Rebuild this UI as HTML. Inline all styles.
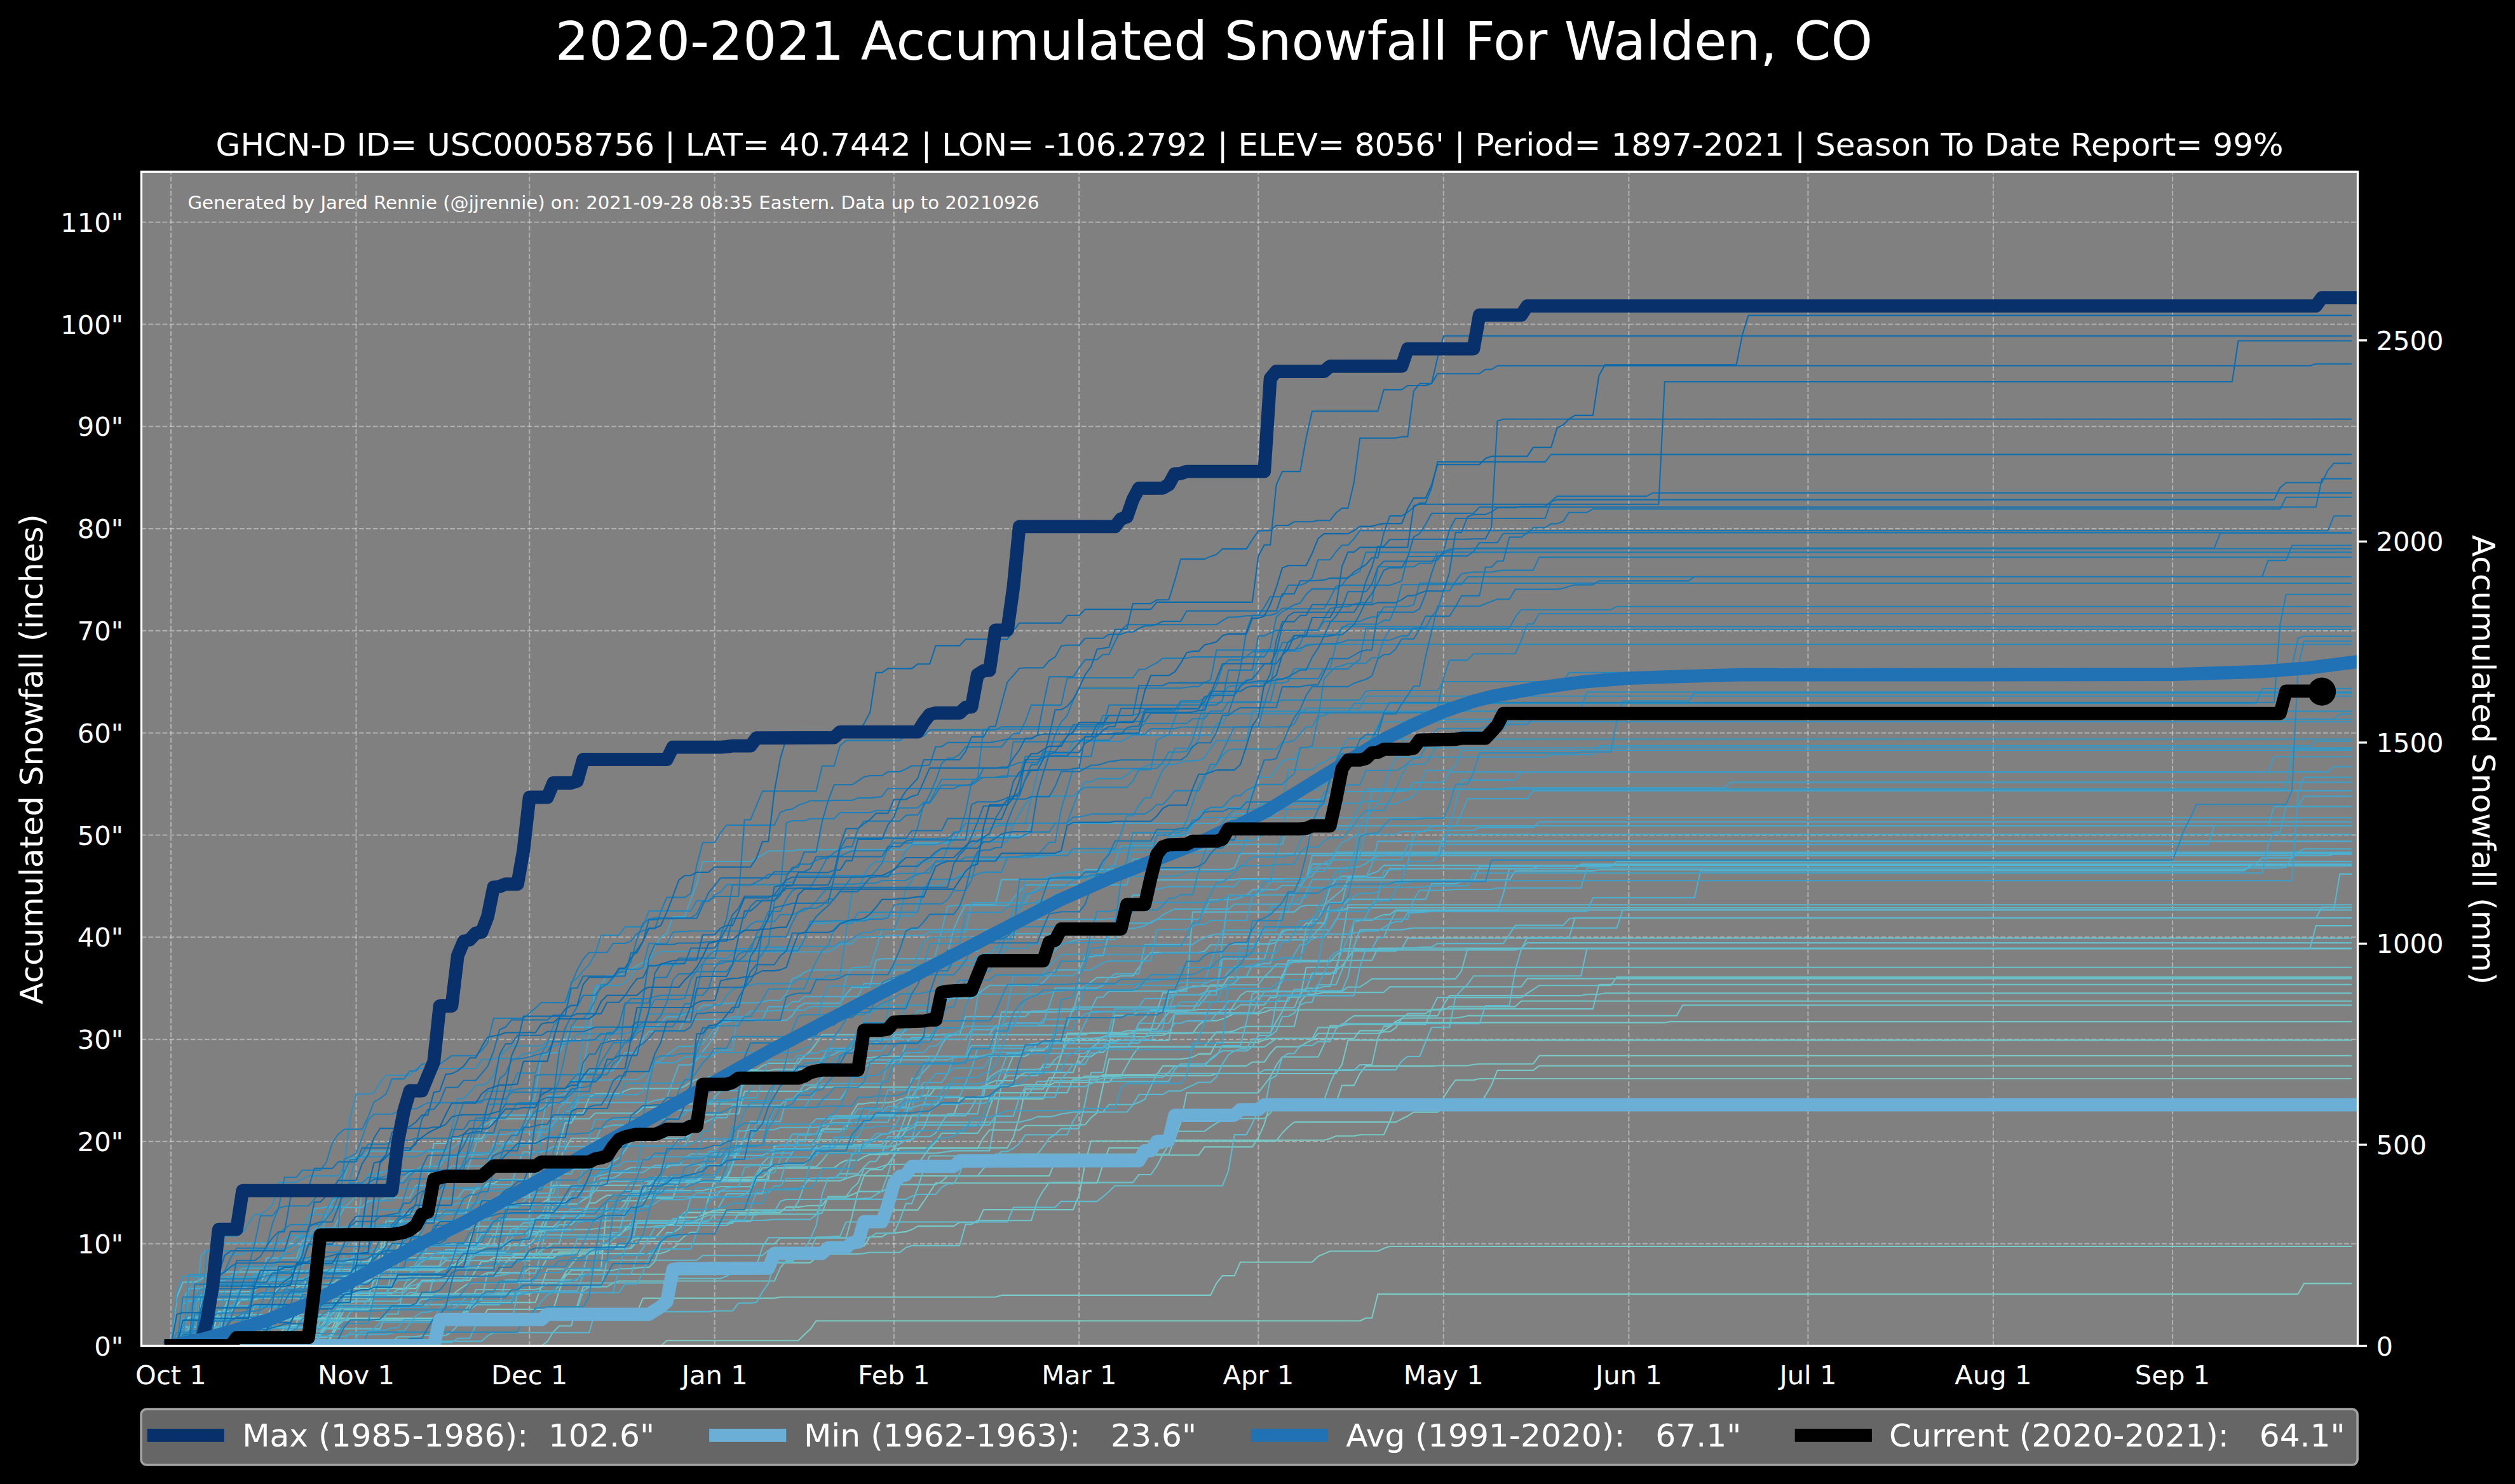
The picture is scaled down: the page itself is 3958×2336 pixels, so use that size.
<!DOCTYPE html><html><head><meta charset="utf-8"><title>2020-2021 Accumulated Snowfall For Walden, CO</title>
<style>html,body{margin:0;padding:0;background:#000;}svg{display:block}text{font-family:"DejaVu Sans","Liberation Sans",sans-serif;fill:#fff}</style></head><body>
<svg width="3958" height="2336" viewBox="0 0 3958 2336">
<rect width="3958" height="2336" fill="#000"/>
<rect x="222.5" y="270.3" width="3488.0" height="1848.2" fill="#808080"/>
<clipPath id="c"><rect x="222.5" y="270.3" width="3488.0" height="1848.2"/></clipPath>
<path d="M269.0 2118.5V270.3M560.5 2118.5V270.3M833.2 2118.5V270.3M1124.7 2118.5V270.3M1406.8 2118.5V270.3M1698.3 2118.5V270.3M1980.3 2118.5V270.3M2271.8 2118.5V270.3M2563.3 2118.5V270.3M2845.4 2118.5V270.3M3136.9 2118.5V270.3M3419.0 2118.5V270.3" stroke="#fff" stroke-opacity="0.37" stroke-width="2.08" stroke-dasharray="7.71 3.33" fill="none"/>
<path d="M222.5 2118.5H3710.5M222.5 1957.7H3710.5M222.5 1796.9H3710.5M222.5 1636.1H3710.5M222.5 1475.3H3710.5M222.5 1314.5H3710.5M222.5 1153.7H3710.5M222.5 992.9H3710.5M222.5 832.1H3710.5M222.5 671.3H3710.5M222.5 510.5H3710.5M222.5 349.7H3710.5" stroke="#fff" stroke-opacity="0.37" stroke-width="2.08" stroke-dasharray="7.71 3.33" fill="none"/>
<g clip-path="url(#c)" fill="none" stroke-linejoin="round">
<g stroke-width="2.08" stroke-linecap="butt">
<path d="M269.0 2118.5L1040.0 2118.5L1049.4 2110.3L1256.3 2110.3L1265.7 2101.0L1275.1 2092.3L1284.5 2079.2L2140.2 2079.2L2149.6 2074.8L2159.0 2074.8L2168.4 2037.1L3616.5 2037.1L3625.9 2020.4L3701.1 2020.4" stroke="#7bccc4"/>
<path d="M269.0 2118.5L306.6 2118.5L316.0 2096.8L325.4 2075.1L870.8 2075.1L880.2 2066.2L1002.4 2066.2L1011.8 2043.6L1218.7 2043.6L1228.1 2041.8L1566.6 2041.8L1576.0 2038.9L1905.1 2038.9L1914.5 2019.8L1923.9 2008.1L1942.7 2008.1L1952.1 1986.7L2065.0 1986.7L2074.4 1977.8L2083.8 1973.6L2093.2 1969.5L2168.4 1969.5L2177.8 1965.1L2187.2 1962.0L3701.1 1962.0" stroke="#79cbc5"/>
<path d="M269.0 2118.5L278.4 2118.5L287.8 2108.1L297.2 2097.4L334.8 2097.4L344.2 2064.4L363.0 2064.4L372.4 2055.1L381.8 2042.6L532.3 2042.6L541.7 2015.0L551.1 1999.3L692.1 1999.3L701.5 1996.5L710.9 1996.5L720.3 1985.5L729.7 1973.6L936.6 1973.6L946.0 1966.0L955.4 1958.0L964.8 1950.3L974.2 1945.4L983.6 1935.1L993.0 1925.8L1058.9 1925.8L1068.3 1916.2L1096.5 1916.2L1105.9 1912.6L1115.3 1909.0L1124.7 1904.6L1444.4 1904.6L1453.8 1891.2L1463.2 1877.0L1472.6 1862.2L1726.5 1862.2L1735.9 1832.8L1745.3 1807.0L1829.9 1807.0L1839.3 1794.7L2083.8 1794.7L2093.2 1792.3L2102.6 1788.2L2130.8 1788.2L2140.2 1786.2L2177.8 1786.2L2187.2 1765.2L2196.6 1740.8L2262.4 1740.8L2271.8 1727.7L2281.2 1712.9L2290.6 1700.2L2318.9 1700.2L2328.3 1698.0L3701.1 1698.0" stroke="#78cac5"/>
<path d="M269.0 2118.5L513.5 2118.5L522.9 2097.9L532.3 2078.0L758.0 2078.0L767.4 2061.0L870.8 2061.0L880.2 2031.5L889.6 2005.7L1096.5 2005.7L1105.9 2003.7L1115.3 1987.6L1275.1 1987.6L1284.5 1979.6L1293.9 1961.4L1359.7 1961.4L1369.2 1946.9L1388.0 1946.9L1397.4 1941.2L1406.8 1941.2L1416.2 1939.9L1425.6 1938.9L1435.0 1935.6L1444.4 1930.1L1500.8 1930.1L1510.2 1924.2L1538.4 1924.2L1547.8 1904.1L1688.9 1904.1L1698.3 1881.0L1707.7 1831.0L1717.1 1796.2L2008.6 1796.2L2018.0 1783.5L2027.4 1774.0L2036.8 1766.4L2196.6 1766.4L2206.0 1761.3L2215.4 1756.7L2224.8 1750.6L2262.4 1750.6L2271.8 1743.8L2281.2 1739.8L2328.3 1739.8L2337.7 1724.5L2347.1 1708.4L2356.5 1684.9L2412.9 1684.9L2422.3 1677.7L3701.1 1677.7" stroke="#76c9c6"/>
<path d="M269.0 2118.5L428.9 2118.5L438.3 2101.7L447.7 2090.7L466.5 2090.7L475.9 2090.6L485.3 2090.5L522.9 2090.5L532.3 2070.3L541.7 2044.4L551.1 2028.1L654.5 2028.1L663.9 2015.5L739.2 2015.5L748.6 1999.7L758.0 1985.6L767.4 1985.6L776.8 1979.9L870.8 1979.9L880.2 1970.8L946.0 1970.8L955.4 1960.7L983.6 1960.7L993.0 1952.4L1002.4 1949.3L1030.6 1949.3L1040.0 1938.4L1049.4 1927.8L1058.9 1927.8L1068.3 1915.8L1077.7 1908.6L1228.1 1908.6L1237.5 1900.1L1256.3 1900.1L1265.7 1898.8L1275.1 1897.7L1293.9 1897.7L1303.3 1884.5L1331.5 1884.5L1340.9 1880.5L1350.3 1876.8L1359.7 1851.0L1651.2 1851.0L1660.6 1827.7L1679.5 1827.7L1688.9 1825.9L1698.3 1824.1L1707.7 1818.3L1886.3 1818.3L1895.7 1805.4L1970.9 1805.4L1980.3 1790.7L1989.7 1769.4L1999.2 1736.0L2102.6 1736.0L2112.0 1708.6L2130.8 1708.6L2140.2 1689.8L2149.6 1678.1L2253.0 1678.1L2262.4 1677.5L2309.5 1677.5L2318.9 1675.8L2328.3 1674.7L2412.9 1674.7L2422.3 1661.8L3701.1 1661.8" stroke="#75c9c6"/>
<path d="M269.0 2118.5L278.4 2118.5L287.8 2086.6L297.2 2073.5L419.4 2073.5L428.9 2055.4L466.5 2055.4L475.9 2054.0L532.3 2054.0L541.7 2048.6L579.3 2048.6L588.7 2037.2L598.1 2000.7L607.5 1943.3L616.9 1933.9L626.3 1933.9L635.7 1910.2L748.6 1910.2L758.0 1896.7L833.2 1896.7L842.6 1894.5L852.0 1894.5L861.4 1888.8L870.8 1865.8L1021.2 1865.8L1030.6 1853.1L1143.5 1853.1L1152.9 1833.4L1162.3 1804.9L1171.7 1794.2L1416.2 1794.2L1425.6 1779.0L1435.0 1755.5L1500.8 1755.5L1510.2 1729.6L1641.8 1729.6L1651.2 1708.6L1660.6 1703.7L1745.3 1703.7L1754.7 1693.3L1905.1 1693.3L1914.5 1690.0L2102.6 1690.0L2112.0 1675.6L2121.4 1637.4L3701.1 1637.4" stroke="#73c8c7"/>
<path d="M269.0 2118.5L513.5 2118.5L522.9 2102.3L532.3 2085.8L541.7 2077.5L720.3 2077.5L729.7 2066.8L739.2 2061.5L748.6 2054.6L758.0 2050.1L842.6 2050.1L852.0 2024.5L861.4 1997.7L946.0 1997.7L955.4 1890.3L1011.8 1890.3L1021.2 1885.6L1058.9 1885.6L1068.3 1858.4L1087.1 1858.4L1096.5 1856.9L1105.9 1854.0L1162.3 1854.0L1171.7 1853.7L1181.1 1853.0L1199.9 1853.0L1209.3 1845.0L1218.7 1838.6L1312.7 1838.6L1322.1 1831.0L1331.5 1826.5L1350.3 1826.5L1359.7 1821.0L1369.2 1817.3L1397.4 1817.3L1406.8 1807.8L1538.4 1807.8L1547.8 1790.6L1557.2 1778.8L1604.2 1778.8L1613.6 1771.7L1688.9 1771.7L1698.3 1771.2L1707.7 1770.3L1717.1 1759.2L1726.5 1751.8L1735.9 1708.8L1745.3 1667.3L1858.1 1667.3L1867.5 1665.9L1876.9 1664.1L1886.3 1659.1L1905.1 1659.1L1914.5 1640.8L1980.3 1640.8L1989.7 1636.7L1999.2 1634.7L2130.8 1634.7L2140.2 1622.4L2177.8 1622.4L2187.2 1615.9L2196.6 1609.9L2619.8 1609.9L2629.2 1608.1L3701.1 1608.1" stroke="#72c7c7"/>
<path d="M269.0 2118.5L391.2 2118.5L400.6 2113.7L447.7 2113.7L457.1 2086.3L466.5 2086.3L475.9 2031.1L485.3 2004.7L494.7 1986.3L579.3 1986.3L588.7 1973.1L710.9 1973.1L720.3 1970.3L729.7 1968.2L739.2 1965.8L758.0 1965.8L767.4 1960.5L833.2 1960.5L842.6 1947.9L852.0 1931.1L870.8 1931.1L880.2 1922.1L889.6 1914.6L917.8 1914.6L927.2 1893.6L936.6 1893.6L946.0 1887.1L955.4 1881.5L1002.4 1881.5L1011.8 1876.4L1021.2 1870.2L1030.6 1865.3L1058.9 1865.3L1068.3 1858.7L1322.1 1858.7L1331.5 1855.3L1340.9 1852.1L1350.3 1849.7L1359.7 1849.7L1369.2 1841.1L1388.0 1841.1L1397.4 1832.3L1406.8 1819.4L1416.2 1807.0L1585.4 1807.0L1594.8 1790.1L1604.2 1758.1L1613.6 1714.2L1641.8 1714.2L1651.2 1696.5L1726.5 1696.5L1735.9 1692.0L1820.5 1692.0L1829.9 1677.9L1961.5 1677.9L1970.9 1671.8L1989.7 1671.8L1999.2 1658.0L2008.6 1647.7L2046.2 1647.7L2055.6 1641.4L2065.0 1637.3L2074.4 1626.8L2168.4 1626.8L2177.8 1624.3L2187.2 1624.3L2196.6 1617.8L2206.0 1602.7L2215.4 1602.7L2224.8 1602.5L2290.6 1602.5L2300.0 1601.2L2309.5 1598.9L2638.6 1598.9L2648.0 1582.2L3701.1 1582.2" stroke="#70c6c8"/>
<path d="M269.0 2118.5L306.6 2118.5L316.0 2052.2L325.4 2022.9L504.1 2022.9L513.5 2019.9L569.9 2019.9L579.3 2015.6L588.7 2013.1L598.1 2010.3L748.6 2010.3L758.0 2007.7L767.4 2003.4L823.8 2003.4L833.2 1996.5L852.0 1996.5L861.4 1979.9L870.8 1967.5L936.6 1967.5L946.0 1966.3L955.4 1965.3L993.0 1965.3L1002.4 1954.3L1068.3 1954.3L1077.7 1945.5L1087.1 1939.7L1096.5 1939.7L1105.9 1917.1L1115.3 1885.3L1124.7 1856.8L1209.3 1856.8L1218.7 1803.2L1275.1 1803.2L1284.5 1793.6L1293.9 1777.4L1331.5 1777.4L1340.9 1752.3L1350.3 1737.6L1359.7 1737.6L1369.2 1735.8L1397.4 1735.8L1406.8 1734.0L1416.2 1730.6L1425.6 1727.7L1444.4 1727.7L1453.8 1724.3L1463.2 1724.3L1472.6 1711.3L1538.4 1711.3L1547.8 1709.6L1594.8 1709.6L1604.2 1708.7L1613.6 1707.4L1651.2 1707.4L1660.6 1688.8L1670.0 1661.9L1679.5 1626.6L1876.9 1626.6L1886.3 1613.7L1895.7 1606.7L1914.5 1606.7L1923.9 1604.1L1942.7 1595.5L1980.3 1595.5L1989.7 1593.3L1999.2 1589.8L2271.8 1589.8L2281.2 1584.6L2384.7 1584.6L2394.1 1575.8L3701.1 1575.8" stroke="#6fc5c8"/>
<path d="M269.0 2118.5L410.0 2118.5L419.4 2100.8L504.1 2100.8L513.5 2077.1L522.9 2050.2L532.3 2046.7L541.7 2039.6L710.9 2039.6L720.3 2031.3L729.7 2024.8L739.2 2019.2L880.2 2019.2L889.6 2003.3L899.0 1991.1L908.4 1979.6L917.8 1973.1L1040.0 1973.1L1049.4 1970.1L1058.9 1964.4L1068.3 1958.1L1218.7 1958.1L1228.1 1948.6L1331.5 1948.6L1340.9 1914.8L1350.3 1875.6L1388.0 1875.6L1397.4 1870.6L1406.8 1864.6L1472.6 1864.6L1482.0 1859.7L1491.4 1851.2L1538.4 1851.2L1547.8 1839.4L1557.2 1830.9L1566.6 1816.8L1839.3 1816.8L1848.7 1793.4L1858.1 1767.1L1867.5 1720.4L1980.3 1720.4L1989.7 1707.7L1999.2 1695.1L2008.6 1676.9L2018.0 1663.7L2074.4 1663.7L2083.8 1643.9L2093.2 1614.8L2112.0 1614.8L2121.4 1605.3L2130.8 1599.1L2262.4 1599.1L2271.8 1581.9L2281.2 1567.1L2488.1 1567.1L2497.5 1565.2L2516.3 1565.2L2525.7 1563.4L3701.1 1563.4" stroke="#6dc4c9"/>
<path d="M269.0 2118.5L852.0 2118.5L861.4 2111.7L870.8 2096.4L880.2 2087.2L899.0 2087.2L908.4 2055.0L917.8 2025.4L955.4 2025.4L964.8 2019.6L974.2 2016.5L1218.7 2016.5L1228.1 1995.3L1237.5 1984.8L1246.9 1984.8L1256.3 1975.7L1265.7 1973.9L1350.3 1973.9L1359.7 1973.1L1369.2 1971.5L1416.2 1971.5L1425.6 1963.7L1435.0 1960.7L1510.2 1960.7L1519.6 1927.2L1529.0 1927.2L1538.4 1921.2L1623.0 1921.2L1632.4 1890.6L1641.8 1874.3L1651.2 1861.4L1782.9 1861.4L1792.3 1849.0L1811.1 1849.0L1820.5 1835.7L1829.9 1817.5L1839.3 1802.0L1848.7 1780.7L1895.7 1780.7L1905.1 1773.9L1914.5 1767.9L1923.9 1763.3L1933.3 1760.7L1989.7 1760.7L1999.2 1752.1L2008.6 1736.0L2046.2 1736.0L2055.6 1731.9L2083.8 1731.9L2093.2 1705.0L2102.6 1685.0L2130.8 1685.0L2140.2 1676.1L2149.6 1676.0L2159.0 1676.0L2168.4 1633.8L2177.8 1615.4L2187.2 1615.4L2196.6 1607.9L2206.0 1603.3L2215.4 1595.6L2243.6 1595.6L2253.0 1588.7L2262.4 1588.7L2271.8 1588.1L2506.9 1588.1L2516.3 1549.9L3701.1 1549.9" stroke="#6cc3c9"/>
<path d="M269.0 2118.5L297.2 2118.5L306.6 2045.7L400.6 2045.7L410.0 2043.3L579.3 2043.3L588.7 2014.0L598.1 1970.5L607.5 1922.3L710.9 1922.3L720.3 1922.0L729.7 1921.6L739.2 1888.7L748.6 1870.3L758.0 1870.3L767.4 1863.1L776.8 1863.1L786.2 1856.9L833.2 1856.9L842.6 1825.0L880.2 1825.0L889.6 1807.9L899.0 1791.8L1077.7 1791.8L1087.1 1784.7L1096.5 1754.8L1134.1 1754.8L1143.5 1753.9L1152.9 1753.2L1162.3 1753.2L1171.7 1717.9L1265.7 1717.9L1275.1 1711.4L1547.8 1711.4L1557.2 1705.0L1566.6 1701.1L1594.8 1701.1L1604.2 1693.9L1613.6 1688.1L1688.9 1688.1L1698.3 1663.2L1717.1 1663.2L1726.5 1656.6L1735.9 1656.6L1745.3 1647.6L1895.7 1647.6L1905.1 1635.3L1914.5 1624.5L1933.3 1624.5L1942.7 1622.6L1952.1 1618.1L1961.5 1615.7L2036.8 1615.7L2046.2 1577.9L2055.6 1565.4L2065.0 1565.4L2074.4 1563.9L2083.8 1562.1L2177.8 1562.1L2187.2 1553.4L2394.1 1553.4L2403.5 1540.4L3701.1 1540.4" stroke="#6ac3ca"/>
<path d="M269.0 2118.5L494.7 2118.5L504.1 2101.0L513.5 2088.0L522.9 2080.4L532.3 2080.4L541.7 2061.7L579.3 2061.7L588.7 2039.0L645.1 2039.0L654.5 2036.6L833.2 2036.6L842.6 2033.2L870.8 2033.2L880.2 2023.3L889.6 2009.5L899.0 1999.8L964.8 1999.8L974.2 1997.3L983.6 1997.3L993.0 1996.9L1002.4 1995.9L1011.8 1994.9L1021.2 1994.9L1030.6 1985.4L1040.0 1959.1L1049.4 1940.1L1058.9 1940.1L1068.3 1934.6L1077.7 1925.8L1152.9 1925.8L1162.3 1911.2L1284.5 1911.2L1293.9 1909.4L1303.3 1883.6L1331.5 1883.6L1340.9 1870.5L1350.3 1862.2L1359.7 1839.2L1378.6 1839.2L1388.0 1835.9L1397.4 1832.9L1444.4 1832.9L1453.8 1819.6L1463.2 1807.0L1472.6 1797.5L1482.0 1783.9L1538.4 1783.9L1547.8 1771.0L1557.2 1743.5L1566.6 1720.1L1679.5 1720.1L1688.9 1698.6L1698.3 1698.6L1707.7 1694.0L1764.1 1694.0L1773.5 1676.9L1782.9 1660.5L1792.3 1648.0L1989.7 1648.0L1999.2 1641.3L2008.6 1634.9L2065.0 1634.9L2074.4 1617.4L2102.6 1617.4L2112.0 1614.1L2121.4 1612.8L2243.6 1612.8L2253.0 1588.4L2262.4 1570.1L2394.1 1570.1L2403.5 1563.6L2412.9 1557.6L2422.3 1551.2L2535.1 1551.2L2544.5 1538.0L3701.1 1538.0" stroke="#68c2ca"/>
<path d="M269.0 2118.5L278.4 2118.5L287.8 2088.9L504.1 2088.9L513.5 2075.9L522.9 2049.4L532.3 2036.1L616.9 2036.1L626.3 2029.9L635.7 2029.9L645.1 2021.1L654.5 2014.0L663.9 2005.7L682.7 2005.7L692.1 2000.4L701.5 1996.2L710.9 1991.4L720.3 1991.4L729.7 1984.1L739.2 1950.4L748.6 1930.5L852.0 1930.5L861.4 1908.8L870.8 1837.7L880.2 1802.1L889.6 1767.6L899.0 1767.6L908.4 1752.2L917.8 1752.2L927.2 1727.5L936.6 1721.8L974.2 1721.8L983.6 1717.4L993.0 1713.5L1068.3 1713.5L1077.7 1709.9L1087.1 1703.6L1096.5 1698.7L1162.3 1698.7L1171.7 1690.8L1181.1 1685.6L1209.3 1685.6L1218.7 1683.4L1312.7 1683.4L1322.1 1678.2L1350.3 1678.2L1359.7 1665.0L1369.2 1665.0L1378.6 1663.7L1388.0 1662.7L1613.6 1662.7L1623.0 1656.9L1632.4 1642.4L1660.6 1642.4L1670.0 1634.7L1726.5 1634.7L1735.9 1632.0L1801.7 1632.0L1811.1 1629.9L1820.5 1629.7L1829.9 1629.7L1839.3 1625.8L1999.2 1625.8L2008.6 1608.1L2018.0 1592.4L2027.4 1569.7L2046.2 1569.7L2055.6 1522.7L3701.1 1522.7" stroke="#67c1cb"/>
<path d="M269.0 2118.5L278.4 2118.5L287.8 2110.9L297.2 2103.0L344.2 2103.0L353.6 2057.4L363.0 2037.5L428.9 2037.5L438.3 2027.8L466.5 2027.8L475.9 2020.8L522.9 2020.8L532.3 2013.0L541.7 2009.3L551.1 2001.5L569.9 2001.5L579.3 1998.9L588.7 1992.7L616.9 1992.7L626.3 1959.9L663.9 1959.9L673.3 1959.2L767.4 1959.2L776.8 1942.4L823.8 1942.4L833.2 1939.1L852.0 1939.1L861.4 1920.4L870.8 1898.4L880.2 1895.4L908.4 1895.4L917.8 1889.0L927.2 1883.4L936.6 1874.2L1105.9 1874.2L1115.3 1871.8L1124.7 1869.8L1134.1 1868.0L1181.1 1868.0L1190.5 1853.4L1199.9 1838.2L1228.1 1838.2L1237.5 1837.4L1246.9 1836.7L1284.5 1836.7L1293.9 1826.9L1303.3 1815.2L1472.6 1815.2L1482.0 1814.1L1491.4 1812.6L1500.8 1811.4L1557.2 1811.4L1566.6 1757.8L1576.0 1707.6L1585.4 1683.8L1594.8 1661.5L1604.2 1656.7L1613.6 1653.4L1641.8 1653.4L1651.2 1645.0L1660.6 1637.9L1839.3 1637.9L1848.7 1596.5L1858.1 1596.5L1867.5 1595.2L1933.3 1595.2L1942.7 1580.9L1952.1 1567.1L1961.5 1560.5L2112.0 1560.5L2121.4 1553.7L2140.2 1553.7L2149.6 1547.6L2159.0 1540.9L2290.6 1540.9L2300.0 1528.4L2309.5 1493.5L3701.1 1493.5" stroke="#65c0cb"/>
<path d="M269.0 2118.5L287.8 2118.5L297.2 2115.4L391.2 2115.4L400.6 2112.3L410.0 2098.3L419.4 2079.7L438.3 2079.7L447.7 2078.8L457.1 2077.3L513.5 2077.3L522.9 2051.5L541.7 2051.5L551.1 2050.6L560.5 2048.4L569.9 2008.5L579.3 1988.6L588.7 1975.1L598.1 1966.6L607.5 1958.8L654.5 1958.8L663.9 1906.9L673.3 1854.5L682.7 1800.0L701.5 1800.0L710.9 1792.5L758.0 1792.5L767.4 1777.7L776.8 1761.3L927.2 1761.3L936.6 1752.3L1002.4 1752.3L1011.8 1742.9L1068.3 1742.9L1077.7 1737.7L1162.3 1737.7L1171.7 1690.0L1181.1 1684.1L1190.5 1684.1L1199.9 1677.7L1209.3 1673.9L1256.3 1673.9L1265.7 1661.9L1275.1 1654.7L1284.5 1642.5L1293.9 1628.7L1707.7 1628.7L1717.1 1625.2L1764.1 1625.2L1773.5 1622.4L1811.1 1622.4L1820.5 1592.8L1829.9 1563.0L1839.3 1562.2L1848.7 1561.4L1858.1 1558.7L1867.5 1555.7L1876.9 1552.3L1923.9 1552.3L1933.3 1538.1L2018.0 1538.1L2027.4 1511.7L2159.0 1511.7L2168.4 1492.5L3701.1 1492.5" stroke="#64bfcc"/>
<path d="M269.0 2118.5L287.8 2118.5L297.2 2105.1L513.5 2105.1L522.9 2099.1L532.3 2082.6L541.7 2078.1L701.5 2078.1L720.3 2078.1L729.7 2078.1L739.2 2059.4L748.6 2030.0L842.6 2030.0L852.0 2026.7L861.4 2019.5L1058.9 2019.5L1068.3 2012.5L1134.1 2012.5L1143.5 2008.7L1152.9 2003.4L1181.1 2003.4L1190.5 1992.7L1199.9 1962.9L1209.3 1948.2L1369.2 1948.2L1378.6 1941.3L1406.8 1941.3L1416.2 1920.3L1425.6 1894.6L1435.0 1894.6L1444.4 1869.8L1453.8 1840.0L1463.2 1819.5L1576.0 1819.5L1585.4 1818.6L1594.8 1817.6L1604.2 1816.8L1632.4 1816.8L1641.8 1805.2L1651.2 1791.7L1660.6 1785.8L1670.0 1776.6L1698.3 1776.6L1707.7 1735.6L1717.1 1688.1L1735.9 1688.1L1745.3 1644.6L1754.7 1598.3L1782.9 1598.3L1792.3 1591.7L1867.5 1591.7L1876.9 1590.5L1886.3 1589.0L1942.7 1589.0L1952.1 1581.8L1989.7 1581.8L1999.2 1570.1L2008.6 1570.1L2018.0 1533.8L2093.2 1533.8L2102.6 1527.0L2112.0 1520.5L2121.4 1508.2L2130.8 1495.4L2384.7 1495.4L2394.1 1492.6L2403.5 1484.1L3701.1 1484.1" stroke="#62becc"/>
<path d="M269.0 2118.5L475.9 2118.5L485.3 2102.7L494.7 2102.7L504.1 2077.9L720.3 2077.9L729.7 2064.5L739.2 2053.2L748.6 2048.8L758.0 2044.2L767.4 2003.5L786.2 2003.5L795.6 1987.9L805.0 1979.3L814.4 1974.9L842.6 1974.9L852.0 1939.8L861.4 1935.5L927.2 1935.5L936.6 1934.3L946.0 1933.5L955.4 1931.6L1021.2 1931.6L1030.6 1930.4L1040.0 1929.0L1143.5 1929.0L1152.9 1922.8L1181.1 1922.8L1190.5 1905.1L1246.9 1905.1L1256.3 1891.8L1265.7 1865.1L1275.1 1854.6L1312.7 1854.6L1322.1 1847.6L1350.3 1847.6L1359.7 1837.0L1369.2 1828.1L1378.6 1828.1L1388.0 1814.7L1397.4 1793.7L1406.8 1793.7L1416.2 1782.4L1425.6 1755.6L1435.0 1726.0L1444.4 1713.2L1547.8 1713.2L1557.2 1712.7L1566.6 1712.7L1576.0 1703.5L1585.4 1693.2L1632.4 1693.2L1641.8 1675.4L1698.3 1675.4L1707.7 1664.4L1717.1 1650.4L1726.5 1642.6L1735.9 1632.1L1745.3 1628.7L1773.5 1628.7L1782.9 1624.2L1792.3 1619.9L1820.5 1619.9L1829.9 1605.1L1839.3 1594.3L1980.3 1594.3L1989.7 1586.3L2036.8 1586.3L2046.2 1564.6L2055.6 1555.6L2074.4 1555.6L2083.8 1553.0L2093.2 1553.0L2102.6 1522.0L2112.0 1494.1L2121.4 1493.2L2206.0 1493.2L2215.4 1476.7L3701.1 1476.7" stroke="#61bdcd"/>
<path d="M269.0 2118.5L306.6 2118.5L316.0 2037.1L325.4 2033.1L391.2 2033.1L400.6 2031.8L410.0 2020.4L419.4 2000.7L504.1 2000.7L513.5 1999.2L522.9 1998.1L626.3 1998.1L635.7 1997.0L645.1 1994.4L654.5 1993.4L692.1 1993.4L701.5 1984.3L833.2 1984.3L842.6 1975.2L852.0 1967.9L861.4 1963.1L870.8 1957.7L880.2 1957.7L889.6 1921.8L908.4 1921.8L917.8 1921.7L927.2 1921.6L936.6 1921.5L1096.5 1921.5L1105.9 1916.7L1115.3 1912.5L1190.5 1912.5L1199.9 1907.5L1218.7 1907.5L1228.1 1891.1L1237.5 1888.0L1284.5 1888.0L1293.9 1887.8L1303.3 1887.2L1350.3 1887.2L1359.7 1886.2L1369.2 1886.2L1378.6 1880.4L1388.0 1874.5L1397.4 1848.2L1406.8 1815.5L1416.2 1779.9L1425.6 1775.5L1435.0 1772.0L1444.4 1766.9L1453.8 1766.5L1604.2 1766.5L1613.6 1764.1L1623.0 1761.9L1632.4 1757.9L1651.2 1757.9L1660.6 1756.2L1670.0 1753.4L1679.5 1752.2L1688.9 1750.5L1735.9 1750.5L1745.3 1738.7L1782.9 1738.7L1792.3 1735.3L1801.7 1730.5L1811.1 1710.6L1820.5 1689.8L1980.3 1689.8L1989.7 1684.1L2196.6 1684.1L2206.0 1670.2L2215.4 1663.0L2234.2 1663.0L2243.6 1639.9L2253.0 1617.2L2281.2 1617.2L2290.6 1568.6L2300.0 1558.6L2309.5 1549.7L2318.9 1536.3L2488.1 1536.3L2497.5 1493.0L3635.3 1493.0L3644.7 1457.1L3701.1 1457.1" stroke="#5fbdcd"/>
<path d="M269.0 2118.5L381.8 2118.5L391.2 2116.7L400.6 2115.7L457.1 2115.7L466.5 2112.4L616.9 2112.4L626.3 2104.3L654.5 2104.3L663.9 2102.3L701.5 2102.3L710.9 2096.2L720.3 2086.5L814.4 2086.5L823.8 2084.0L842.6 2084.0L852.0 2064.2L870.8 2064.2L880.2 2060.0L908.4 2060.0L917.8 2032.1L927.2 2025.7L946.0 2025.7L955.4 1983.7L1096.5 1983.7L1105.9 1976.3L1199.9 1976.3L1209.3 1968.4L1275.1 1968.4L1284.5 1947.3L1303.3 1947.3L1312.7 1946.3L1322.1 1945.9L1331.5 1923.5L1585.4 1923.5L1594.8 1900.5L1660.6 1900.5L1670.0 1891.1L1726.5 1891.1L1735.9 1883.7L1745.3 1875.6L1754.7 1866.5L1923.9 1866.5L1933.3 1842.8L1942.7 1786.1L1961.5 1786.1L1970.9 1768.7L1980.3 1747.2L1989.7 1747.2L1999.2 1698.2L2008.6 1693.5L2018.0 1664.2L2027.4 1658.3L2036.8 1658.3L2046.2 1645.7L2065.0 1645.7L2074.4 1639.4L2093.2 1639.4L2102.6 1619.8L2112.0 1611.3L2328.3 1611.3L2337.7 1583.1L2375.3 1583.1L2384.7 1527.0L2394.1 1494.3L2403.5 1476.1L2469.3 1476.1L2478.7 1444.9L3701.1 1444.9" stroke="#5ebcce"/>
<path d="M269.0 2118.5L278.4 2041.6L287.8 2018.3L306.6 2018.3L316.0 2014.2L325.4 2007.5L334.8 2002.4L588.7 2002.4L598.1 1996.5L616.9 1996.5L626.3 1979.8L739.2 1979.8L748.6 1962.2L767.4 1962.2L776.8 1958.7L786.2 1918.9L842.6 1918.9L852.0 1912.7L861.4 1912.7L870.8 1907.1L974.2 1907.1L983.6 1894.7L993.0 1876.6L1011.8 1876.6L1021.2 1861.3L1096.5 1861.3L1105.9 1861.0L1115.3 1860.7L1124.7 1860.1L1181.1 1860.1L1190.5 1848.5L1199.9 1831.2L1209.3 1821.5L1275.1 1821.5L1284.5 1818.4L1293.9 1804.4L1406.8 1804.4L1416.2 1800.5L1425.6 1794.7L1435.0 1794.7L1444.4 1784.9L1453.8 1775.1L1463.2 1750.6L1472.6 1740.3L1482.0 1727.7L1613.6 1727.7L1623.0 1716.4L1632.4 1702.3L1641.8 1702.3L1651.2 1701.3L1688.9 1701.3L1698.3 1700.7L1707.7 1700.7L1717.1 1699.9L1726.5 1699.9L1735.9 1696.9L1764.1 1696.9L1773.5 1695.8L1829.9 1695.8L1839.3 1687.9L1848.7 1678.7L1886.3 1678.7L1895.7 1678.3L1905.1 1666.5L1914.5 1659.4L1923.9 1654.3L1961.5 1654.3L1970.9 1647.9L1980.3 1630.0L1999.2 1630.0L2008.6 1622.9L2018.0 1600.0L2027.4 1600.0L2036.8 1594.8L2046.2 1581.9L2055.6 1577.7L2065.0 1577.7L2074.4 1550.2L2102.6 1550.2L2112.0 1526.9L2121.4 1505.2L2130.8 1449.7L2140.2 1448.5L2159.0 1448.5L2168.4 1443.4L2177.8 1439.9L2187.2 1439.9L2196.6 1432.5L3701.1 1432.5" stroke="#5cbbce"/>
<path d="M269.0 2118.5L287.8 2118.5L297.2 2091.2L306.6 2073.6L513.5 2073.6L522.9 2067.8L532.3 2058.7L541.7 2054.5L654.5 2054.5L663.9 2044.9L673.3 2044.9L682.7 2009.6L692.1 1990.6L701.5 1967.1L710.9 1967.1L720.3 1967.0L729.7 1967.0L739.2 1967.0L748.6 1957.4L758.0 1942.0L842.6 1942.0L852.0 1936.1L870.8 1936.1L880.2 1928.0L899.0 1928.0L908.4 1917.7L917.8 1907.6L927.2 1892.9L936.6 1864.0L946.0 1854.6L964.8 1854.6L974.2 1849.4L983.6 1842.0L993.0 1837.7L1049.4 1837.7L1058.9 1833.5L1265.7 1833.5L1275.1 1821.3L1284.5 1805.3L1293.9 1780.7L1303.3 1773.0L1312.7 1756.4L1519.6 1756.4L1529.0 1743.5L1538.4 1725.7L1547.8 1725.7L1557.2 1679.3L1566.6 1638.4L1576.0 1593.1L1651.2 1593.1L1660.6 1592.8L1670.0 1592.4L1679.5 1592.2L1688.9 1592.2L1698.3 1556.8L1707.7 1552.7L1717.1 1545.5L1726.5 1538.7L1754.7 1538.7L1764.1 1536.3L1782.9 1536.3L1792.3 1522.8L1801.7 1509.6L1811.1 1499.5L1886.3 1499.5L1895.7 1497.4L1905.1 1487.3L1933.3 1487.3L1942.7 1486.0L1952.1 1485.9L1999.2 1485.9L2008.6 1483.8L2018.0 1467.0L2027.4 1463.1L2046.2 1463.1L2055.6 1453.0L2083.8 1453.0L2093.2 1433.4L2112.0 1433.4L2121.4 1429.0L3701.1 1429.0" stroke="#5abacf"/>
<path d="M269.0 2118.5L278.4 2118.5L287.8 2076.5L363.0 2076.5L372.4 2074.0L381.8 2070.4L391.2 2069.9L400.6 2069.3L522.9 2069.3L532.3 2059.5L616.9 2059.5L626.3 2053.6L786.2 2053.6L795.6 2014.8L908.4 2014.8L917.8 2000.6L927.2 1966.3L983.6 1966.3L993.0 1963.7L1002.4 1924.0L1105.9 1924.0L1115.3 1921.7L1124.7 1911.2L1134.1 1895.0L1143.5 1879.1L1199.9 1879.1L1209.3 1845.8L1218.7 1805.6L1228.1 1801.7L1388.0 1801.7L1397.4 1789.3L1463.2 1789.3L1472.6 1783.5L1482.0 1767.9L1491.4 1753.4L1538.4 1753.4L1547.8 1714.2L1557.2 1695.7L1566.6 1689.1L1576.0 1683.6L1632.4 1683.6L1641.8 1680.2L1651.2 1679.7L1660.6 1667.5L1670.0 1660.6L1679.5 1640.5L1688.9 1634.7L1717.1 1634.7L1726.5 1633.7L1735.9 1632.4L1745.3 1631.2L1782.9 1631.2L1792.3 1610.2L1801.7 1601.5L1811.1 1590.1L1876.9 1590.1L1886.3 1576.4L1895.7 1563.7L1905.1 1550.2L1980.3 1550.2L1989.7 1537.7L1999.2 1528.4L2008.6 1517.5L2027.4 1517.5L2036.8 1514.0L2093.2 1514.0L2102.6 1503.7L2112.0 1497.0L2196.6 1497.0L2206.0 1492.4L2224.8 1492.4L2234.2 1491.4L2243.6 1490.8L2253.0 1490.8L2262.4 1485.1L2365.9 1485.1L2375.3 1471.0L2384.7 1456.6L2459.9 1456.6L2469.3 1446.5L2478.7 1444.9L3644.7 1444.9L3654.1 1428.2L3701.1 1428.2" stroke="#59b9cf"/>
<path d="M269.0 2118.5L494.7 2118.5L504.1 2101.5L513.5 2091.6L598.1 2091.6L607.5 2068.5L626.3 2068.5L635.7 2024.3L645.1 2008.4L654.5 1994.0L663.9 1986.0L673.3 1980.8L682.7 1974.4L692.1 1971.3L795.6 1971.3L805.0 1959.6L814.4 1959.6L823.8 1953.8L833.2 1943.8L974.2 1943.8L983.6 1937.3L993.0 1933.0L1002.4 1925.7L1143.5 1925.7L1152.9 1921.0L1199.9 1921.0L1209.3 1920.4L1218.7 1919.5L1275.1 1919.5L1284.5 1912.3L1293.9 1887.9L1425.6 1887.9L1435.0 1882.9L1444.4 1880.0L1472.6 1880.0L1482.0 1868.8L1491.4 1863.5L1500.8 1863.5L1510.2 1847.1L1519.6 1820.9L1566.6 1820.9L1576.0 1812.6L1585.4 1812.6L1594.8 1807.5L1604.2 1800.1L1613.6 1786.3L1679.5 1786.3L1688.9 1764.7L1698.3 1750.5L1773.5 1750.5L1782.9 1739.1L1792.3 1722.9L1829.9 1722.9L1839.3 1717.4L1858.1 1717.4L1867.5 1712.5L1876.9 1708.2L1886.3 1703.8L1905.1 1703.8L1914.5 1695.1L1923.9 1674.9L1933.3 1660.1L1942.7 1654.4L1952.1 1650.9L1961.5 1650.9L1970.9 1635.3L1989.7 1635.3L1999.2 1629.9L2008.6 1575.9L2027.4 1575.9L2036.8 1557.5L2055.6 1557.5L2065.0 1531.9L2102.6 1531.9L2112.0 1481.0L2121.4 1424.2L3701.1 1424.2" stroke="#57b8d0"/>
<path d="M269.0 2118.5L400.6 2118.5L410.0 2117.1L504.1 2117.1L513.5 2114.4L560.5 2114.4L569.9 2112.7L579.3 2111.2L758.0 2111.2L767.4 2102.7L776.8 2097.8L927.2 2097.8L936.6 2064.7L1115.3 2064.7L1124.7 2063.5L1152.9 2063.5L1162.3 2051.2L1181.1 2051.2L1190.5 2049.9L1199.9 2033.5L1209.3 2020.2L1218.7 1986.7L1246.9 1986.7L1256.3 1974.0L1265.7 1966.1L1275.1 1951.0L1284.5 1929.2L1293.9 1879.1L1303.3 1853.9L1331.5 1853.9L1340.9 1815.3L1350.3 1815.3L1359.7 1798.6L1369.2 1798.6L1378.6 1791.2L1388.0 1785.3L1397.4 1785.3L1406.8 1780.1L1425.6 1780.1L1435.0 1775.9L1444.4 1770.9L1557.2 1770.9L1566.6 1756.9L1594.8 1756.9L1604.2 1728.1L1613.6 1710.4L1707.7 1710.4L1717.1 1705.8L1726.5 1702.3L1839.3 1702.3L1848.7 1683.6L1858.1 1674.8L1895.7 1674.8L1905.1 1668.3L1914.5 1661.3L1923.9 1646.0L1952.1 1646.0L1961.5 1609.0L1970.9 1564.5L1980.3 1561.1L2036.8 1561.1L2046.2 1560.5L2055.6 1559.7L2112.0 1559.7L2121.4 1537.7L2130.8 1490.1L2140.2 1463.6L2206.0 1463.6L2215.4 1462.1L2224.8 1460.7L2544.5 1460.7L2553.9 1432.2L3672.9 1432.2L3682.3 1375.9L3701.1 1375.9" stroke="#56b7d0"/>
<path d="M269.0 2118.5L316.0 2118.5L325.4 2101.3L485.3 2101.3L494.7 2092.6L504.1 2079.3L532.3 2079.3L541.7 2041.7L607.5 2041.7L616.9 1997.1L701.5 1997.1L710.9 1995.7L776.8 1995.7L786.2 1984.9L795.6 1953.4L805.0 1934.2L814.4 1933.4L823.8 1924.9L833.2 1924.9L842.6 1921.5L852.0 1913.9L861.4 1891.9L889.6 1891.9L899.0 1875.2L936.6 1875.2L946.0 1861.7L955.4 1861.7L964.8 1859.6L1143.5 1859.6L1152.9 1833.1L1162.3 1780.3L1171.7 1780.3L1181.1 1778.3L1218.7 1778.3L1228.1 1774.7L1284.5 1774.7L1293.9 1772.4L1303.3 1769.8L1312.7 1767.3L1340.9 1767.3L1350.3 1766.9L1359.7 1766.7L1369.2 1766.5L1397.4 1766.5L1406.8 1742.5L1425.6 1742.5L1435.0 1697.7L1444.4 1697.7L1453.8 1686.9L1463.2 1676.9L1472.6 1664.1L1482.0 1644.2L1491.4 1631.5L1500.8 1629.1L1510.2 1629.1L1519.6 1600.1L1613.6 1600.1L1623.0 1591.5L1641.8 1591.5L1651.2 1588.6L1717.1 1588.6L1726.5 1569.8L1735.9 1569.8L1745.3 1560.2L1867.5 1560.2L1876.9 1435.6L2036.8 1435.6L2046.2 1427.2L2055.6 1425.0L2083.8 1425.0L2093.2 1416.6L2102.6 1408.7L2112.0 1401.5L2121.4 1385.3L2375.3 1385.3L2384.7 1371.0L2506.9 1371.0L2516.3 1369.2L3531.8 1369.2L3541.2 1362.7L3701.1 1362.7" stroke="#54b6d1"/>
<path d="M269.0 2118.5L466.5 2118.5L475.9 2095.5L504.1 2095.5L513.5 2080.3L522.9 2080.3L532.3 2062.6L541.7 2048.2L626.3 2048.2L635.7 2039.9L645.1 2034.5L654.5 2034.5L663.9 2016.8L729.7 2016.8L739.2 2009.1L776.8 2009.1L786.2 2007.7L795.6 2005.9L805.0 2004.2L842.6 2004.2L852.0 1971.6L861.4 1915.3L870.8 1840.1L955.4 1840.1L964.8 1828.4L974.2 1822.9L983.6 1811.0L993.0 1798.4L1002.4 1789.6L1049.4 1789.6L1058.9 1767.9L1105.9 1767.9L1115.3 1763.8L1124.7 1759.4L1143.5 1759.4L1152.9 1739.7L1228.1 1739.7L1237.5 1730.6L1246.9 1730.6L1256.3 1720.6L1265.7 1707.8L1284.5 1707.8L1293.9 1696.8L1303.3 1689.0L1312.7 1680.4L1359.7 1680.4L1369.2 1674.0L1416.2 1674.0L1425.6 1641.9L1435.0 1633.1L1453.8 1633.1L1463.2 1631.0L1472.6 1629.7L1482.0 1628.4L1557.2 1628.4L1566.6 1614.4L1679.5 1614.4L1688.9 1585.4L1839.3 1585.4L1848.7 1583.5L1886.3 1583.5L1895.7 1572.3L1905.1 1560.1L1914.5 1560.1L1923.9 1509.5L1989.7 1509.5L1999.2 1479.8L2018.0 1479.8L2027.4 1479.6L2036.8 1479.4L2055.6 1479.4L2065.0 1474.2L2074.4 1463.4L2083.8 1454.4L2093.2 1420.8L2112.0 1420.8L2121.4 1381.4L2177.8 1381.4L2187.2 1367.4L2412.9 1367.4L2422.3 1362.3L3701.1 1362.3" stroke="#53b6d1"/>
<path d="M269.0 2118.5L287.8 2118.5L297.2 2113.9L325.4 2113.9L334.8 2110.6L344.2 2107.8L353.6 2104.1L372.4 2104.1L381.8 2094.9L391.2 2082.3L400.6 2055.0L494.7 2055.0L504.1 2042.5L513.5 2034.2L532.3 2034.2L541.7 2022.7L569.9 2022.7L579.3 2017.0L588.7 2017.0L598.1 2007.3L607.5 1998.5L673.3 1998.5L682.7 1997.4L692.1 1996.2L729.7 1996.2L739.2 1981.9L748.6 1975.8L899.0 1975.8L908.4 1950.4L955.4 1950.4L964.8 1940.0L974.2 1940.0L983.6 1905.5L993.0 1883.1L1021.2 1883.1L1030.6 1880.2L1040.0 1873.8L1068.3 1873.8L1077.7 1868.6L1087.1 1859.9L1096.5 1840.2L1105.9 1834.7L1134.1 1834.7L1143.5 1818.9L1199.9 1818.9L1209.3 1814.4L1218.7 1808.0L1256.3 1808.0L1265.7 1807.7L1275.1 1807.5L1284.5 1807.4L1397.4 1807.4L1406.8 1795.0L1425.6 1795.0L1435.0 1793.6L1444.4 1758.6L1453.8 1739.8L1463.2 1711.1L1566.6 1711.1L1576.0 1684.7L1585.4 1658.3L1698.3 1658.3L1707.7 1657.7L1717.1 1649.2L1726.5 1648.8L1773.5 1648.8L1782.9 1637.1L1792.3 1610.8L1839.3 1610.8L1848.7 1596.0L1961.5 1596.0L1970.9 1595.6L1980.3 1575.8L1989.7 1561.4L1999.2 1560.0L2008.6 1558.0L2018.0 1544.0L2027.4 1514.6L2046.2 1514.6L2055.6 1460.8L2065.0 1447.5L2074.4 1447.5L2083.8 1426.7L2093.2 1397.8L2102.6 1384.2L2112.0 1379.4L2149.6 1379.4L2159.0 1375.1L2168.4 1371.7L2177.8 1362.1L3701.1 1362.1" stroke="#51b5d2"/>
<path d="M269.0 2118.5L381.8 2118.5L391.2 2112.8L400.6 2101.9L447.7 2101.9L457.1 2073.0L466.5 2054.2L475.9 2052.5L485.3 2047.4L494.7 2042.0L504.1 2039.9L513.5 2038.3L541.7 2038.3L551.1 2035.0L635.7 2035.0L645.1 2024.6L654.5 2022.3L663.9 2017.5L682.7 2017.5L692.1 2014.5L729.7 2014.5L739.2 1984.6L748.6 1959.6L758.0 1899.8L805.0 1899.8L814.4 1884.6L927.2 1884.6L936.6 1852.6L946.0 1850.1L955.4 1848.1L964.8 1845.8L1011.8 1845.8L1021.2 1839.5L1030.6 1834.4L1068.3 1834.4L1077.7 1822.8L1087.1 1816.5L1162.3 1816.5L1171.7 1789.2L1181.1 1765.2L1228.1 1765.2L1237.5 1730.7L1322.1 1730.7L1331.5 1717.3L1340.9 1697.8L1350.3 1689.9L1359.7 1671.9L1369.2 1668.4L1491.4 1668.4L1500.8 1664.9L1510.2 1663.3L1519.6 1663.3L1529.0 1645.9L1613.6 1645.9L1623.0 1642.8L1773.5 1642.8L1782.9 1641.9L1792.3 1641.9L1801.7 1632.5L1811.1 1623.3L1839.3 1623.3L1848.7 1610.8L1858.1 1610.8L1867.5 1607.1L1905.1 1607.1L1914.5 1595.6L1923.9 1589.0L1933.3 1575.8L1970.9 1575.8L1980.3 1567.4L2130.8 1567.4L2140.2 1522.1L2149.6 1493.9L2159.0 1493.9L2168.4 1476.5L2177.8 1475.8L2187.2 1452.9L2196.6 1434.0L2356.5 1434.0L2365.9 1406.7L2375.3 1367.2L2478.7 1367.2L2488.1 1360.2L3701.1 1360.2" stroke="#50b4d2"/>
<path d="M269.0 2118.5L428.9 2118.5L438.3 2116.0L494.7 2116.0L504.1 2115.2L663.9 2115.2L673.3 2113.3L710.9 2113.3L720.3 2106.8L739.2 2106.8L748.6 2086.6L805.0 2086.6L814.4 2033.9L842.6 2033.9L852.0 2032.3L908.4 2032.3L917.8 2006.2L993.0 2006.2L1002.4 1977.5L1011.8 1964.9L1021.2 1948.4L1030.6 1931.9L1040.0 1931.9L1049.4 1928.8L1058.9 1918.4L1077.7 1918.4L1087.1 1885.1L1124.7 1885.1L1134.1 1874.8L1181.1 1874.8L1190.5 1859.5L1228.1 1859.5L1237.5 1827.3L1246.9 1814.8L1256.3 1797.0L1265.7 1797.0L1275.1 1770.8L1284.5 1761.1L1312.7 1761.1L1322.1 1760.1L1340.9 1760.1L1350.3 1759.0L1359.7 1758.4L1369.2 1758.4L1378.6 1754.3L1406.8 1754.3L1416.2 1744.1L1435.0 1744.1L1444.4 1740.8L1453.8 1738.1L1500.8 1738.1L1510.2 1737.7L1519.6 1736.8L1547.8 1736.8L1557.2 1733.8L1566.6 1727.2L1660.6 1727.2L1670.0 1698.5L1679.5 1688.2L1688.9 1675.4L1707.7 1675.4L1717.1 1657.6L1726.5 1657.6L1735.9 1650.2L1745.3 1641.4L1754.7 1640.1L1764.1 1637.4L1811.1 1637.4L1820.5 1623.9L1829.9 1619.6L1839.3 1565.9L1886.3 1565.9L1895.7 1561.9L1905.1 1559.0L1914.5 1559.0L1923.9 1554.7L1933.3 1551.1L1942.7 1547.5L1952.1 1537.3L1961.5 1537.3L1970.9 1518.8L1980.3 1518.8L1989.7 1516.6L1999.2 1516.6L2008.6 1483.2L2018.0 1463.7L2093.2 1463.7L2102.6 1448.4L2112.0 1429.2L2121.4 1415.6L2243.6 1415.6L2253.0 1391.1L2290.6 1391.1L2300.0 1387.9L2318.9 1387.9L2328.3 1363.8L2535.1 1363.8L2544.5 1356.3L3701.1 1356.3" stroke="#4eb3d3"/>
<path d="M269.0 2118.5L334.8 2118.5L344.2 2114.8L438.3 2114.8L447.7 2101.3L457.1 2094.3L466.5 2088.5L475.9 2078.6L541.7 2078.6L551.1 2065.8L560.5 2060.9L569.9 2058.8L579.3 2043.6L588.7 2039.0L607.5 2039.0L616.9 2019.4L626.3 1994.8L635.7 1950.4L645.1 1925.4L654.5 1908.1L663.9 1898.5L673.3 1892.3L682.7 1886.3L720.3 1886.3L729.7 1872.8L748.6 1872.8L758.0 1869.0L767.4 1866.8L776.8 1864.9L805.0 1864.9L814.4 1832.2L823.8 1813.3L852.0 1813.3L861.4 1810.2L870.8 1804.8L927.2 1804.8L936.6 1796.2L946.0 1775.2L955.4 1773.5L964.8 1771.1L1021.2 1771.1L1030.6 1747.6L1105.9 1747.6L1115.3 1694.8L1171.7 1694.8L1181.1 1689.3L1218.7 1689.3L1228.1 1687.3L1246.9 1687.3L1256.3 1666.0L1293.9 1666.0L1303.3 1662.8L1312.7 1659.6L1322.1 1654.4L1340.9 1654.4L1350.3 1648.6L1359.7 1648.6L1369.2 1644.0L1378.6 1641.6L1388.0 1636.5L1397.4 1636.5L1406.8 1633.4L1416.2 1633.4L1425.6 1618.1L1435.0 1615.2L1472.6 1615.2L1482.0 1591.3L1491.4 1571.5L1529.0 1571.5L1538.4 1565.5L1547.8 1557.8L1557.2 1551.2L1632.4 1551.2L1641.8 1546.4L1651.2 1536.4L1660.6 1526.6L1698.3 1526.6L1707.7 1506.3L1717.1 1506.3L1726.5 1504.3L1735.9 1504.3L1745.3 1469.3L1754.7 1469.3L1764.1 1432.6L1773.5 1432.6L1782.9 1409.0L1801.7 1409.0L1811.1 1400.4L1820.5 1385.1L1942.7 1385.1L1952.1 1383.0L2055.6 1383.0L2065.0 1346.7L3663.5 1346.7L3672.9 1344.7L3701.1 1344.7" stroke="#4db2d2"/>
<path d="M269.0 2118.5L316.0 2118.5L325.4 2099.7L334.8 2099.7L344.2 2086.0L353.6 2064.9L363.0 2039.5L372.4 2032.3L381.8 2027.6L391.2 2024.4L410.0 2024.4L419.4 1980.4L466.5 1980.4L475.9 1952.5L513.5 1952.5L522.9 1937.7L532.3 1918.9L541.7 1900.9L569.9 1900.9L579.3 1890.5L598.1 1890.5L607.5 1885.5L645.1 1885.5L654.5 1865.9L682.7 1865.9L692.1 1859.9L729.7 1859.9L739.2 1830.9L748.6 1803.0L758.0 1773.3L767.4 1768.1L776.8 1762.9L786.2 1755.4L842.6 1755.4L852.0 1744.5L861.4 1740.8L870.8 1738.1L880.2 1735.5L1021.2 1735.5L1030.6 1732.0L1040.0 1730.9L1049.4 1728.3L1058.9 1701.2L1068.3 1676.4L1087.1 1676.4L1096.5 1668.2L1105.9 1655.0L1115.3 1644.0L1124.7 1629.7L1134.1 1608.6L1143.5 1608.6L1152.9 1607.3L1162.3 1606.3L1237.5 1606.3L1246.9 1598.6L1256.3 1585.1L1265.7 1579.3L1322.1 1579.3L1331.5 1565.1L1340.9 1554.1L1369.2 1554.1L1378.6 1511.6L1388.0 1509.2L1482.0 1509.2L1491.4 1499.9L1500.8 1462.7L1510.2 1441.4L1519.6 1424.2L1566.6 1424.2L1576.0 1384.6L1698.3 1384.6L1707.7 1368.8L1933.3 1368.8L1942.7 1366.3L1952.1 1343.6L3701.1 1343.6" stroke="#4cb0d2"/>
<path d="M269.0 2118.5L278.4 2118.5L287.8 2045.7L297.2 2028.1L316.0 2028.1L325.4 2021.3L391.2 2021.3L400.6 2020.2L410.0 2018.9L419.4 2015.4L438.3 2015.4L447.7 2014.5L457.1 2013.6L475.9 2013.6L485.3 2008.4L494.7 2000.7L532.3 2000.7L541.7 1981.0L551.1 1981.0L560.5 1976.5L569.9 1973.0L588.7 1973.0L598.1 1947.9L701.5 1947.9L710.9 1944.7L720.3 1939.2L729.7 1935.0L739.2 1935.0L748.6 1924.0L758.0 1920.3L767.4 1920.3L776.8 1910.6L786.2 1900.7L795.6 1900.4L805.0 1900.2L814.4 1900.2L823.8 1891.6L833.2 1878.6L870.8 1878.6L880.2 1848.0L899.0 1848.0L908.4 1830.2L927.2 1830.2L936.6 1821.2L946.0 1807.7L955.4 1803.7L1077.7 1803.7L1087.1 1785.8L1096.5 1762.2L1105.9 1738.1L1115.3 1738.1L1124.7 1727.2L1134.1 1717.0L1162.3 1717.0L1171.7 1707.4L1181.1 1698.7L1190.5 1698.7L1199.9 1690.9L1256.3 1690.9L1265.7 1685.2L1275.1 1682.2L1284.5 1682.2L1293.9 1666.1L1303.3 1650.2L1340.9 1650.2L1350.3 1635.6L1519.6 1635.6L1529.0 1620.9L1557.2 1620.9L1566.6 1617.5L1576.0 1614.0L1585.4 1610.4L1641.8 1610.4L1651.2 1583.4L1660.6 1555.4L1726.5 1555.4L1735.9 1551.2L1745.3 1539.6L1754.7 1533.0L1792.3 1533.0L1801.7 1486.9L1876.9 1486.9L1886.3 1480.2L1895.7 1476.3L1905.1 1472.2L1914.5 1470.5L2121.4 1470.5L2130.8 1468.7L2140.2 1467.2L2149.6 1465.4L2168.4 1465.4L2177.8 1459.9L2187.2 1454.1L2196.6 1450.7L2206.0 1450.7L2215.4 1436.9L2224.8 1436.9L2234.2 1436.2L2243.6 1435.8L2253.0 1434.8L2497.5 1434.8L2506.9 1413.1L2666.8 1413.1L2676.2 1370.8L3531.8 1370.8L3541.2 1364.3L3550.6 1359.5L3560.1 1350.4L3607.1 1350.4L3616.5 1342.6L3701.1 1342.6" stroke="#4aafd1"/>
<path d="M269.0 2118.5L278.4 2118.5L287.8 2099.8L297.2 2088.5L513.5 2088.5L522.9 2067.2L532.3 2020.1L541.7 2005.4L645.1 2005.4L654.5 1988.5L663.9 1979.6L673.3 1961.8L739.2 1961.8L748.6 1961.6L786.2 1961.6L795.6 1956.0L805.0 1949.8L814.4 1934.6L833.2 1934.6L842.6 1918.6L852.0 1918.6L861.4 1914.5L983.6 1914.5L993.0 1902.7L1002.4 1895.0L1011.8 1883.8L1162.3 1883.8L1171.7 1880.6L1181.1 1872.2L1190.5 1846.2L1218.7 1846.2L1228.1 1824.6L1237.5 1801.1L1246.9 1785.4L1284.5 1785.4L1293.9 1769.5L1303.3 1757.6L1378.6 1757.6L1388.0 1750.7L1397.4 1741.8L1406.8 1741.8L1416.2 1735.4L1425.6 1725.9L1510.2 1725.9L1519.6 1704.7L1529.0 1683.1L1538.4 1650.2L1547.8 1650.2L1557.2 1650.1L1566.6 1650.1L1576.0 1650.1L1613.6 1650.1L1623.0 1646.3L1632.4 1641.5L1688.9 1641.5L1698.3 1629.3L1707.7 1610.1L1717.1 1592.0L1782.9 1592.0L1792.3 1584.9L1801.7 1571.9L1839.3 1571.9L1848.7 1566.3L1914.5 1566.3L1923.9 1481.3L1933.3 1409.5L1961.5 1409.5L1970.9 1400.4L2008.6 1400.4L2018.0 1393.7L2046.2 1393.7L2055.6 1383.2L2065.0 1360.1L2093.2 1360.1L2102.6 1341.5L3701.1 1341.5" stroke="#49aed0"/>
<path d="M269.0 2118.5L306.6 2118.5L316.0 2066.1L353.6 2066.1L363.0 2055.4L438.3 2055.4L447.7 2050.1L457.1 2037.3L494.7 2037.3L504.1 2033.9L579.3 2033.9L588.7 2024.3L616.9 2024.3L626.3 2015.0L645.1 2015.0L654.5 2003.7L663.9 1982.4L701.5 1982.4L710.9 1978.2L720.3 1973.6L748.6 1973.6L758.0 1935.2L870.8 1935.2L880.2 1921.3L889.6 1910.7L899.0 1903.1L908.4 1902.2L993.0 1902.2L1002.4 1898.6L1021.2 1898.6L1030.6 1894.1L1040.0 1888.1L1077.7 1888.1L1087.1 1885.0L1096.5 1877.7L1124.7 1877.7L1134.1 1874.0L1143.5 1870.2L1152.9 1868.6L1162.3 1868.6L1171.7 1837.9L1181.1 1834.9L1209.3 1834.9L1218.7 1815.0L1246.9 1815.0L1256.3 1786.8L1275.1 1786.8L1284.5 1784.7L1293.9 1781.8L1322.1 1781.8L1331.5 1769.8L1340.9 1758.1L1350.3 1745.3L1388.0 1745.3L1397.4 1715.8L1444.4 1715.8L1453.8 1704.0L1482.0 1704.0L1491.4 1690.7L1500.8 1664.0L1538.4 1664.0L1547.8 1661.3L1557.2 1659.4L1566.6 1656.5L1604.2 1656.5L1613.6 1654.1L1623.0 1650.4L1735.9 1650.4L1745.3 1622.0L1754.7 1588.2L1839.3 1588.2L1848.7 1566.1L1858.1 1553.8L1876.9 1553.8L1886.3 1553.1L1895.7 1548.6L1905.1 1543.9L1914.5 1541.6L1923.9 1541.6L1933.3 1529.4L1942.7 1521.6L2027.4 1521.6L2036.8 1502.1L2046.2 1486.7L2055.6 1486.7L2065.0 1478.0L2074.4 1475.6L2083.8 1475.6L2093.2 1462.8L2102.6 1446.8L2215.4 1446.8L2224.8 1415.8L2234.2 1401.5L2271.8 1401.5L2281.2 1400.8L2290.6 1400.0L2347.1 1400.0L2356.5 1397.8L2488.1 1397.8L2497.5 1366.4L3588.3 1366.4L3597.7 1365.2L3607.1 1348.3L3616.5 1341.2L3625.9 1336.2L3701.1 1336.2" stroke="#48accf"/>
<path d="M269.0 2118.5L278.4 2118.5L287.8 2117.7L297.2 2117.0L306.6 2115.7L334.8 2115.7L344.2 2090.1L419.4 2090.1L428.9 2087.5L438.3 2065.4L466.5 2065.4L475.9 2025.4L541.7 2025.4L551.1 2018.2L560.5 1937.8L569.9 1874.8L616.9 1874.8L626.3 1866.2L635.7 1854.7L645.1 1844.7L673.3 1844.7L682.7 1843.5L701.5 1843.5L710.9 1835.5L767.4 1835.5L776.8 1800.5L842.6 1800.5L852.0 1775.0L861.4 1725.3L880.2 1725.3L889.6 1721.4L899.0 1700.7L917.8 1700.7L927.2 1685.5L964.8 1685.5L974.2 1670.8L983.6 1657.0L1002.4 1657.0L1011.8 1635.5L1021.2 1623.6L1030.6 1623.6L1040.0 1622.6L1068.3 1622.6L1077.7 1604.7L1199.9 1604.7L1209.3 1584.7L1237.5 1584.7L1246.9 1577.0L1256.3 1577.0L1265.7 1568.7L1350.3 1568.7L1359.7 1548.1L1388.0 1548.1L1397.4 1544.6L1406.8 1544.1L1435.0 1544.1L1444.4 1534.8L1453.8 1534.7L1463.2 1520.4L1472.6 1507.4L1510.2 1507.4L1519.6 1497.2L1538.4 1497.2L1547.8 1470.0L1688.9 1470.0L1698.3 1455.5L1707.7 1453.8L1717.1 1453.1L1811.1 1453.1L1820.5 1447.8L1829.9 1440.4L1839.3 1435.3L1848.7 1430.9L1933.3 1430.9L1942.7 1423.3L2046.2 1423.3L2055.6 1404.5L2065.0 1384.4L2121.4 1384.4L2130.8 1381.3L2149.6 1381.3L2159.0 1360.9L2168.4 1324.1L3701.1 1324.1" stroke="#47abcf"/>
<path d="M269.0 2118.5L353.6 2118.5L363.0 2109.8L372.4 2103.5L541.7 2103.5L551.1 2100.6L607.5 2100.6L616.9 2098.4L626.3 2095.5L635.7 2095.5L645.1 2083.0L654.5 2071.4L663.9 2065.6L673.3 2065.6L682.7 2062.5L692.1 2062.5L701.5 2061.6L710.9 2061.6L720.3 2055.7L729.7 2045.4L739.2 2038.3L758.0 2038.3L767.4 2036.8L776.8 2035.7L786.2 2034.8L974.2 2034.8L983.6 2020.9L1002.4 2020.9L1011.8 2002.4L1021.2 1979.0L1030.6 1966.7L1040.0 1966.7L1049.4 1966.1L1087.1 1966.1L1096.5 1939.9L1105.9 1921.4L1115.3 1920.3L1171.7 1920.3L1181.1 1901.4L1190.5 1877.2L1209.3 1877.2L1218.7 1866.9L1228.1 1866.9L1237.5 1855.0L1312.7 1855.0L1322.1 1845.5L1331.5 1831.7L1340.9 1819.5L1350.3 1805.7L1359.7 1805.7L1369.2 1794.5L1378.6 1784.5L1397.4 1784.5L1406.8 1774.3L1416.2 1758.5L1425.6 1746.8L1435.0 1746.8L1444.4 1707.3L1453.8 1677.3L1463.2 1663.5L1519.6 1663.5L1529.0 1628.9L1538.4 1570.6L1547.8 1519.9L1613.6 1519.9L1623.0 1505.3L1651.2 1505.3L1660.6 1495.6L1670.0 1486.3L1679.5 1484.1L1688.9 1480.9L1698.3 1479.0L1754.7 1479.0L1764.1 1462.3L1773.5 1461.9L1782.9 1461.4L1792.3 1459.7L1801.7 1457.2L1811.1 1451.4L1820.5 1447.0L1886.3 1447.0L1895.7 1434.2L1905.1 1416.1L1942.7 1416.1L1952.1 1412.7L1961.5 1408.8L2036.8 1408.8L2046.2 1396.4L2055.6 1382.0L2065.0 1379.4L2074.4 1366.9L2083.8 1366.6L2121.4 1366.6L2130.8 1365.7L2140.2 1364.2L2149.6 1359.3L2159.0 1352.3L2168.4 1347.4L2177.8 1347.1L2187.2 1346.4L2262.4 1346.4L2271.8 1314.5L2281.2 1313.5L3701.1 1313.5" stroke="#46aace"/>
<path d="M269.0 2118.5L278.4 2118.5L287.8 2052.7L297.2 2048.3L306.6 2048.3L316.0 2041.6L325.4 2027.1L334.8 2016.0L353.6 2016.0L363.0 2008.5L372.4 2004.3L381.8 1996.5L466.5 1996.5L475.9 1963.7L485.3 1933.5L494.7 1902.7L504.1 1901.5L513.5 1900.1L541.7 1900.1L551.1 1892.8L560.5 1882.0L569.9 1869.0L579.3 1869.0L588.7 1854.2L598.1 1845.4L607.5 1843.4L616.9 1841.2L645.1 1841.2L654.5 1841.1L663.9 1836.1L673.3 1836.0L692.1 1836.0L701.5 1820.4L729.7 1820.4L739.2 1817.9L758.0 1817.9L767.4 1816.0L776.8 1816.0L786.2 1809.0L795.6 1798.0L805.0 1798.0L814.4 1780.3L823.8 1773.6L833.2 1763.3L842.6 1721.5L852.0 1660.6L861.4 1659.0L870.8 1657.2L880.2 1657.2L889.6 1637.1L899.0 1616.9L1030.6 1616.9L1040.0 1610.0L1049.4 1600.6L1068.3 1600.6L1077.7 1596.3L1087.1 1591.0L1096.5 1591.0L1105.9 1582.3L1124.7 1582.3L1134.1 1579.6L1143.5 1579.6L1152.9 1579.0L1162.3 1578.5L1190.5 1578.5L1199.9 1577.2L1209.3 1574.9L1228.1 1574.9L1237.5 1564.5L1246.9 1540.5L1256.3 1537.4L1265.7 1530.7L1275.1 1526.7L1463.2 1526.7L1472.6 1501.7L1482.0 1464.2L1491.4 1426.8L1500.8 1425.3L1585.4 1425.3L1594.8 1413.8L1604.2 1403.1L1613.6 1393.1L1773.5 1393.1L1782.9 1352.4L1811.1 1352.4L1820.5 1340.1L1848.7 1340.1L1858.1 1337.8L1886.3 1337.8L1895.7 1337.2L1905.1 1336.6L1914.5 1329.1L2018.0 1329.1L2027.4 1300.0L3701.1 1300.0" stroke="#44a8cd"/>
<path d="M269.0 2118.5L532.3 2118.5L541.7 2114.1L551.1 2114.1L560.5 2105.6L569.9 2096.1L579.3 2096.1L588.7 2091.0L598.1 2081.4L776.8 2081.4L786.2 2080.1L833.2 2080.1L842.6 2061.8L852.0 2048.8L861.4 2038.5L870.8 2034.7L964.8 2034.7L974.2 1997.3L983.6 1963.6L993.0 1936.7L1002.4 1897.7L1011.8 1856.6L1096.5 1856.6L1105.9 1835.1L1115.3 1812.3L1124.7 1812.3L1134.1 1799.5L1143.5 1792.5L1181.1 1792.5L1190.5 1768.4L1199.9 1768.4L1209.3 1766.5L1218.7 1744.3L1265.7 1744.3L1275.1 1729.4L1284.5 1715.8L1293.9 1705.7L1388.0 1705.7L1397.4 1671.3L1406.8 1671.3L1416.2 1665.1L1425.6 1657.4L1435.0 1657.2L1444.4 1656.9L1453.8 1656.9L1463.2 1646.7L1472.6 1646.7L1482.0 1638.5L1491.4 1627.2L1500.8 1627.2L1510.2 1622.5L1519.6 1615.4L1566.6 1615.4L1576.0 1614.4L1632.4 1614.4L1641.8 1604.6L1688.9 1604.6L1698.3 1603.3L1707.7 1596.1L1717.1 1593.6L1726.5 1593.6L1735.9 1592.6L1820.5 1592.6L1829.9 1586.4L1848.7 1586.4L1858.1 1577.3L1914.5 1577.3L1923.9 1576.8L2008.6 1576.8L2018.0 1566.3L2055.6 1566.3L2065.0 1558.4L2074.4 1549.5L2083.8 1532.4L2093.2 1507.2L2102.6 1498.2L2112.0 1498.2L2121.4 1475.9L2130.8 1450.5L2140.2 1450.5L2149.6 1443.1L2159.0 1424.5L2168.4 1411.8L2177.8 1370.7L2187.2 1369.7L2196.6 1369.0L2206.0 1369.0L2215.4 1358.9L2224.8 1314.4L2234.2 1309.5L2243.6 1307.0L2318.9 1307.0L2328.3 1302.6L2412.9 1302.6L2422.3 1293.8L3701.1 1293.8" stroke="#43a7cd"/>
<path d="M269.0 2118.5L306.6 2118.5L316.0 2112.2L325.4 2112.2L334.8 2104.3L344.2 2104.3L353.6 2084.0L363.0 2064.3L372.4 2041.3L381.8 2020.0L410.0 2020.0L419.4 2013.1L457.1 2013.1L466.5 2004.6L475.9 1992.3L485.3 1980.4L494.7 1980.4L504.1 1958.2L513.5 1907.3L522.9 1891.9L532.3 1880.6L541.7 1853.4L551.1 1823.8L560.5 1822.2L569.9 1822.2L579.3 1812.3L701.5 1812.3L710.9 1808.1L720.3 1801.0L729.7 1795.9L758.0 1795.9L767.4 1785.9L795.6 1785.9L805.0 1783.7L814.4 1782.2L861.4 1782.2L870.8 1769.5L880.2 1759.3L889.6 1749.3L899.0 1749.0L908.4 1738.5L917.8 1679.1L927.2 1630.3L936.6 1557.4L946.0 1549.8L955.4 1535.8L974.2 1535.8L983.6 1530.2L993.0 1525.4L1002.4 1520.1L1011.8 1515.4L1021.2 1510.4L1030.6 1489.6L1040.0 1475.1L1049.4 1469.3L1058.9 1443.0L1077.7 1443.0L1087.1 1415.8L1096.5 1391.7L1105.9 1356.5L1115.3 1356.0L1181.1 1356.0L1190.5 1350.8L1199.9 1345.9L1209.3 1339.5L1246.9 1339.5L1256.3 1337.5L1425.6 1337.5L1435.0 1327.0L1491.4 1327.0L1500.8 1318.0L1510.2 1317.8L1519.6 1317.5L1566.6 1317.5L1576.0 1316.7L1585.4 1316.1L1613.6 1316.1L1623.0 1296.0L1914.5 1296.0L1923.9 1287.3L3701.1 1287.3" stroke="#42a6cc"/>
<path d="M269.0 2118.5L278.4 2118.5L287.8 2109.6L541.7 2109.6L551.1 2096.5L579.3 2096.5L588.7 2094.7L598.1 2093.8L607.5 2093.8L616.9 2090.3L626.3 2090.3L635.7 2077.1L654.5 2077.1L663.9 2077.0L682.7 2077.0L692.1 2059.1L701.5 2053.0L710.9 2048.5L739.2 2048.5L748.6 2046.7L805.0 2046.7L814.4 2028.8L823.8 2011.0L833.2 1921.4L842.6 1862.2L852.0 1774.5L861.4 1773.7L870.8 1769.3L880.2 1743.6L889.6 1735.9L899.0 1721.1L908.4 1709.4L917.8 1700.3L955.4 1700.3L964.8 1699.2L1002.4 1699.2L1011.8 1693.9L1021.2 1685.9L1030.6 1673.9L1040.0 1668.8L1049.4 1660.4L1058.9 1653.8L1068.3 1647.1L1087.1 1647.1L1096.5 1645.5L1105.9 1643.1L1115.3 1631.7L1124.7 1617.8L1134.1 1611.3L1143.5 1604.4L1152.9 1600.6L1171.7 1600.6L1181.1 1591.5L1209.3 1591.5L1218.7 1590.9L1228.1 1590.0L1265.7 1590.0L1275.1 1584.3L1322.1 1584.3L1331.5 1539.5L1340.9 1523.1L1350.3 1522.8L1359.7 1522.2L1369.2 1521.8L1378.6 1494.5L1388.0 1463.2L1585.4 1463.2L1594.8 1456.6L1604.2 1447.2L1735.9 1447.2L1745.3 1446.1L1764.1 1446.1L1773.5 1430.5L1792.3 1430.5L1801.7 1414.6L1811.1 1400.1L1820.5 1400.1L1829.9 1397.8L1839.3 1395.6L1942.7 1395.6L1952.1 1384.4L1999.2 1384.4L2008.6 1384.2L2018.0 1383.8L2027.4 1383.3L2055.6 1383.3L2065.0 1368.2L2074.4 1363.8L2083.8 1358.3L2093.2 1353.7L2102.6 1353.4L2206.0 1353.4L2215.4 1329.1L3475.4 1329.1L3484.8 1300.0L3569.5 1300.0L3578.9 1269.6L3701.1 1269.6" stroke="#41a4cb"/>
<path d="M269.0 2118.5L353.6 2118.5L363.0 2102.3L372.4 2094.1L381.8 2092.6L391.2 2091.1L504.1 2091.1L513.5 2083.4L522.9 2054.8L532.3 2028.1L541.7 1974.0L551.1 1972.4L560.5 1972.4L569.9 1972.0L579.3 1969.5L588.7 1966.3L616.9 1966.3L626.3 1946.7L645.1 1946.7L654.5 1912.5L663.9 1887.1L729.7 1887.1L739.2 1881.1L748.6 1869.2L833.2 1869.2L842.6 1868.7L908.4 1868.7L917.8 1838.2L927.2 1790.2L936.6 1762.2L1058.9 1762.2L1068.3 1758.8L1077.7 1753.2L1087.1 1745.3L1096.5 1739.2L1105.9 1739.2L1115.3 1734.3L1143.5 1734.3L1152.9 1730.5L1162.3 1728.1L1190.5 1728.1L1199.9 1697.8L1209.3 1668.5L1246.9 1668.5L1256.3 1661.2L1265.7 1661.2L1275.1 1657.9L1284.5 1657.9L1293.9 1654.1L1388.0 1654.1L1397.4 1642.0L1406.8 1627.5L1416.2 1624.4L1425.6 1622.6L1435.0 1603.0L1444.4 1590.9L1472.6 1590.9L1482.0 1577.4L1491.4 1577.4L1500.8 1564.7L1641.8 1564.7L1651.2 1562.8L1660.6 1559.9L1670.0 1559.9L1679.5 1558.3L1782.9 1558.3L1792.3 1551.3L1848.7 1551.3L1858.1 1546.5L1895.7 1546.5L1905.1 1516.7L1914.5 1489.9L1923.9 1464.1L2008.6 1464.1L2018.0 1434.0L2027.4 1434.0L2036.8 1408.4L2046.2 1396.8L2234.2 1396.8L2243.6 1395.5L2253.0 1394.6L2309.5 1394.6L2318.9 1374.2L3560.1 1374.2L3569.5 1329.8L3578.9 1309.7L3588.3 1309.7L3597.7 1269.6L3616.5 1269.6L3625.9 1253.4L3701.1 1253.4" stroke="#40a3ca"/>
<path d="M269.0 2118.5L287.8 2118.5L297.2 2097.0L306.6 2083.3L316.0 1977.0L325.4 1967.7L334.8 1967.7L344.2 1960.8L353.6 1956.6L447.7 1956.6L457.1 1956.2L466.5 1947.0L475.9 1946.8L569.9 1946.8L579.3 1941.2L588.7 1940.7L598.1 1940.1L607.5 1926.0L616.9 1911.5L654.5 1911.5L663.9 1906.4L682.7 1906.4L692.1 1897.7L710.9 1897.7L720.3 1893.8L748.6 1893.8L758.0 1889.5L776.8 1889.5L786.2 1880.3L795.6 1880.3L805.0 1876.3L814.4 1869.3L917.8 1869.3L927.2 1852.2L936.6 1852.2L946.0 1846.0L955.4 1842.5L964.8 1835.6L974.2 1835.6L983.6 1828.0L1011.8 1828.0L1021.2 1821.0L1096.5 1821.0L1105.9 1820.4L1115.3 1818.8L1134.1 1818.8L1143.5 1816.8L1152.9 1816.8L1162.3 1809.8L1303.3 1809.8L1312.7 1789.9L1350.3 1789.9L1359.7 1770.3L1369.2 1747.5L1397.4 1747.5L1406.8 1746.5L1416.2 1744.4L1425.6 1734.5L1444.4 1734.5L1453.8 1714.6L1463.2 1700.9L1472.6 1689.9L1491.4 1689.9L1500.8 1681.2L1547.8 1681.2L1557.2 1666.3L1566.6 1653.4L1576.0 1621.1L1585.4 1586.5L1594.8 1535.9L1688.9 1535.9L1698.3 1526.7L1717.1 1526.7L1726.5 1520.9L1735.9 1515.5L1745.3 1512.6L1811.1 1512.6L1820.5 1463.2L1867.5 1463.2L1876.9 1457.5L1886.3 1455.1L1895.7 1455.1L1905.1 1448.9L1961.5 1448.9L1970.9 1412.0L1980.3 1404.0L1989.7 1402.6L1999.2 1387.9L2046.2 1387.9L2055.6 1382.6L2065.0 1372.0L2083.8 1372.0L2093.2 1358.2L2102.6 1338.5L2112.0 1326.1L2121.4 1322.0L2130.8 1316.0L2140.2 1313.5L2196.6 1313.5L2206.0 1308.9L2243.6 1308.9L2253.0 1300.7L2290.6 1300.7L2300.0 1280.7L2309.5 1257.1L2403.5 1257.1L2412.9 1244.6L3701.1 1244.6" stroke="#3ea2ca"/>
<path d="M269.0 2118.5L278.4 2118.5L287.8 2047.1L372.4 2047.1L381.8 2043.2L410.0 2043.2L419.4 2038.5L428.9 2007.2L438.3 1992.1L466.5 1992.1L475.9 1960.2L485.3 1948.1L494.7 1932.8L532.3 1932.8L541.7 1931.0L551.1 1929.6L616.9 1929.6L626.3 1928.6L635.7 1922.4L645.1 1921.1L870.8 1921.1L880.2 1860.4L889.6 1797.6L899.0 1744.1L908.4 1732.2L917.8 1723.1L1002.4 1723.1L1011.8 1718.1L1021.2 1694.3L1030.6 1673.1L1058.9 1673.1L1068.3 1669.5L1077.7 1663.6L1115.3 1663.6L1124.7 1659.9L1134.1 1652.9L1152.9 1652.9L1162.3 1581.9L1171.7 1547.4L1181.1 1498.5L1303.3 1498.5L1312.7 1493.6L1322.1 1485.6L1340.9 1485.6L1350.3 1475.1L1359.7 1475.1L1369.2 1474.0L1388.0 1474.0L1397.4 1472.7L1453.8 1472.7L1463.2 1467.1L1519.6 1467.1L1529.0 1421.1L1613.6 1421.1L1623.0 1405.2L1632.4 1398.6L1641.8 1392.2L1651.2 1386.8L1660.6 1385.0L1679.5 1385.0L1688.9 1383.7L1698.3 1383.7L1707.7 1380.1L1717.1 1372.2L1745.3 1372.2L1754.7 1359.1L1764.1 1331.2L1829.9 1331.2L1839.3 1329.0L1886.3 1329.0L1895.7 1321.7L1905.1 1319.5L1914.5 1319.5L1923.9 1315.4L1933.3 1294.0L1942.7 1281.1L2008.6 1281.1L2018.0 1269.0L2027.4 1259.5L2036.8 1259.5L2046.2 1258.9L2074.4 1258.9L2083.8 1255.5L2093.2 1250.9L2102.6 1246.0L2206.0 1246.0L2215.4 1242.8L2356.5 1242.8L2365.9 1241.4L2375.3 1240.3L2713.8 1240.3L2723.2 1231.2L3701.1 1231.2" stroke="#3da0c9"/>
<path d="M269.0 2118.5L325.4 2118.5L334.8 2080.9L344.2 2057.9L673.3 2057.9L682.7 2039.2L814.4 2039.2L823.8 2036.5L833.2 2034.3L870.8 2034.3L880.2 2017.7L889.6 2017.7L899.0 2016.3L908.4 2012.2L917.8 2008.2L927.2 2005.8L936.6 1988.4L946.0 1956.6L955.4 1956.6L964.8 1949.7L974.2 1938.1L983.6 1928.7L993.0 1928.7L1002.4 1900.1L1021.2 1900.1L1030.6 1876.6L1087.1 1876.6L1096.5 1869.8L1124.7 1869.8L1134.1 1858.5L1143.5 1845.1L1152.9 1824.1L1181.1 1824.1L1190.5 1822.1L1199.9 1820.7L1237.5 1820.7L1246.9 1820.7L1275.1 1820.7L1284.5 1813.9L1293.9 1806.8L1312.7 1806.8L1322.1 1791.3L1331.5 1775.4L1369.2 1775.4L1378.6 1772.8L1435.0 1772.8L1444.4 1760.9L1453.8 1740.6L1463.2 1740.6L1472.6 1732.9L1482.0 1717.1L1491.4 1706.3L1538.4 1706.3L1547.8 1704.0L1557.2 1701.6L1566.6 1693.6L1576.0 1688.1L1594.8 1688.1L1604.2 1687.6L1613.6 1687.1L1651.2 1687.1L1660.6 1686.0L1670.0 1685.4L1679.5 1661.9L1688.9 1657.6L1698.3 1652.3L1876.9 1652.3L1886.3 1633.2L1895.7 1609.1L1905.1 1577.7L1914.5 1577.7L1923.9 1556.4L1933.3 1556.4L1942.7 1556.1L1970.9 1556.1L1980.3 1555.8L1999.2 1555.8L2008.6 1549.3L2018.0 1542.2L2065.0 1542.2L2074.4 1518.6L2083.8 1463.6L2093.2 1432.3L2102.6 1432.3L2112.0 1427.9L2121.4 1420.2L2130.8 1410.3L2140.2 1406.3L2159.0 1406.3L2168.4 1403.6L2177.8 1393.9L2187.2 1389.8L2215.4 1389.8L2224.8 1386.2L3607.1 1386.2L3616.5 1249.2L3625.9 1223.6L3701.1 1223.6" stroke="#3c9fc8"/>
<path d="M269.0 2118.5L287.8 2118.5L297.2 2035.9L306.6 2009.7L466.5 2009.7L475.9 2003.9L485.3 1997.1L494.7 1988.0L598.1 1988.0L607.5 1985.5L616.9 1985.5L626.3 1985.0L635.7 1984.4L663.9 1984.4L673.3 1979.9L682.7 1974.2L805.0 1974.2L814.4 1963.6L823.8 1948.6L899.0 1948.6L908.4 1947.1L1068.3 1947.1L1077.7 1922.5L1087.1 1922.5L1096.5 1918.9L1105.9 1906.9L1115.3 1892.4L1124.7 1884.6L1181.1 1884.6L1190.5 1872.8L1256.3 1872.8L1265.7 1864.5L1275.1 1831.8L1284.5 1815.7L1331.5 1815.7L1340.9 1814.5L1378.6 1814.5L1388.0 1813.0L1416.2 1813.0L1425.6 1812.7L1453.8 1812.7L1463.2 1803.3L1472.6 1794.0L1482.0 1791.2L1491.4 1791.2L1500.8 1787.7L1510.2 1782.0L1519.6 1772.7L1538.4 1772.7L1547.8 1758.6L1557.2 1758.6L1566.6 1755.5L1576.0 1751.7L1585.4 1748.3L1698.3 1748.3L1707.7 1744.9L1754.7 1744.9L1764.1 1711.9L1773.5 1705.4L1858.1 1705.4L1867.5 1693.7L1876.9 1642.2L1923.9 1642.2L1933.3 1544.0L1942.7 1544.0L1952.1 1492.4L1970.9 1492.4L1980.3 1477.2L1989.7 1463.6L1999.2 1427.9L2027.4 1427.9L2036.8 1420.7L2046.2 1412.9L2055.6 1412.9L2065.0 1397.9L2074.4 1397.9L2083.8 1397.4L2093.2 1397.4L2102.6 1397.0L2112.0 1365.3L2130.8 1365.3L2140.2 1346.5L2149.6 1304.2L2159.0 1244.8L2215.4 1244.8L2224.8 1231.6L2253.0 1231.6L2262.4 1231.5L2271.8 1230.9L2281.2 1215.1L3663.5 1215.1L3672.9 1206.9L3701.1 1206.9" stroke="#3b9ec7"/>
<path d="M269.0 2118.5L344.2 2118.5L353.6 2081.7L363.0 2059.9L372.4 2047.5L391.2 2047.5L400.6 2004.9L457.1 2004.9L466.5 1988.7L494.7 1988.7L504.1 1981.7L551.1 1981.7L560.5 1979.8L569.9 1978.2L588.7 1978.2L598.1 1972.9L645.1 1972.9L654.5 1972.4L663.9 1972.4L673.3 1969.6L701.5 1969.6L710.9 1969.6L814.4 1969.6L823.8 1965.0L833.2 1960.3L842.6 1952.9L852.0 1952.9L861.4 1939.0L870.8 1938.2L899.0 1938.2L908.4 1925.2L917.8 1923.0L936.6 1923.0L946.0 1921.3L955.4 1918.5L964.8 1909.2L1002.4 1909.2L1011.8 1885.7L1021.2 1867.5L1030.6 1859.5L1040.0 1858.8L1077.7 1858.8L1087.1 1836.7L1096.5 1814.3L1105.9 1792.6L1181.1 1792.6L1190.5 1780.9L1199.9 1769.6L1340.9 1769.6L1350.3 1760.0L1406.8 1760.0L1416.2 1741.1L1425.6 1732.2L1482.0 1732.2L1491.4 1715.9L1500.8 1697.0L1510.2 1697.0L1519.6 1696.6L1529.0 1696.1L1538.4 1695.6L1547.8 1689.0L1557.2 1686.8L1566.6 1675.5L1576.0 1652.3L1585.4 1624.3L1594.8 1614.7L1604.2 1595.3L1613.6 1573.9L1623.0 1549.1L1632.4 1545.3L1641.8 1532.8L1651.2 1519.7L1660.6 1511.6L1670.0 1502.5L1811.1 1502.5L1820.5 1501.4L1829.9 1500.4L2008.6 1500.4L2018.0 1482.6L2027.4 1482.6L2036.8 1468.5L2046.2 1449.1L2055.6 1449.1L2065.0 1446.5L2074.4 1434.6L2149.6 1434.6L2159.0 1425.9L2168.4 1418.0L2187.2 1418.0L2196.6 1399.9L2206.0 1386.6L2215.4 1356.3L2243.6 1356.3L2253.0 1355.9L2262.4 1349.8L2271.8 1335.1L2281.2 1298.3L2290.6 1266.7L2300.0 1227.9L2384.7 1227.9L2394.1 1215.1L3569.5 1215.1L3578.9 1191.2L3701.1 1191.2" stroke="#3a9cc7"/>
<path d="M269.0 2118.5L579.3 2118.5L588.7 2115.6L616.9 2115.6L626.3 2109.9L692.1 2109.9L701.5 2083.0L710.9 2051.8L805.0 2051.8L814.4 2027.6L823.8 2024.8L833.2 2022.7L842.6 2012.2L852.0 2003.0L880.2 2003.0L889.6 1998.3L899.0 1996.6L946.0 1996.6L955.4 1985.6L964.8 1978.9L974.2 1975.6L1011.8 1975.6L1021.2 1970.9L1030.6 1966.1L1040.0 1953.1L1049.4 1942.9L1058.9 1942.9L1068.3 1913.7L1077.7 1910.7L1087.1 1903.7L1105.9 1903.7L1115.3 1903.5L1124.7 1903.5L1134.1 1900.9L1143.5 1898.1L1152.9 1894.1L1199.9 1894.1L1209.3 1871.9L1228.1 1871.9L1237.5 1871.2L1246.9 1870.6L1275.1 1870.6L1284.5 1859.3L1293.9 1839.4L1340.9 1839.4L1350.3 1821.1L1359.7 1797.7L1369.2 1797.7L1378.6 1793.9L1416.2 1793.9L1425.6 1785.0L1435.0 1779.7L1519.6 1779.7L1529.0 1760.0L1538.4 1760.0L1547.8 1753.9L1557.2 1727.3L1566.6 1718.6L1576.0 1706.6L1604.2 1706.6L1613.6 1698.9L1623.0 1690.1L1641.8 1690.1L1651.2 1645.6L1660.6 1621.7L1688.9 1621.7L1698.3 1579.4L1707.7 1552.5L1717.1 1549.7L1782.9 1549.7L1792.3 1548.6L1801.7 1546.3L1811.1 1544.0L1820.5 1544.0L1829.9 1541.9L1839.3 1538.9L1848.7 1537.8L1858.1 1523.1L1952.1 1523.1L1961.5 1519.7L1970.9 1519.7L1980.3 1515.6L1989.7 1511.0L2008.6 1511.0L2018.0 1507.9L2046.2 1507.9L2055.6 1488.5L2065.0 1458.3L2074.4 1429.1L2083.8 1413.4L2093.2 1389.7L2102.6 1371.8L2121.4 1371.8L2130.8 1345.4L2140.2 1297.2L2149.6 1288.0L2159.0 1275.4L2168.4 1265.4L2196.6 1265.4L2206.0 1260.6L2215.4 1258.1L2224.8 1253.1L2234.2 1237.8L2243.6 1212.7L2281.2 1212.7L2290.6 1205.0L2300.0 1181.0L3701.1 1181.0" stroke="#389bc6"/>
<path d="M269.0 2118.5L325.4 2118.5L334.8 2113.9L344.2 2109.2L353.6 2027.5L363.0 2014.1L381.8 2014.1L391.2 2011.3L400.6 2007.9L410.0 2005.0L419.4 2005.0L428.9 1987.5L438.3 1982.1L447.7 1970.4L457.1 1960.1L466.5 1960.1L475.9 1935.2L485.3 1912.7L494.7 1911.8L513.5 1911.8L522.9 1907.3L532.3 1900.8L541.7 1892.7L551.1 1883.4L560.5 1876.1L569.9 1867.1L579.3 1847.8L598.1 1847.8L607.5 1842.4L673.3 1842.4L682.7 1833.7L692.1 1826.8L701.5 1826.8L710.9 1820.8L720.3 1814.6L767.4 1814.6L776.8 1806.8L805.0 1806.8L814.4 1804.1L823.8 1804.1L833.2 1792.1L842.6 1778.7L870.8 1778.7L880.2 1766.5L889.6 1764.1L899.0 1764.1L908.4 1697.3L917.8 1629.6L927.2 1590.4L936.6 1551.1L974.2 1551.1L983.6 1546.8L993.0 1536.4L1002.4 1524.1L1011.8 1524.1L1021.2 1511.8L1030.6 1502.9L1040.0 1497.8L1209.3 1497.8L1218.7 1493.5L1256.3 1493.5L1265.7 1479.4L1275.1 1453.4L1303.3 1453.4L1312.7 1450.9L1350.3 1450.9L1359.7 1447.6L1369.2 1444.8L1378.6 1441.8L1435.0 1441.8L1444.4 1423.4L1453.8 1395.1L1463.2 1394.3L1472.6 1393.8L1482.0 1393.8L1491.4 1385.1L1500.8 1385.1L1510.2 1377.4L1519.6 1371.3L1529.0 1362.2L1538.4 1354.6L1547.8 1353.4L1576.0 1353.4L1585.4 1348.9L1641.8 1348.9L1651.2 1345.5L1660.6 1343.8L1670.0 1341.5L1801.7 1341.5L1811.1 1340.7L1820.5 1339.2L1876.9 1339.2L1886.3 1333.2L1905.1 1333.2L1914.5 1328.0L1923.9 1323.1L1970.9 1323.1L1980.3 1317.9L1989.7 1312.7L2055.6 1312.7L2065.0 1305.6L2121.4 1305.6L2130.8 1285.3L2140.2 1268.9L2149.6 1242.1L3597.7 1242.1L3607.1 1178.6L3701.1 1178.6" stroke="#379ac5"/>
<path d="M269.0 2118.5L278.4 2031.3L287.8 2009.0L334.8 2009.0L344.2 1988.6L353.6 1974.6L381.8 1974.6L391.2 1968.1L400.6 1965.7L428.9 1965.7L438.3 1956.0L447.7 1950.2L457.1 1944.7L522.9 1944.7L532.3 1934.5L560.5 1934.5L569.9 1921.1L579.3 1895.9L588.7 1889.8L616.9 1889.8L626.3 1870.9L654.5 1870.9L663.9 1869.9L748.6 1869.9L758.0 1856.8L767.4 1828.0L776.8 1824.4L786.2 1818.4L833.2 1818.4L842.6 1813.3L852.0 1811.5L946.0 1811.5L955.4 1805.7L964.8 1805.7L974.2 1805.1L983.6 1805.1L993.0 1803.9L1077.7 1803.9L1087.1 1800.1L1096.5 1797.2L1105.9 1780.8L1115.3 1780.8L1124.7 1758.6L1134.1 1732.2L1246.9 1732.2L1256.3 1722.9L1265.7 1717.9L1284.5 1717.9L1293.9 1684.7L1303.3 1652.5L1312.7 1633.2L1350.3 1633.2L1359.7 1608.0L1369.2 1593.8L1378.6 1589.9L1388.0 1582.4L1472.6 1582.4L1482.0 1542.2L1491.4 1519.6L1500.8 1512.1L1529.0 1512.1L1538.4 1505.8L1547.8 1501.5L1557.2 1501.5L1566.6 1490.4L1585.4 1490.4L1594.8 1465.6L1604.2 1440.6L1613.6 1383.8L1641.8 1383.8L1651.2 1379.1L1660.6 1375.5L1670.0 1375.5L1679.5 1372.8L1707.7 1372.8L1717.1 1372.0L1726.5 1371.5L1773.5 1371.5L1782.9 1327.2L1820.5 1327.2L1829.9 1326.6L1839.3 1325.9L1848.7 1314.1L1867.5 1314.1L1876.9 1300.2L1886.3 1278.7L1895.7 1275.7L1905.1 1271.3L1952.1 1271.3L1961.5 1261.2L1970.9 1244.3L1980.3 1223.7L1999.2 1223.7L2008.6 1211.1L2018.0 1198.3L2027.4 1195.0L2036.8 1195.0L2046.2 1177.2L3701.1 1177.2" stroke="#3698c5"/>
<path d="M269.0 2118.5L391.2 2118.5L400.6 2083.6L410.0 2053.7L532.3 2053.7L541.7 2039.1L551.1 2024.1L560.5 2010.4L569.9 1978.5L579.3 1938.0L588.7 1908.1L598.1 1904.4L682.7 1904.4L692.1 1903.9L842.6 1903.9L852.0 1903.7L861.4 1903.5L870.8 1903.5L880.2 1900.6L908.4 1900.6L917.8 1870.7L927.2 1850.8L936.6 1850.8L946.0 1843.4L993.0 1843.4L1002.4 1840.3L1011.8 1782.9L1021.2 1779.1L1087.1 1779.1L1096.5 1761.8L1105.9 1731.3L1162.3 1731.3L1171.7 1725.8L1181.1 1715.2L1190.5 1697.2L1199.9 1690.5L1209.3 1690.5L1218.7 1689.3L1228.1 1686.9L1256.3 1686.9L1265.7 1686.8L1293.9 1686.8L1303.3 1679.7L1312.7 1667.7L1322.1 1661.4L1331.5 1654.9L1340.9 1643.1L1350.3 1620.7L1359.7 1616.4L1369.2 1612.5L1416.2 1612.5L1425.6 1580.4L1435.0 1540.1L1444.4 1501.7L1453.8 1482.5L1463.2 1475.5L1557.2 1475.5L1566.6 1470.4L1594.8 1470.4L1604.2 1457.4L1613.6 1440.3L1623.0 1440.3L1632.4 1417.5L1641.8 1417.5L1651.2 1416.2L1660.6 1407.8L1707.7 1407.8L1717.1 1405.2L1726.5 1390.8L1735.9 1371.8L1745.3 1363.3L1829.9 1363.3L1839.3 1342.7L1952.1 1342.7L1961.5 1320.0L1970.9 1285.7L1980.3 1266.1L2102.6 1266.1L2112.0 1265.1L2121.4 1264.5L2140.2 1264.5L2149.6 1261.1L2168.4 1261.1L2177.8 1239.0L2187.2 1212.1L2196.6 1191.7L2431.7 1191.7L2441.1 1188.0L2506.9 1188.0L2516.3 1174.1L3635.3 1174.1L3644.7 1166.6L3701.1 1166.6" stroke="#3597c4"/>
<path d="M269.0 2118.5L287.8 2118.5L297.2 2101.5L306.6 2101.5L316.0 2099.2L325.4 2097.4L353.6 2097.4L363.0 2094.9L372.4 2092.7L381.8 2092.7L391.2 2084.3L400.6 2080.8L410.0 2057.4L419.4 2057.4L428.9 2056.4L438.3 2043.0L447.7 2032.8L457.1 2018.3L466.5 2018.3L475.9 2018.2L485.3 2005.0L494.7 1972.0L504.1 1964.6L513.5 1955.2L522.9 1950.2L532.3 1950.2L541.7 1948.9L551.1 1948.9L560.5 1945.4L569.9 1942.6L579.3 1930.7L626.3 1930.7L635.7 1925.2L663.9 1925.2L673.3 1916.1L682.7 1911.9L710.9 1911.9L720.3 1907.7L729.7 1907.7L739.2 1902.3L748.6 1895.1L758.0 1892.6L767.4 1874.8L833.2 1874.8L842.6 1847.9L852.0 1788.9L880.2 1788.9L889.6 1747.2L899.0 1737.8L908.4 1727.6L974.2 1727.6L983.6 1705.2L1068.3 1705.2L1077.7 1703.6L1087.1 1684.9L1096.5 1663.2L1105.9 1656.8L1246.9 1656.8L1256.3 1654.2L1265.7 1649.7L1275.1 1647.2L1284.5 1616.4L1293.9 1573.8L1303.3 1552.2L1397.4 1552.2L1406.8 1544.6L1416.2 1536.3L1444.4 1536.3L1453.8 1526.8L1463.2 1520.2L1529.0 1520.2L1538.4 1509.1L1566.6 1509.1L1576.0 1501.5L1585.4 1492.8L1613.6 1492.8L1623.0 1485.7L1670.0 1485.7L1679.5 1484.2L1698.3 1484.2L1707.7 1483.8L1735.9 1483.8L1745.3 1469.6L1754.7 1447.3L1773.5 1447.3L1782.9 1433.9L1792.3 1429.5L1801.7 1420.6L1895.7 1420.6L1905.1 1419.8L1914.5 1419.8L1923.9 1415.3L1933.3 1410.2L1970.9 1410.2L1980.3 1402.9L1989.7 1387.5L1999.2 1387.5L2008.6 1343.7L2018.0 1305.9L2027.4 1261.4L2036.8 1261.4L2046.2 1243.2L2074.4 1243.2L2083.8 1234.2L2093.2 1225.3L2102.6 1219.5L2112.0 1212.9L2121.4 1205.7L2130.8 1204.7L2140.2 1203.1L2149.6 1195.5L2159.0 1179.6L2168.4 1166.9L2177.8 1166.9L2187.2 1163.5L3701.1 1163.5" stroke="#3496c3"/>
<path d="M269.0 2118.5L297.2 2118.5L306.6 2048.5L316.0 2036.5L457.1 2036.5L466.5 2034.1L475.9 2030.9L485.3 2027.3L494.7 2002.3L513.5 2002.3L522.9 1995.2L729.7 1995.2L739.2 1993.5L748.6 1992.0L758.0 1992.0L767.4 1989.6L805.0 1989.6L814.4 1986.2L823.8 1982.2L870.8 1982.2L880.2 1978.1L889.6 1975.9L899.0 1975.9L908.4 1974.3L917.8 1957.6L927.2 1934.8L936.6 1917.4L946.0 1910.0L955.4 1906.1L1011.8 1906.1L1021.2 1902.2L1030.6 1885.7L1040.0 1870.7L1049.4 1857.7L1058.9 1853.4L1124.7 1853.4L1134.1 1838.8L1143.5 1822.9L1152.9 1810.5L1162.3 1806.4L1171.7 1802.5L1275.1 1802.5L1284.5 1792.6L1293.9 1768.7L1303.3 1756.8L1312.7 1751.9L1322.1 1741.7L1331.5 1719.6L1340.9 1695.9L1359.7 1695.9L1369.2 1693.0L1378.6 1693.0L1388.0 1687.7L1397.4 1679.7L1406.8 1665.4L1416.2 1665.4L1425.6 1651.6L1444.4 1651.6L1453.8 1632.8L1463.2 1632.8L1472.6 1618.1L1510.2 1618.1L1519.6 1583.4L1529.0 1564.0L1538.4 1542.1L1547.8 1523.0L1557.2 1517.5L1566.6 1500.5L1576.0 1475.7L1585.4 1455.0L1594.8 1432.3L1604.2 1432.3L1613.6 1406.6L1623.0 1406.6L1632.4 1402.2L1641.8 1399.3L1651.2 1397.6L1670.0 1397.6L1679.5 1393.3L1688.9 1385.5L1698.3 1382.2L1707.7 1382.2L1717.1 1379.5L1839.3 1379.5L1848.7 1378.8L1858.1 1377.6L1867.5 1372.3L1933.3 1372.3L1942.7 1369.3L1952.1 1364.7L1961.5 1355.9L1970.9 1349.4L2018.0 1349.4L2027.4 1346.2L2036.8 1346.2L2046.2 1324.3L2055.6 1308.0L2065.0 1304.3L2074.4 1300.4L2083.8 1298.1L2093.2 1262.6L2102.6 1234.6L2112.0 1176.8L2121.4 1162.5L2159.0 1162.5L2168.4 1141.5L2177.8 1136.2L3701.1 1136.2" stroke="#3294c2"/>
<path d="M269.0 2118.5L287.8 2118.5L297.2 2006.4L344.2 2006.4L353.6 2000.7L363.0 1993.4L428.9 1993.4L438.3 1985.6L447.7 1973.2L457.1 1973.2L466.5 1967.0L475.9 1960.5L541.7 1960.5L551.1 1955.3L560.5 1944.9L569.9 1944.9L579.3 1943.6L588.7 1933.7L598.1 1928.1L607.5 1926.9L645.1 1926.9L654.5 1919.7L692.1 1919.7L701.5 1911.3L776.8 1911.3L786.2 1898.0L889.6 1898.0L899.0 1888.5L908.4 1871.6L917.8 1865.3L927.2 1861.6L936.6 1861.6L946.0 1856.8L955.4 1856.5L964.8 1856.3L1030.6 1856.3L1040.0 1855.8L1049.4 1854.2L1058.9 1849.3L1124.7 1849.3L1134.1 1832.6L1143.5 1806.4L1152.9 1773.8L1162.3 1773.8L1171.7 1749.1L1181.1 1735.6L1209.3 1735.6L1218.7 1708.7L1228.1 1698.6L1246.9 1698.6L1256.3 1681.6L1265.7 1673.6L1275.1 1673.6L1284.5 1672.1L1293.9 1672.1L1303.3 1663.8L1312.7 1651.7L1331.5 1651.7L1340.9 1638.9L1388.0 1638.9L1397.4 1591.5L1406.8 1518.8L1453.8 1518.8L1463.2 1485.2L1510.2 1485.2L1519.6 1436.1L1576.0 1436.1L1585.4 1427.2L1594.8 1427.2L1604.2 1426.1L1613.6 1423.7L1623.0 1421.3L1670.0 1421.3L1679.5 1415.5L1688.9 1403.1L1698.3 1398.2L1707.7 1387.7L1717.1 1384.3L1726.5 1372.3L1735.9 1362.3L1745.3 1338.1L1754.7 1338.1L1764.1 1336.3L1773.5 1334.5L1829.9 1334.5L1839.3 1316.2L1858.1 1316.2L1867.5 1309.2L1876.9 1296.4L1886.3 1287.0L1989.7 1287.0L1999.2 1285.7L2008.6 1269.2L2018.0 1269.2L2027.4 1211.5L2065.0 1211.5L2074.4 1203.1L2083.8 1200.0L2093.2 1193.5L2102.6 1190.5L2121.4 1190.5L2130.8 1183.3L2140.2 1175.6L2206.0 1175.6L2215.4 1132.3L3701.1 1132.3" stroke="#3193c2"/>
<path d="M269.0 2118.5L447.7 2118.5L457.1 2112.0L466.5 2103.3L475.9 2099.3L532.3 2099.3L541.7 2083.2L579.3 2083.2L588.7 2038.9L598.1 2008.0L607.5 1993.9L616.9 1977.7L626.3 1977.7L635.7 1972.8L645.1 1964.9L654.5 1960.4L748.6 1960.4L758.0 1947.1L786.2 1947.1L795.6 1944.7L805.0 1944.7L814.4 1943.8L823.8 1943.8L833.2 1933.5L889.6 1933.5L899.0 1923.0L908.4 1914.5L917.8 1906.3L955.4 1906.3L964.8 1898.6L974.2 1883.1L983.6 1873.7L993.0 1860.2L1011.8 1860.2L1021.2 1853.6L1040.0 1853.6L1049.4 1831.0L1068.3 1831.0L1077.7 1823.4L1105.9 1823.4L1115.3 1818.5L1124.7 1813.9L1134.1 1813.5L1218.7 1813.5L1228.1 1810.7L1275.1 1810.7L1284.5 1801.6L1340.9 1801.6L1350.3 1766.5L1359.7 1743.9L1378.6 1743.9L1388.0 1702.6L1397.4 1702.6L1406.8 1674.9L1510.2 1674.9L1519.6 1669.3L1529.0 1669.3L1538.4 1666.5L1547.8 1664.1L1557.2 1661.5L1585.4 1661.5L1594.8 1660.6L1604.2 1660.6L1613.6 1657.4L1651.2 1657.4L1660.6 1631.0L1670.0 1573.4L1679.5 1571.5L1688.9 1569.6L1698.3 1536.6L1707.7 1518.9L1717.1 1492.5L1726.5 1492.5L1735.9 1490.4L1745.3 1489.2L1858.1 1489.2L1867.5 1473.5L1876.9 1452.7L1886.3 1452.7L1895.7 1425.3L1905.1 1407.0L1914.5 1390.1L1923.9 1387.9L1933.3 1382.3L1942.7 1374.3L1952.1 1362.7L1999.2 1362.7L2008.6 1360.8L2018.0 1360.6L2036.8 1360.6L2046.2 1341.2L2055.6 1333.5L2074.4 1333.5L2083.8 1323.5L2093.2 1318.4L2112.0 1318.4L2121.4 1309.5L2130.8 1298.8L2140.2 1285.3L2149.6 1275.9L2177.8 1275.9L2187.2 1259.1L2196.6 1242.0L2206.0 1220.3L2215.4 1203.3L2224.8 1203.3L2234.2 1202.7L2243.6 1202.3L2253.0 1187.7L2262.4 1170.8L2271.8 1170.8L2281.2 1164.4L2290.6 1153.7L2300.0 1151.4L2356.5 1151.4L2365.9 1148.0L2375.3 1132.3L3672.9 1132.3L3682.3 1124.0L3701.1 1124.0" stroke="#3092c1"/>
<path d="M269.0 2118.5L278.4 2118.5L287.8 2115.1L297.2 2107.5L306.6 2107.5L316.0 2082.1L325.4 1969.0L400.6 1969.0L410.0 1965.7L447.7 1965.7L457.1 1963.2L466.5 1955.4L475.9 1946.9L485.3 1946.0L494.7 1946.0L504.1 1924.9L513.5 1905.9L522.9 1886.3L532.3 1886.3L541.7 1885.0L551.1 1856.1L560.5 1820.7L654.5 1820.7L663.9 1817.0L673.3 1810.0L701.5 1810.0L710.9 1777.8L720.3 1729.1L729.7 1729.1L739.2 1719.9L748.6 1708.3L758.0 1708.3L767.4 1704.8L776.8 1692.8L786.2 1666.1L814.4 1666.1L823.8 1658.5L833.2 1658.5L842.6 1655.5L852.0 1650.7L861.4 1647.8L870.8 1647.8L880.2 1643.8L889.6 1643.8L899.0 1637.5L908.4 1627.7L917.8 1627.4L983.6 1627.4L993.0 1623.9L1002.4 1623.9L1011.8 1614.3L1021.2 1596.2L1068.3 1596.2L1077.7 1594.8L1087.1 1592.8L1096.5 1590.7L1105.9 1590.7L1115.3 1586.5L1124.7 1581.9L1134.1 1581.9L1143.5 1566.8L1152.9 1557.9L1162.3 1554.3L1171.7 1551.1L1181.1 1551.1L1190.5 1548.4L1246.9 1548.4L1256.3 1541.1L1293.9 1541.1L1303.3 1535.8L1322.1 1535.8L1331.5 1467.7L1340.9 1402.8L1350.3 1402.8L1359.7 1377.3L1369.2 1362.3L1378.6 1356.3L1416.2 1356.3L1425.6 1338.4L1435.0 1329.6L1472.6 1329.6L1482.0 1327.1L1491.4 1323.6L1500.8 1323.6L1510.2 1308.5L1519.6 1308.0L1529.0 1307.8L1538.4 1307.4L1547.8 1307.4L1557.2 1303.7L1566.6 1301.1L1576.0 1298.6L1594.8 1298.6L1604.2 1280.6L1613.6 1265.6L1623.0 1253.9L1632.4 1253.2L1688.9 1253.2L1698.3 1245.0L1707.7 1230.8L1717.1 1230.8L1726.5 1225.6L1764.1 1225.6L1773.5 1219.7L1782.9 1211.5L1792.3 1211.4L1801.7 1206.6L1811.1 1203.3L1848.7 1203.3L1858.1 1200.1L1867.5 1197.6L1876.9 1197.6L1886.3 1197.1L1895.7 1192.6L1905.1 1178.0L1914.5 1165.9L1961.5 1165.9L1970.9 1119.6L3701.1 1119.6" stroke="#2f90c0"/>
<path d="M269.0 2118.5L278.4 2118.5L287.8 2088.5L297.2 2065.1L306.6 2044.4L316.0 2029.6L325.4 2029.6L334.8 1991.4L344.2 1973.4L353.6 1945.8L372.4 1945.8L381.8 1940.3L391.2 1925.9L400.6 1911.6L410.0 1911.6L419.4 1905.5L428.9 1896.7L438.3 1861.0L466.5 1861.0L475.9 1855.4L485.3 1850.9L532.3 1850.9L541.7 1836.9L551.1 1759.2L560.5 1722.2L579.3 1722.2L588.7 1720.0L598.1 1704.1L607.5 1692.7L626.3 1692.7L635.7 1692.6L645.1 1692.6L654.5 1682.0L739.2 1682.0L748.6 1681.8L758.0 1667.8L767.4 1667.6L776.8 1667.6L786.2 1662.3L795.6 1653.5L805.0 1646.5L852.0 1646.5L861.4 1639.3L908.4 1639.3L917.8 1636.9L955.4 1636.9L964.8 1624.6L974.2 1621.6L983.6 1615.8L1002.4 1615.8L1011.8 1565.1L1021.2 1519.5L1030.6 1519.5L1040.0 1518.7L1068.3 1518.7L1077.7 1514.4L1087.1 1508.6L1143.5 1508.6L1152.9 1501.5L1162.3 1493.0L1190.5 1493.0L1199.9 1490.9L1228.1 1490.9L1237.5 1489.7L1312.7 1489.7L1322.1 1483.3L1331.5 1483.3L1340.9 1477.0L1350.3 1471.7L1359.7 1467.9L1369.2 1467.9L1378.6 1463.3L1406.8 1463.3L1416.2 1440.7L1425.6 1397.8L1435.0 1386.8L1444.4 1356.8L1453.8 1356.5L1463.2 1356.2L1472.6 1343.8L1482.0 1336.8L1519.6 1336.8L1529.0 1330.4L1538.4 1325.1L1585.4 1325.1L1594.8 1296.1L1613.6 1296.1L1623.0 1256.4L1632.4 1218.7L1641.8 1185.9L1679.5 1185.9L1688.9 1167.2L1764.1 1167.2L1773.5 1162.3L1782.9 1157.4L1905.1 1157.4L1914.5 1138.7L1923.9 1138.7L1933.3 1123.5L2046.2 1123.5L2055.6 1114.7L2140.2 1114.7L2149.6 1095.8L3701.1 1095.8" stroke="#2e8fc0"/>
<path d="M269.0 2118.5L297.2 2118.5L306.6 2078.2L410.0 2078.2L419.4 2076.8L428.9 2075.5L438.3 2055.3L663.9 2055.3L673.3 2046.1L692.1 2046.1L701.5 2043.0L720.3 2043.0L729.7 2032.5L739.2 2018.7L814.4 2018.7L823.8 1993.8L889.6 1993.8L899.0 1980.1L917.8 1980.1L927.2 1971.1L936.6 1966.4L964.8 1966.4L974.2 1957.3L1002.4 1957.3L1011.8 1944.1L1021.2 1908.2L1030.6 1874.1L1040.0 1854.0L1077.7 1854.0L1087.1 1853.0L1096.5 1853.0L1105.9 1849.3L1115.3 1821.4L1134.1 1821.4L1143.5 1809.8L1152.9 1803.0L1199.9 1803.0L1209.3 1775.7L1218.7 1762.1L1228.1 1742.7L1284.5 1742.7L1293.9 1742.0L1303.3 1741.2L1340.9 1741.2L1350.3 1727.4L1369.2 1727.4L1378.6 1725.3L1406.8 1725.3L1416.2 1723.6L1425.6 1719.9L1435.0 1704.4L1444.4 1687.5L1453.8 1673.3L1519.6 1673.3L1529.0 1650.6L1557.2 1650.6L1566.6 1622.8L1585.4 1622.8L1594.8 1594.5L1604.2 1581.4L1613.6 1573.6L1623.0 1569.6L1632.4 1566.2L1641.8 1558.6L1782.9 1558.6L1792.3 1554.8L1801.7 1543.3L1811.1 1534.4L1876.9 1534.4L1886.3 1530.1L1895.7 1524.6L1905.1 1523.7L1914.5 1513.8L1923.9 1506.0L1961.5 1506.0L1970.9 1498.1L1980.3 1478.9L1989.7 1459.1L2065.0 1459.1L2074.4 1448.4L2083.8 1433.9L2093.2 1422.0L2112.0 1422.0L2121.4 1411.7L2130.8 1370.6L2140.2 1317.1L2149.6 1313.3L2159.0 1311.7L2168.4 1310.8L2177.8 1299.5L2187.2 1289.9L2224.8 1289.9L2234.2 1288.9L2243.6 1287.9L2271.8 1287.9L2281.2 1266.5L2290.6 1234.5L2309.5 1234.5L2318.9 1216.5L2328.3 1185.4L2478.7 1185.4L2488.1 1183.7L2535.1 1183.7L2544.5 1135.6L2553.9 1103.4L2657.4 1103.4L2666.8 1091.0L3701.1 1091.0" stroke="#2c8dbf"/>
<path d="M269.0 2118.5L428.9 2118.5L438.3 2108.8L447.7 2096.0L457.1 2096.0L466.5 2091.8L475.9 2075.4L485.3 2073.1L504.1 2073.1L513.5 2063.8L598.1 2063.8L607.5 2061.6L739.2 2061.6L748.6 2051.7L758.0 2038.0L767.4 2033.2L776.8 2033.2L786.2 2016.9L833.2 2016.9L842.6 2011.2L852.0 1993.8L870.8 1993.8L880.2 1984.2L955.4 1984.2L964.8 1909.8L974.2 1882.1L1011.8 1882.1L1021.2 1875.9L1030.6 1875.9L1040.0 1864.0L1068.3 1864.0L1077.7 1837.6L1087.1 1833.7L1096.5 1832.1L1105.9 1828.1L1124.7 1828.1L1134.1 1808.0L1143.5 1807.4L1152.9 1806.5L1162.3 1804.9L1190.5 1804.9L1199.9 1801.4L1209.3 1762.2L1218.7 1743.1L1284.5 1743.1L1293.9 1731.2L1303.3 1723.4L1312.7 1711.7L1350.3 1711.7L1359.7 1703.3L1369.2 1672.2L1378.6 1665.7L1388.0 1661.4L1397.4 1661.3L1406.8 1647.7L1416.2 1640.5L1463.2 1640.5L1472.6 1623.2L1482.0 1599.1L1491.4 1585.5L1500.8 1585.5L1510.2 1560.1L1519.6 1542.8L1557.2 1542.8L1566.6 1534.6L1641.8 1534.6L1651.2 1530.8L1660.6 1530.8L1670.0 1513.0L1707.7 1513.0L1717.1 1467.3L1726.5 1434.9L1745.3 1434.9L1754.7 1432.4L1820.5 1432.4L1829.9 1425.8L1839.3 1413.8L1848.7 1413.8L1858.1 1408.4L1876.9 1408.4L1886.3 1371.2L1895.7 1343.0L1905.1 1312.7L1914.5 1312.7L1923.9 1296.2L1933.3 1283.1L1942.7 1273.8L2036.8 1273.8L2046.2 1273.7L2055.6 1273.4L2065.0 1273.2L2074.4 1273.2L2083.8 1246.2L2102.6 1246.2L2112.0 1241.1L2121.4 1235.4L2140.2 1235.4L2149.6 1212.8L2196.6 1212.8L2206.0 1208.7L2215.4 1201.3L2224.8 1193.4L2234.2 1193.4L2243.6 1176.2L2253.0 1157.7L2262.4 1146.7L2328.3 1146.7L2337.7 1144.1L2347.1 1140.2L2403.5 1140.2L2412.9 1130.7L2478.7 1130.7L2488.1 1114.8L2497.5 1089.4L3701.1 1089.4" stroke="#2b8cbe"/>
<path d="M269.0 2118.5L569.9 2118.5L579.3 2096.9L814.4 2096.9L823.8 2075.4L833.2 2075.4L842.6 2058.9L852.0 2058.9L861.4 2057.1L917.8 2057.1L927.2 2041.2L936.6 1975.9L946.0 1918.6L955.4 1890.5L974.2 1890.5L983.6 1886.0L993.0 1878.7L1002.4 1878.6L1040.0 1878.6L1049.4 1868.8L1077.7 1868.8L1087.1 1866.0L1096.5 1861.7L1105.9 1858.6L1134.1 1858.6L1143.5 1834.1L1152.9 1784.5L1162.3 1774.0L1171.7 1768.0L1190.5 1768.0L1199.9 1744.5L1209.3 1719.4L1218.7 1705.4L1228.1 1705.4L1237.5 1667.9L1246.9 1621.1L1256.3 1599.7L1265.7 1597.2L1359.7 1597.2L1369.2 1590.0L1378.6 1584.8L1388.0 1579.5L1397.4 1575.7L1406.8 1571.5L1416.2 1564.4L1444.4 1564.4L1453.8 1562.7L1463.2 1560.8L1472.6 1558.9L1482.0 1558.9L1491.4 1556.6L1500.8 1552.4L1510.2 1542.7L1538.4 1542.7L1547.8 1529.3L1557.2 1529.3L1566.6 1511.3L1576.0 1493.8L1585.4 1461.1L1594.8 1458.8L1754.7 1458.8L1764.1 1384.7L1773.5 1353.8L1782.9 1310.9L1858.1 1310.9L1867.5 1291.4L1876.9 1264.8L1886.3 1236.3L1895.7 1219.8L1905.1 1213.3L1914.5 1203.7L1923.9 1188.9L1933.3 1180.7L1942.7 1179.2L2008.6 1179.2L2018.0 1168.2L2027.4 1168.2L2036.8 1165.6L2046.2 1154.7L2055.6 1144.3L2065.0 1144.3L2074.4 1127.1L2083.8 1126.5L2093.2 1121.6L2112.0 1121.6L2121.4 1121.4L2130.8 1107.1L3550.6 1107.1L3560.1 1083.9L3701.1 1083.9" stroke="#2a8bbd"/>
<path d="M269.0 2118.5L287.8 2118.5L297.2 2115.1L306.6 2113.2L316.0 2109.6L344.2 2109.6L353.6 2108.5L372.4 2108.5L381.8 2102.6L391.2 2087.5L400.6 2087.5L410.0 2056.1L419.4 2030.6L428.9 2016.7L457.1 2016.7L466.5 2016.3L475.9 2015.5L494.7 2015.5L504.1 2005.5L513.5 2005.5L522.9 2004.4L532.3 2003.7L551.1 2003.7L560.5 1993.9L579.3 1993.9L588.7 1983.8L598.1 1970.0L616.9 1970.0L626.3 1969.0L635.7 1953.9L645.1 1948.6L654.5 1948.6L663.9 1939.5L673.3 1916.6L682.7 1916.6L692.1 1914.4L701.5 1905.9L729.7 1905.9L739.2 1905.9L748.6 1891.9L758.0 1869.5L767.4 1857.9L814.4 1857.9L823.8 1857.8L833.2 1857.6L908.4 1857.6L917.8 1849.1L927.2 1840.8L955.4 1840.8L964.8 1834.5L974.2 1828.3L983.6 1798.7L993.0 1788.5L1002.4 1774.5L1011.8 1759.6L1021.2 1706.6L1030.6 1665.6L1040.0 1662.1L1058.9 1662.1L1068.3 1658.6L1096.5 1658.6L1105.9 1632.8L1115.3 1614.7L1162.3 1614.7L1171.7 1600.1L1181.1 1600.1L1190.5 1587.3L1199.9 1574.0L1209.3 1556.9L1218.7 1556.9L1228.1 1556.5L1265.7 1556.5L1275.1 1534.3L1284.5 1513.2L1293.9 1496.3L1303.3 1488.9L1312.7 1461.3L1322.1 1453.5L1340.9 1453.5L1350.3 1435.9L1444.4 1435.9L1453.8 1399.6L1463.2 1384.2L1500.8 1384.2L1510.2 1380.2L1529.0 1380.2L1538.4 1375.8L1547.8 1372.9L1576.0 1372.9L1585.4 1349.7L1613.6 1349.7L1623.0 1348.6L1632.4 1346.8L1679.5 1346.8L1688.9 1335.7L1754.7 1335.7L1764.1 1311.5L1773.5 1284.2L1782.9 1284.2L1792.3 1267.5L1801.7 1255.7L1811.1 1255.7L1820.5 1232.5L1829.9 1211.7L1839.3 1202.4L1848.7 1177.8L1876.9 1177.8L1886.3 1163.5L1895.7 1122.4L1905.1 1092.3L1942.7 1092.3L1952.1 1078.6L1961.5 1069.6L1970.9 1069.6L1980.3 1035.3L1989.7 1024.9L1999.2 1024.9L2008.6 1024.9L2046.2 1024.9L2055.6 1014.3L3701.1 1014.3" stroke="#298abd"/>
<path d="M269.0 2118.5L306.6 2118.5L316.0 2041.6L325.4 2040.4L419.4 2040.4L428.9 2038.3L438.3 2034.9L475.9 2034.9L485.3 2013.7L494.7 1998.5L504.1 1991.2L588.7 1991.2L598.1 1989.3L616.9 1989.3L626.3 1983.1L654.5 1983.1L663.9 1970.8L673.3 1960.8L692.1 1960.8L701.5 1957.1L710.9 1956.5L720.3 1956.0L758.0 1956.0L767.4 1935.3L776.8 1922.1L786.2 1922.1L795.6 1910.3L936.6 1910.3L946.0 1898.6L955.4 1890.2L964.8 1881.3L974.2 1881.3L983.6 1876.0L993.0 1876.0L1002.4 1853.7L1011.8 1825.3L1021.2 1825.3L1030.6 1815.4L1049.4 1815.4L1058.9 1804.2L1068.3 1793.6L1077.7 1793.6L1087.1 1759.7L1096.5 1751.8L1134.1 1751.8L1143.5 1747.4L1152.9 1742.3L1237.5 1742.3L1246.9 1737.8L1256.3 1723.9L1275.1 1723.9L1284.5 1715.5L1293.9 1715.5L1303.3 1702.7L1312.7 1692.8L1322.1 1662.6L1331.5 1657.2L1340.9 1651.4L1350.3 1629.3L1359.7 1610.1L1397.4 1610.1L1406.8 1607.0L1557.2 1607.0L1566.6 1593.6L1576.0 1570.5L1585.4 1549.6L1679.5 1549.6L1688.9 1548.8L1698.3 1548.4L1754.7 1548.4L1764.1 1541.5L1848.7 1541.5L1858.1 1541.1L1867.5 1540.1L1923.9 1540.1L1933.3 1535.1L1942.7 1525.0L1952.1 1518.3L1961.5 1503.0L1970.9 1449.1L2018.0 1449.1L2027.4 1405.9L2074.4 1405.9L2083.8 1399.2L2093.2 1395.7L2102.6 1391.5L2187.2 1391.5L2196.6 1387.7L2337.7 1387.7L2347.1 1353.9L3419.0 1353.9L3428.4 1330.6L3437.8 1304.9L3447.2 1287.2L3456.6 1266.3L3597.7 1266.3L3607.1 1243.7L3616.5 1052.4L3625.9 1009.3L3701.1 1009.3" stroke="#2888bc"/>
<path d="M269.0 2118.5L278.4 2097.4L316.0 2097.4L325.4 2089.0L334.8 2079.9L353.6 2079.9L363.0 2078.7L372.4 2073.4L381.8 2067.5L391.2 2067.5L400.6 2012.8L410.0 2010.9L419.4 2008.3L428.9 2008.3L438.3 2001.5L447.7 2001.5L457.1 2000.7L466.5 1991.3L475.9 1980.3L485.3 1980.3L494.7 1974.4L504.1 1971.4L532.3 1971.4L541.7 1962.3L579.3 1962.3L588.7 1950.7L616.9 1950.7L626.3 1922.7L635.7 1884.5L645.1 1855.6L701.5 1855.6L710.9 1850.6L720.3 1850.6L729.7 1827.1L739.2 1812.1L748.6 1779.7L758.0 1770.1L767.4 1739.1L776.8 1737.9L795.6 1737.9L805.0 1709.3L814.4 1689.3L842.6 1689.3L852.0 1659.4L861.4 1642.1L870.8 1614.8L880.2 1603.7L889.6 1597.5L899.0 1546.0L908.4 1539.7L917.8 1528.1L927.2 1518.3L936.6 1502.0L946.0 1472.3L974.2 1472.3L983.6 1458.9L1011.8 1458.9L1021.2 1434.0L1087.1 1434.0L1096.5 1417.9L1115.3 1417.9L1124.7 1408.5L1134.1 1404.1L1143.5 1392.6L1228.1 1392.6L1237.5 1388.7L1246.9 1388.7L1256.3 1378.1L1397.4 1378.1L1406.8 1376.3L1416.2 1374.8L1453.8 1374.8L1463.2 1366.3L1472.6 1356.4L1482.0 1356.4L1491.4 1335.1L1500.8 1309.5L1510.2 1309.5L1519.6 1296.0L1604.2 1296.0L1613.6 1295.9L1623.0 1295.7L1670.0 1295.7L1679.5 1295.1L1688.9 1269.2L1698.3 1245.0L1707.7 1239.2L1773.5 1239.2L1782.9 1229.2L1792.3 1211.7L1811.1 1211.7L1820.5 1165.1L1829.9 1160.4L1839.3 1156.4L1848.7 1131.9L1858.1 1105.9L2008.6 1105.9L2018.0 1102.0L2140.2 1102.0L2149.6 1087.7L2159.0 1087.0L2262.4 1087.0L2271.8 1073.0L2459.9 1073.0L2469.3 1058.8L3597.7 1058.8L3607.1 1049.2L3616.5 1004.6L3625.9 1001.6L3701.1 1001.6" stroke="#2687bc"/>
<path d="M269.0 2118.5L297.2 2118.5L306.6 2118.1L419.4 2118.1L428.9 2079.6L438.3 2061.6L447.7 2029.3L494.7 2029.3L504.1 2017.8L513.5 2006.4L560.5 2006.4L569.9 2004.8L701.5 2004.8L710.9 1986.8L720.3 1957.4L729.7 1957.4L739.2 1939.9L767.4 1939.9L776.8 1923.2L786.2 1916.8L795.6 1916.8L805.0 1877.8L814.4 1873.3L852.0 1873.3L861.4 1851.3L870.8 1813.0L880.2 1785.2L899.0 1785.2L917.8 1784.0L927.2 1783.1L936.6 1776.4L946.0 1776.4L955.4 1764.5L964.8 1759.7L974.2 1759.2L983.6 1758.8L1049.4 1758.8L1058.9 1751.2L1068.3 1716.3L1077.7 1699.5L1087.1 1699.5L1096.5 1687.2L1105.9 1672.9L1115.3 1663.8L1124.7 1650.1L1143.5 1650.1L1152.9 1631.9L1312.7 1631.9L1322.1 1619.8L1331.5 1603.9L1340.9 1593.8L1369.2 1593.8L1378.6 1571.6L1388.0 1547.2L1397.4 1542.2L1406.8 1539.1L1416.2 1534.8L1453.8 1534.8L1463.2 1534.4L1500.8 1534.4L1510.2 1524.2L1519.6 1512.3L1529.0 1492.4L1538.4 1486.4L1547.8 1486.4L1557.2 1477.9L1594.8 1477.9L1604.2 1383.9L1651.2 1383.9L1660.6 1381.9L1670.0 1380.4L1707.7 1380.4L1717.1 1377.3L1764.1 1377.3L1773.5 1375.2L1782.9 1370.0L1792.3 1367.7L1801.7 1358.7L1811.1 1346.7L1820.5 1314.6L1839.3 1314.6L1848.7 1307.3L1867.5 1307.3L1876.9 1290.5L1886.3 1290.5L1895.7 1276.0L1905.1 1270.9L1923.9 1270.9L1933.3 1260.2L1942.7 1252.4L1952.1 1252.4L1961.5 1244.0L1970.9 1239.7L1980.3 1234.9L2018.0 1234.9L2027.4 1225.3L2036.8 1218.0L2046.2 1176.8L2055.6 1176.8L2065.0 1174.4L2074.4 1130.6L2083.8 1068.8L2093.2 1058.3L2102.6 1049.8L2112.0 1047.7L2121.4 1044.2L2149.6 1044.2L2159.0 1035.2L2168.4 1035.2L2177.8 1006.5L2187.2 990.8L3701.1 990.8" stroke="#2586bb"/>
<path d="M269.0 2118.5L278.4 2118.5L287.8 2108.0L297.2 2095.1L372.4 2095.1L381.8 2077.0L391.2 2056.7L400.6 2040.3L410.0 2035.1L438.3 2035.1L447.7 2033.9L457.1 2031.3L466.5 2029.2L485.3 2029.2L494.7 2021.5L504.1 2012.5L513.5 2012.4L522.9 2012.2L551.1 2012.2L560.5 1972.9L579.3 1972.9L588.7 1938.2L598.1 1878.4L607.5 1861.9L635.7 1861.9L645.1 1850.4L654.5 1842.3L720.3 1842.3L729.7 1834.4L739.2 1823.7L767.4 1823.7L776.8 1809.1L786.2 1778.6L823.8 1778.6L833.2 1762.3L842.6 1748.6L852.0 1748.6L861.4 1740.3L870.8 1725.6L880.2 1699.9L889.6 1658.6L899.0 1615.4L908.4 1603.7L917.8 1603.7L927.2 1592.4L936.6 1575.2L946.0 1549.7L955.4 1549.7L964.8 1540.1L974.2 1526.9L983.6 1525.9L1002.4 1525.9L1011.8 1523.1L1021.2 1485.1L1049.4 1485.1L1058.9 1467.6L1068.3 1466.4L1077.7 1466.4L1087.1 1465.5L1171.7 1465.5L1181.1 1455.2L1190.5 1450.4L1218.7 1450.4L1228.1 1439.7L1246.9 1439.7L1256.3 1436.2L1265.7 1433.3L1275.1 1428.2L1284.5 1418.9L1293.9 1406.8L1303.3 1397.6L1312.7 1391.9L1340.9 1391.9L1350.3 1391.1L1359.7 1390.2L1378.6 1390.2L1388.0 1386.0L1425.6 1386.0L1435.0 1380.3L1444.4 1376.5L1453.8 1374.2L1463.2 1374.2L1472.6 1355.2L1510.2 1355.2L1519.6 1349.4L1594.8 1349.4L1604.2 1348.1L1613.6 1346.4L1632.4 1346.4L1641.8 1336.1L1651.2 1325.9L1660.6 1325.9L1670.0 1273.5L1679.5 1242.5L1688.9 1209.7L1820.5 1209.7L1829.9 1200.5L1839.3 1183.8L1858.1 1183.8L1867.5 1182.8L1876.9 1164.8L1886.3 1133.9L1895.7 1108.8L1905.1 1100.3L1914.5 1093.2L1923.9 1090.9L1933.3 1080.5L1942.7 1079.7L1952.1 1078.6L1961.5 1075.3L2018.0 1075.3L2027.4 1072.3L2036.8 1052.7L2093.2 1052.7L2102.6 1013.4L2112.0 986.1L3701.1 986.1" stroke="#2485ba"/>
<path d="M269.0 2118.5L306.6 2118.5L316.0 2070.1L334.8 2070.1L344.2 2067.8L353.6 2066.8L372.4 2066.8L381.8 2065.6L391.2 2063.9L400.6 2063.9L410.0 2062.1L419.4 2056.6L428.9 2042.1L438.3 2030.6L447.7 2021.9L457.1 2016.8L466.5 2016.8L475.9 1984.4L485.3 1962.3L494.7 1939.1L504.1 1939.1L513.5 1934.2L532.3 1934.2L541.7 1824.4L551.1 1821.0L560.5 1815.5L569.9 1791.5L579.3 1763.6L588.7 1753.8L616.9 1753.8L626.3 1749.6L635.7 1745.4L654.5 1745.4L663.9 1740.7L673.3 1735.7L758.0 1735.7L767.4 1717.8L795.6 1717.8L805.0 1716.8L814.4 1714.6L823.8 1713.3L889.6 1713.3L899.0 1701.0L908.4 1690.6L936.6 1690.6L946.0 1671.4L955.4 1657.0L964.8 1641.4L983.6 1641.4L993.0 1639.0L1002.4 1626.4L1011.8 1621.4L1021.2 1589.9L1030.6 1573.3L1068.3 1573.3L1077.7 1571.5L1087.1 1541.6L1096.5 1527.9L1105.9 1516.5L1115.3 1504.0L1124.7 1496.6L1256.3 1496.6L1265.7 1478.7L1275.1 1450.2L1284.5 1450.2L1293.9 1450.0L1303.3 1449.7L1312.7 1449.5L1359.7 1449.5L1369.2 1446.9L1388.0 1446.9L1397.4 1444.4L1406.8 1425.6L1416.2 1422.8L1425.6 1422.8L1435.0 1422.7L1482.0 1422.7L1491.4 1416.0L1500.8 1401.7L1519.6 1401.7L1529.0 1385.7L1538.4 1346.9L1547.8 1318.6L1604.2 1318.6L1613.6 1313.7L1623.0 1309.6L1651.2 1309.6L1660.6 1296.0L1679.5 1296.0L1688.9 1286.1L1698.3 1286.1L1707.7 1284.0L1717.1 1281.4L1801.7 1281.4L1811.1 1275.5L1820.5 1266.5L1829.9 1266.5L1839.3 1256.6L1848.7 1244.6L1886.3 1244.6L1895.7 1224.2L1905.1 1203.1L1914.5 1203.1L1923.9 1182.6L1933.3 1163.3L1942.7 1144.5L1999.2 1144.5L2008.6 1144.2L2027.4 1144.2L2036.8 1139.8L2046.2 1122.1L2243.6 1122.1L2253.0 1118.5L2262.4 1114.2L2271.8 1067.2L2281.2 1039.1L2309.5 1039.1L2318.9 1029.2L2384.7 1029.2L2394.1 1007.9L2403.5 982.3L2412.9 982.3L2422.3 966.0L3701.1 966.0" stroke="#2383ba"/>
<path d="M269.0 2118.5L278.4 2118.5L287.8 2116.9L297.2 2115.7L306.6 2068.4L316.0 2068.3L325.4 2046.1L334.8 2013.1L410.0 2013.1L419.4 1988.1L428.9 1977.2L438.3 1941.3L447.7 1934.3L457.1 1927.7L504.1 1927.7L513.5 1918.2L522.9 1906.2L532.3 1883.8L541.7 1870.8L551.1 1862.2L569.9 1862.2L579.3 1853.6L598.1 1853.6L607.5 1851.2L616.9 1849.3L635.7 1849.3L645.1 1843.9L654.5 1841.5L729.7 1841.5L739.2 1797.4L748.6 1759.9L795.6 1759.9L805.0 1749.8L814.4 1736.0L880.2 1736.0L889.6 1730.2L899.0 1721.9L908.4 1712.0L917.8 1712.0L927.2 1709.2L936.6 1698.3L946.0 1692.4L955.4 1677.4L964.8 1668.8L974.2 1654.6L983.6 1641.3L993.0 1632.5L1002.4 1618.2L1011.8 1616.1L1058.9 1616.1L1068.3 1601.6L1077.7 1579.9L1087.1 1579.9L1096.5 1561.9L1105.9 1517.8L1124.7 1517.8L1134.1 1516.7L1143.5 1514.2L1152.9 1512.9L1190.5 1512.9L1199.9 1501.3L1209.3 1486.9L1218.7 1419.0L1228.1 1399.7L1237.5 1295.2L1246.9 1292.0L1265.7 1292.0L1275.1 1288.8L1312.7 1288.8L1322.1 1279.1L1369.2 1279.1L1378.6 1275.9L1406.8 1275.9L1416.2 1271.7L1444.4 1271.7L1453.8 1262.5L1463.2 1262.5L1472.6 1243.9L1482.0 1226.8L1538.4 1226.8L1547.8 1147.7L1764.1 1147.7L1782.9 1147.7L1792.3 1147.7L1801.7 1138.8L1867.5 1138.8L1876.9 1131.2L1895.7 1131.2L1905.1 1119.4L1923.9 1119.4L1933.3 1105.0L1999.2 1105.0L2008.6 1068.1L2074.4 1068.1L2083.8 1053.1L2121.4 1053.1L2130.8 1044.7L2140.2 1038.2L2149.6 989.1L2375.3 989.1L2384.7 971.4L2394.1 959.7L2535.1 959.7L2544.5 954.8L3701.1 954.8" stroke="#2182b9"/>
<path d="M269.0 2118.5L278.4 2118.5L287.8 2041.6L795.6 2041.6L805.0 2030.3L814.4 2030.3L823.8 2023.1L946.0 2023.1L955.4 2006.3L964.8 1989.1L1021.2 1989.1L1030.6 1970.6L1040.0 1954.9L1049.4 1946.7L1058.9 1944.7L1068.3 1943.4L1077.7 1943.4L1087.1 1942.2L1124.7 1942.2L1134.1 1922.5L1143.5 1904.6L1152.9 1904.3L1162.3 1904.1L1171.7 1904.1L1181.1 1877.6L1190.5 1852.6L1199.9 1844.4L1209.3 1839.9L1218.7 1832.8L1228.1 1832.8L1237.5 1830.9L1265.7 1830.9L1275.1 1824.3L1284.5 1811.7L1331.5 1811.7L1340.9 1785.1L1350.3 1776.0L1359.7 1763.9L1369.2 1763.9L1378.6 1751.9L1435.0 1751.9L1444.4 1750.1L1453.8 1749.5L1463.2 1748.7L1472.6 1741.9L1482.0 1736.1L1510.2 1736.1L1519.6 1726.9L1547.8 1726.9L1557.2 1724.8L1566.6 1716.4L1576.0 1710.8L1585.4 1710.8L1594.8 1707.0L1604.2 1671.5L1613.6 1644.8L1632.4 1644.8L1641.8 1638.5L1670.0 1638.5L1679.5 1602.0L1764.1 1602.0L1773.5 1597.5L1820.5 1597.5L1829.9 1593.4L1839.3 1558.3L1848.7 1558.3L1858.1 1536.2L1867.5 1513.2L1886.3 1513.2L1895.7 1503.8L1905.1 1499.4L1914.5 1498.7L1923.9 1498.1L1933.3 1487.1L1942.7 1483.9L1961.5 1483.9L1970.9 1462.4L1980.3 1448.8L1989.7 1445.1L1999.2 1439.4L2008.6 1430.1L2018.0 1420.5L2027.4 1403.8L2036.8 1403.3L2046.2 1382.5L2055.6 1345.8L2065.0 1296.5L2074.4 1273.8L2083.8 1262.8L2093.2 1228.6L2102.6 1196.9L2112.0 1177.6L2121.4 1176.3L2149.6 1176.3L2159.0 1162.7L2168.4 1146.7L2177.8 1121.3L2187.2 1105.8L3578.9 1105.8L3588.3 983.3L3597.7 935.7L3701.1 935.7" stroke="#2081b8"/>
<path d="M269.0 2118.5L410.0 2118.5L419.4 2111.8L428.9 2106.7L447.7 2106.7L457.1 2084.9L466.5 2060.3L475.9 2038.0L551.1 2038.0L560.5 2008.4L579.3 2008.4L588.7 2003.8L598.1 1995.4L635.7 1995.4L645.1 1958.2L673.3 1958.2L682.7 1928.9L701.5 1928.9L710.9 1925.4L720.3 1905.5L729.7 1886.3L739.2 1880.7L748.6 1880.7L758.0 1876.0L767.4 1876.0L776.8 1844.1L786.2 1827.3L795.6 1799.4L805.0 1787.2L814.4 1787.2L823.8 1770.0L833.2 1745.2L842.6 1692.9L852.0 1691.7L955.4 1691.7L964.8 1674.5L974.2 1667.1L983.6 1581.5L993.0 1572.1L1021.2 1572.1L1030.6 1568.9L1040.0 1566.8L1105.9 1566.8L1115.3 1555.9L1124.7 1523.1L1134.1 1512.5L1152.9 1512.5L1162.3 1512.3L1171.7 1504.9L1181.1 1490.3L1190.5 1475.4L1199.9 1474.6L1237.5 1474.6L1246.9 1452.3L1256.3 1435.2L1265.7 1429.8L1284.5 1429.8L1293.9 1425.1L1303.3 1415.1L1312.7 1415.1L1322.1 1402.3L1331.5 1392.5L1340.9 1380.2L1369.2 1380.2L1378.6 1370.8L1388.0 1358.8L1397.4 1335.2L1406.8 1320.2L1472.6 1320.2L1482.0 1319.3L1491.4 1319.3L1500.8 1311.8L1510.2 1309.2L1519.6 1278.5L1529.0 1231.2L1538.4 1224.0L1576.0 1224.0L1585.4 1223.1L1594.8 1167.6L1688.9 1167.6L1698.3 1165.2L1745.3 1165.2L1754.7 1155.7L1801.7 1155.7L1811.1 1147.1L1848.7 1147.1L1858.1 1144.5L1942.7 1144.5L1952.1 1144.3L1980.3 1144.3L1989.7 1107.9L1999.2 1078.0L2008.6 1035.1L2018.0 1011.4L2027.4 1011.4L2036.8 999.7L2074.4 999.7L2083.8 998.7L2102.6 998.7L2112.0 989.2L2121.4 982.5L2168.4 982.5L2177.8 976.4L2187.2 976.4L2196.6 954.8L2215.4 954.8L2224.8 952.1L2234.2 918.0L3701.1 918.0" stroke="#1f80b8"/>
<path d="M269.0 2118.5L334.8 2118.5L344.2 2108.8L353.6 2092.0L363.0 2075.9L372.4 2049.6L381.8 2020.2L391.2 1994.3L400.6 1958.5L410.0 1913.6L428.9 1913.6L438.3 1902.0L447.7 1899.0L457.1 1898.2L485.3 1898.2L494.7 1888.3L504.1 1873.7L522.9 1873.7L532.3 1857.3L541.7 1845.9L551.1 1825.3L560.5 1825.3L569.9 1816.9L579.3 1801.0L607.5 1801.0L616.9 1796.8L626.3 1794.7L645.1 1794.7L654.5 1791.8L710.9 1791.8L720.3 1761.5L729.7 1734.4L748.6 1734.4L758.0 1732.7L767.4 1730.1L795.6 1730.1L805.0 1719.3L870.8 1719.3L880.2 1718.2L927.2 1718.2L936.6 1687.3L946.0 1651.5L955.4 1625.0L964.8 1625.0L974.2 1617.3L1002.4 1617.3L1011.8 1609.2L1030.6 1609.2L1040.0 1599.0L1049.4 1577.6L1058.9 1542.6L1068.3 1532.9L1087.1 1532.9L1096.5 1529.4L1143.5 1529.4L1152.9 1517.8L1162.3 1501.7L1171.7 1497.9L1181.1 1497.9L1190.5 1470.5L1199.9 1456.9L1209.3 1434.8L1228.1 1434.8L1237.5 1415.6L1246.9 1402.2L1256.3 1397.5L1275.1 1397.5L1284.5 1381.7L1293.9 1365.1L1303.3 1347.6L1322.1 1347.6L1331.5 1343.4L1340.9 1339.3L1397.4 1339.3L1406.8 1327.0L1435.0 1327.0L1444.4 1301.9L1453.8 1264.1L1463.2 1264.1L1472.6 1250.2L1482.0 1235.8L1529.0 1235.8L1538.4 1229.4L1547.8 1223.7L1566.6 1223.7L1576.0 1221.6L1604.2 1221.6L1613.6 1190.9L1717.1 1190.9L1726.5 1150.5L1735.9 1126.0L1782.9 1126.0L1792.3 1123.2L1801.7 1119.0L1848.7 1119.0L1858.1 1103.4L1886.3 1103.4L1895.7 1099.1L1905.1 1096.7L1914.5 1078.6L1923.9 1049.0L1933.3 1038.9L1952.1 1038.9L1961.5 1033.7L1970.9 1025.9L1989.7 1025.9L1999.2 1025.5L2008.6 1024.9L2018.0 1024.3L2036.8 1024.3L2046.2 1013.7L2055.6 991.6L2074.4 991.6L2083.8 978.1L2140.2 978.1L2149.6 974.0L2159.0 971.3L2168.4 971.3L2177.8 955.5L2196.6 955.5L2206.0 920.2L2300.0 920.2L2309.5 908.0L3701.1 908.0" stroke="#1e7fb7"/>
<path d="M269.0 2118.5L297.2 2118.5L306.6 2115.2L316.0 2106.4L325.4 2045.7L334.8 2022.3L344.2 2010.3L353.6 2000.7L363.0 1980.4L372.4 1964.7L419.4 1964.7L428.9 1925.5L438.3 1902.4L447.7 1853.2L466.5 1853.2L475.9 1842.0L504.1 1842.0L513.5 1829.7L522.9 1799.1L532.3 1785.5L541.7 1777.6L569.9 1777.6L579.3 1758.4L588.7 1734.4L598.1 1729.2L607.5 1722.2L616.9 1698.4L635.7 1698.4L645.1 1685.8L654.5 1685.8L663.9 1675.0L692.1 1675.0L701.5 1668.7L710.9 1661.7L748.6 1661.7L758.0 1653.7L767.4 1642.3L776.8 1602.9L823.8 1602.9L833.2 1594.7L842.6 1586.9L852.0 1578.1L889.6 1578.1L899.0 1549.1L908.4 1526.8L917.8 1509.7L927.2 1499.3L955.4 1499.3L964.8 1485.0L983.6 1485.0L993.0 1481.3L1002.4 1469.5L1011.8 1465.0L1021.2 1461.9L1030.6 1461.9L1040.0 1434.6L1049.4 1412.6L1077.7 1412.6L1087.1 1406.6L1096.5 1362.1L1105.9 1326.3L1124.7 1326.3L1134.1 1310.3L1143.5 1298.9L1218.7 1298.9L1228.1 1278.7L1237.5 1274.9L1246.9 1273.6L1256.3 1267.6L1265.7 1264.6L1275.1 1260.5L1303.3 1260.5L1312.7 1259.9L1340.9 1259.9L1350.3 1256.1L1369.2 1256.1L1378.6 1255.1L1388.0 1253.9L1397.4 1241.2L1500.8 1241.2L1510.2 1236.7L1519.6 1236.2L1529.0 1234.2L1538.4 1228.5L1547.8 1209.2L1566.6 1209.2L1576.0 1207.2L1585.4 1207.2L1594.8 1204.1L1604.2 1200.1L1632.4 1200.1L1641.8 1194.4L1651.2 1185.4L1660.6 1156.4L1670.0 1136.6L1679.5 1126.2L1688.9 1102.0L1698.3 1083.3L1858.1 1083.3L1867.5 1082.0L1876.9 1080.7L1886.3 1080.7L1895.7 1073.9L1905.1 1070.5L1914.5 1023.3L1970.9 1023.3L1980.3 1023.2L1989.7 1023.0L2036.8 1023.0L2046.2 1020.2L2055.6 1016.8L2065.0 1014.7L2074.4 1014.0L2083.8 1013.6L2093.2 1013.1L2102.6 1013.1L2112.0 1010.8L2121.4 1007.6L2187.2 1007.6L2196.6 1004.1L2206.0 1001.1L2215.4 1001.1L2224.8 988.6L2243.6 988.6L2253.0 970.2L2262.4 960.2L2271.8 929.9L2281.2 929.9L2290.6 915.5L2300.0 903.2L2309.5 901.8L2318.9 900.5L2347.1 900.5L2356.5 898.8L2365.9 897.6L2412.9 897.6L2422.3 877.1L3701.1 877.1" stroke="#1d7db7"/>
<path d="M269.0 2118.5L297.2 2118.5L306.6 2105.6L353.6 2105.6L363.0 2089.7L419.4 2089.7L428.9 2074.4L438.3 2062.6L447.7 2062.6L457.1 2056.8L466.5 2016.1L475.9 2016.1L485.3 2011.3L494.7 2011.3L569.9 2011.3L579.3 2004.0L588.7 1971.2L598.1 1949.8L607.5 1949.8L616.9 1927.4L626.3 1917.8L635.7 1916.7L654.5 1916.7L663.9 1880.9L673.3 1866.5L682.7 1866.5L692.1 1830.0L701.5 1806.5L710.9 1777.8L729.7 1777.8L739.2 1763.8L767.4 1763.8L776.8 1742.2L786.2 1698.1L795.6 1690.1L805.0 1668.8L814.4 1666.6L823.8 1665.7L833.2 1663.8L842.6 1660.7L852.0 1658.7L861.4 1656.8L870.8 1639.7L880.2 1639.7L889.6 1638.8L899.0 1637.7L927.2 1637.7L936.6 1635.7L946.0 1627.4L964.8 1627.4L974.2 1613.1L983.6 1578.7L1021.2 1578.7L1030.6 1538.9L1040.0 1538.9L1049.4 1538.4L1058.9 1519.1L1068.3 1508.2L1124.7 1508.2L1134.1 1472.5L1143.5 1445.5L1152.9 1393.0L1181.1 1393.0L1190.5 1388.4L1199.9 1383.5L1209.3 1376.3L1237.5 1376.3L1246.9 1369.2L1256.3 1360.3L1275.1 1360.3L1284.5 1354.0L1293.9 1351.0L1303.3 1351.0L1312.7 1341.9L1322.1 1337.1L1331.5 1332.9L1340.9 1332.9L1350.3 1305.0L1359.7 1292.6L1416.2 1292.6L1425.6 1283.4L1435.0 1282.7L1444.4 1282.7L1453.8 1268.8L1463.2 1250.5L1472.6 1228.8L1482.0 1201.7L1491.4 1193.5L1500.8 1193.5L1510.2 1187.3L1519.6 1175.7L1576.0 1175.7L1585.4 1164.5L1594.8 1154.6L1604.2 1154.6L1613.6 1135.7L1623.0 1109.9L1670.0 1109.9L1679.5 1067.0L1782.9 1067.0L1792.3 1053.8L1801.7 1053.8L1811.1 1048.2L1820.5 1043.3L1829.9 1036.2L1848.7 1036.2L1858.1 1036.0L1867.5 1036.0L1876.9 1034.1L1989.7 1034.1L1999.2 1018.9L2008.6 971.2L2018.0 962.8L2027.4 958.3L2074.4 958.3L2083.8 958.2L2093.2 941.9L2102.6 922.7L2112.0 921.0L2121.4 908.1L2130.8 904.3L2140.2 899.1L2149.6 869.4L3701.1 869.4" stroke="#1b7cb6"/>
<path d="M269.0 2118.5L475.9 2118.5L485.3 2115.0L494.7 2112.2L504.1 2110.4L522.9 2110.4L532.3 2108.2L541.7 2089.1L551.1 2077.8L579.3 2077.8L588.7 2077.4L598.1 2076.5L607.5 2066.7L616.9 2055.6L645.1 2055.6L654.5 2051.9L663.9 2034.3L682.7 2034.3L692.1 2030.7L701.5 2019.3L710.9 2003.2L720.3 1999.3L776.8 1999.3L786.2 1954.7L795.6 1904.2L833.2 1904.2L842.6 1882.0L852.0 1850.6L861.4 1806.4L870.8 1728.1L880.2 1654.2L889.6 1617.7L899.0 1600.4L908.4 1584.4L917.8 1566.9L936.6 1566.9L946.0 1555.0L955.4 1549.1L964.8 1537.8L974.2 1530.2L983.6 1530.2L993.0 1513.9L1002.4 1477.7L1011.8 1453.5L1021.2 1446.8L1030.6 1445.1L1087.1 1445.1L1096.5 1438.7L1105.9 1418.8L1115.3 1418.8L1124.7 1411.0L1162.3 1411.0L1171.7 1290.4L1181.1 1290.4L1199.9 1245.4L1284.5 1245.4L1293.9 1205.6L1312.7 1205.6L1322.1 1173.8L1331.5 1165.6L1416.2 1165.6L1425.6 1158.5L1453.8 1158.5L1463.2 1148.9L1566.6 1148.9L1576.0 1144.1L1735.9 1144.1L1745.3 1109.7L1914.5 1109.7L1923.9 1102.6L1933.3 1054.9L1970.9 1054.9L1980.3 1001.0L1989.7 1001.0L1999.2 996.3L2008.6 992.0L2074.4 992.0L2083.8 973.1L2093.2 958.1L2102.6 956.1L2112.0 955.2L2121.4 955.2L2130.8 951.1L2140.2 948.7L2159.0 948.7L2168.4 892.3L2224.8 892.3L2234.2 886.7L2253.0 886.7L2262.4 869.3L2271.8 869.3L2281.2 863.8L3701.1 863.8" stroke="#1a7bb5"/>
<path d="M269.0 2118.5L626.3 2118.5L635.7 2112.2L645.1 2106.8L663.9 2106.8L673.3 2090.0L682.7 2074.6L692.1 2069.4L701.5 2057.8L710.9 2016.8L720.3 1984.9L729.7 1972.8L748.6 1972.8L758.0 1968.6L767.4 1965.9L786.2 1965.9L795.6 1959.2L805.0 1952.4L814.4 1952.4L823.8 1950.7L833.2 1950.7L842.6 1920.4L936.6 1920.4L946.0 1914.3L955.4 1913.3L983.6 1913.3L993.0 1900.6L1002.4 1900.6L1011.8 1897.7L1021.2 1880.8L1030.6 1859.5L1040.0 1847.3L1049.4 1808.4L1105.9 1808.4L1115.3 1805.6L1124.7 1803.0L1134.1 1803.0L1143.5 1797.3L1152.9 1794.9L1162.3 1720.8L1171.7 1664.3L1181.1 1641.6L1246.9 1641.6L1256.3 1629.0L1284.5 1629.0L1293.9 1613.8L1312.7 1613.8L1322.1 1601.4L1340.9 1601.4L1350.3 1593.8L1359.7 1587.7L1425.6 1587.7L1435.0 1563.9L1444.4 1549.7L1453.8 1528.3L1491.4 1528.3L1500.8 1510.3L1510.2 1494.5L1519.6 1491.6L1538.4 1491.6L1547.8 1488.6L1557.2 1481.3L1566.6 1478.6L1576.0 1478.3L1585.4 1474.3L1594.8 1463.3L1604.2 1457.9L1613.6 1449.0L1623.0 1440.5L1632.4 1440.5L1641.8 1408.7L1651.2 1382.2L1698.3 1382.2L1707.7 1372.6L1726.5 1372.6L1735.9 1354.9L1745.3 1345.6L1754.7 1323.8L1811.1 1323.8L1820.5 1305.7L1848.7 1305.7L1858.1 1303.8L1867.5 1303.8L1876.9 1295.3L1886.3 1289.0L1895.7 1278.4L1905.1 1277.3L1923.9 1277.3L1933.3 1273.0L1952.1 1273.0L1961.5 1262.4L1999.2 1262.4L2008.6 1261.4L2083.8 1261.4L2093.2 1223.5L2102.6 1199.3L2112.0 1186.7L2130.8 1186.7L2140.2 1164.1L2149.6 1156.4L2168.4 1156.4L2177.8 1123.6L2196.6 1123.6L2206.0 1107.9L2215.4 1094.5L2224.8 1080.3L2234.2 1080.3L2243.6 1033.1L2253.0 994.3L2262.4 954.2L2328.3 954.2L2337.7 950.4L2347.1 946.8L2356.5 943.2L2375.3 943.2L2384.7 927.6L2450.5 927.6L2459.9 926.0L2469.3 923.0L2478.7 920.6L2506.9 920.6L2516.3 914.4L2657.4 914.4L2666.8 907.7L3560.1 907.7L3569.5 882.1L3597.7 882.1L3607.1 858.5L3701.1 858.5" stroke="#197ab5"/>
<path d="M269.0 2118.5L344.2 2118.5L353.6 2092.5L363.0 2079.3L372.4 2073.5L438.3 2073.5L447.7 2049.6L457.1 2032.5L551.1 2032.5L560.5 2021.8L569.9 2010.4L579.3 2009.6L588.7 2009.6L598.1 1991.3L607.5 1971.3L616.9 1957.6L692.1 1957.6L701.5 1951.4L710.9 1937.0L720.3 1928.1L729.7 1928.1L739.2 1919.3L748.6 1915.4L767.4 1915.4L776.8 1912.9L786.2 1910.2L795.6 1910.2L805.0 1909.0L870.8 1909.0L880.2 1898.1L889.6 1880.9L899.0 1866.5L946.0 1866.5L955.4 1863.3L964.8 1823.1L974.2 1792.4L983.6 1792.4L993.0 1756.0L1002.4 1748.9L1011.8 1740.1L1021.2 1740.1L1030.6 1739.1L1040.0 1739.1L1049.4 1727.9L1068.3 1727.9L1077.7 1720.0L1087.1 1710.9L1096.5 1645.2L1105.9 1617.9L1124.7 1617.9L1134.1 1606.4L1181.1 1606.4L1190.5 1605.8L1228.1 1605.8L1237.5 1569.1L1246.9 1565.4L1256.3 1563.5L1275.1 1563.5L1284.5 1542.3L1312.7 1542.3L1322.1 1539.2L1331.5 1534.2L1397.4 1534.2L1406.8 1516.7L1416.2 1494.4L1425.6 1465.7L1435.0 1460.9L1444.4 1460.9L1453.8 1451.0L1463.2 1439.1L1500.8 1439.1L1510.2 1426.3L1519.6 1400.1L1529.0 1361.2L1538.4 1340.5L1547.8 1338.3L1557.2 1338.3L1566.6 1334.2L1576.0 1334.2L1585.4 1293.4L1594.8 1270.6L1604.2 1250.2L1613.6 1226.2L1623.0 1203.6L1632.4 1203.6L1641.8 1183.4L1660.6 1183.4L1670.0 1169.5L1679.5 1159.6L1688.9 1140.9L1735.9 1140.9L1745.3 1139.5L1754.7 1137.5L1764.1 1135.7L1801.7 1135.7L1811.1 1122.7L1933.3 1122.7L1942.7 1094.5L1952.1 1052.3L1961.5 993.3L1970.9 968.5L1999.2 968.5L2008.6 965.7L2018.0 957.5L2027.4 957.5L2036.8 952.1L2046.2 949.2L2055.6 935.5L2065.0 927.1L2102.6 927.1L2112.0 921.2L2187.2 921.2L2196.6 918.1L2206.0 914.4L2215.4 876.0L2262.4 876.0L2271.8 871.5L2281.2 867.0L2290.6 863.8L2309.5 863.8L2318.9 862.7L3484.8 862.7L3494.2 839.0L3701.1 839.0" stroke="#1878b4"/>
<path d="M269.0 2118.5L297.2 2118.5L306.6 2021.5L579.3 2021.5L588.7 2012.7L626.3 2012.7L635.7 2012.2L645.1 2011.5L692.1 2011.5L701.5 2008.7L776.8 2008.7L786.2 1994.7L805.0 1994.7L814.4 1982.7L823.8 1982.7L833.2 1968.6L842.6 1964.5L861.4 1964.5L870.8 1963.8L946.0 1963.8L955.4 1963.0L983.6 1963.0L993.0 1950.6L1002.4 1897.7L1011.8 1866.8L1040.0 1866.8L1049.4 1862.5L1058.9 1854.5L1068.3 1854.5L1077.7 1850.9L1087.1 1849.1L1096.5 1846.5L1105.9 1843.5L1115.3 1835.1L1134.1 1835.1L1143.5 1827.2L1152.9 1825.9L1162.3 1824.7L1171.7 1824.7L1181.1 1780.1L1190.5 1780.1L1199.9 1768.9L1209.3 1741.8L1218.7 1725.4L1228.1 1709.4L1237.5 1701.9L1246.9 1689.4L1256.3 1678.6L1284.5 1678.6L1293.9 1674.3L1322.1 1674.3L1331.5 1657.8L1340.9 1657.8L1350.3 1654.1L1359.7 1649.1L1369.2 1643.1L1406.8 1643.1L1416.2 1642.4L1444.4 1642.4L1453.8 1631.4L1463.2 1563.1L1472.6 1535.7L1482.0 1514.8L1491.4 1495.7L1500.8 1495.7L1510.2 1488.5L1519.6 1484.2L1632.4 1484.2L1641.8 1459.9L1651.2 1438.4L1660.6 1437.0L1670.0 1435.2L1698.3 1435.2L1707.7 1423.5L1717.1 1396.3L1726.5 1376.0L1745.3 1376.0L1754.7 1371.9L1764.1 1370.1L1773.5 1366.0L1876.9 1366.0L1886.3 1363.6L1895.7 1358.2L1905.1 1343.6L1914.5 1334.6L1923.9 1334.6L1933.3 1322.1L1942.7 1322.1L1952.1 1294.6L1961.5 1283.3L1970.9 1251.9L1980.3 1222.6L1989.7 1196.3L1999.2 1196.3L2008.6 1194.2L2018.0 1170.8L2027.4 1148.8L2036.8 1129.7L2046.2 1116.6L2055.6 1094.5L2065.0 1080.9L2121.4 1080.9L2130.8 1075.6L2140.2 1072.2L2149.6 1069.5L2159.0 1064.2L2168.4 1037.2L2177.8 1030.1L2187.2 1030.1L2196.6 1021.4L2206.0 1005.8L2224.8 1005.8L2234.2 990.0L2243.6 969.9L2281.2 969.9L2290.6 955.0L2300.0 937.9L2328.3 937.9L2337.7 892.8L2347.1 892.8L2356.5 883.3L2365.9 883.3L2375.3 845.6L2394.1 845.6L2403.5 838.4L3701.1 838.4" stroke="#1777b4"/>
<path d="M269.0 2118.5L278.4 2118.5L287.8 2100.8L334.8 2100.8L344.2 2100.7L353.6 2100.4L363.0 2100.4L372.4 2099.7L381.8 2098.4L419.4 2098.4L428.9 2051.5L438.3 1993.4L457.1 1993.4L466.5 1992.6L475.9 1988.9L485.3 1985.3L541.7 1985.3L551.1 1982.9L569.9 1982.9L579.3 1980.4L588.7 1974.2L598.1 1974.2L607.5 1961.9L616.9 1933.3L626.3 1921.8L635.7 1915.3L645.1 1912.1L654.5 1893.7L663.9 1838.2L673.3 1818.5L720.3 1818.5L729.7 1803.2L739.2 1783.5L776.8 1783.5L786.2 1752.7L795.6 1737.9L842.6 1737.9L852.0 1731.5L861.4 1727.4L889.6 1727.4L899.0 1714.4L908.4 1713.3L917.8 1672.6L927.2 1659.5L936.6 1659.5L946.0 1642.4L955.4 1640.6L964.8 1638.1L974.2 1637.5L993.0 1637.5L1002.4 1617.4L1011.8 1576.4L1021.2 1508.1L1030.6 1486.7L1058.9 1486.7L1068.3 1484.5L1096.5 1484.5L1105.9 1483.9L1115.3 1482.5L1124.7 1481.7L1143.5 1481.7L1152.9 1446.1L1162.3 1445.5L1171.7 1444.8L1181.1 1426.8L1190.5 1417.9L1218.7 1417.9L1228.1 1409.4L1237.5 1380.5L1246.9 1365.2L1256.3 1365.2L1265.7 1341.2L1284.5 1341.2L1293.9 1293.1L1303.3 1260.4L1312.7 1235.3L1340.9 1235.3L1350.3 1229.4L1359.7 1222.9L1369.2 1221.0L1388.0 1221.0L1397.4 1214.8L1416.2 1214.8L1425.6 1210.6L1435.0 1205.5L1453.8 1205.5L1463.2 1204.0L1472.6 1175.4L1482.0 1175.4L1491.4 1168.9L1557.2 1168.9L1566.6 1167.3L1576.0 1165.4L1585.4 1163.3L1623.0 1163.3L1632.4 1157.4L1641.8 1109.9L1651.2 1065.2L1688.9 1065.2L1698.3 1051.5L1707.7 1038.4L1726.5 1038.4L1735.9 1030.3L1745.3 1030.3L1754.7 1009.9L1764.1 992.4L1773.5 983.2L1914.5 983.2L1923.9 976.8L1933.3 971.5L1942.7 971.5L1952.1 970.7L1961.5 969.2L1980.3 969.2L1989.7 955.7L1999.2 939.3L2018.0 939.3L2027.4 921.2L2046.2 921.2L2055.6 917.6L2065.0 909.6L2074.4 881.3L2093.2 881.3L2102.6 868.5L2112.0 858.2L2121.4 858.2L2130.8 848.1L2140.2 835.3L3663.5 835.3L3672.9 812.3L3701.1 812.3" stroke="#1576b3"/>
<path d="M269.0 2118.5L363.0 2118.5L372.4 2105.9L381.8 2099.7L391.2 2093.2L419.4 2093.2L428.9 2089.8L438.3 2087.8L447.7 2084.3L457.1 2083.8L466.5 2083.6L494.7 2083.6L504.1 2056.7L513.5 2031.2L522.9 2013.9L532.3 1978.7L541.7 1957.8L551.1 1929.9L560.5 1922.9L588.7 1922.9L598.1 1915.0L607.5 1913.1L616.9 1911.2L626.3 1910.0L635.7 1893.7L645.1 1893.7L654.5 1881.9L663.9 1875.4L673.3 1873.8L682.7 1871.6L692.1 1871.6L701.5 1857.9L710.9 1854.8L720.3 1848.3L729.7 1848.3L739.2 1847.9L748.6 1847.1L758.0 1841.4L767.4 1833.7L776.8 1819.1L786.2 1814.9L795.6 1811.4L814.4 1811.4L823.8 1774.4L833.2 1774.4L842.6 1772.2L852.0 1769.8L861.4 1769.8L870.8 1755.0L917.8 1755.0L927.2 1742.4L936.6 1739.5L946.0 1739.5L955.4 1725.6L964.8 1701.4L974.2 1693.5L983.6 1693.5L993.0 1665.1L1002.4 1648.7L1011.8 1642.6L1021.2 1634.2L1030.6 1622.6L1077.7 1622.6L1087.1 1616.3L1096.5 1595.3L1105.9 1595.3L1115.3 1593.9L1152.9 1593.9L1162.3 1570.7L1171.7 1554.8L1181.1 1543.9L1190.5 1527.6L1199.9 1463.0L1209.3 1445.9L1218.7 1428.4L1228.1 1426.4L1237.5 1424.6L1246.9 1421.9L1284.5 1421.9L1293.9 1421.4L1303.3 1421.4L1312.7 1381.3L1322.1 1336.9L1331.5 1319.4L1425.6 1319.4L1435.0 1307.5L1482.0 1307.5L1491.4 1288.5L1566.6 1288.5L1576.0 1272.6L1585.4 1257.8L1613.6 1257.8L1623.0 1254.1L1651.2 1254.1L1660.6 1237.8L1670.0 1214.5L1698.3 1214.5L1707.7 1209.6L1717.1 1204.5L1726.5 1204.5L1735.9 1201.9L1745.3 1198.8L1754.7 1197.9L1764.1 1196.3L1858.1 1196.3L1867.5 1190.2L1876.9 1174.9L1886.3 1169.2L1905.1 1169.2L1914.5 1152.4L1923.9 1126.0L1933.3 1126.0L1942.7 1119.1L1952.1 1114.1L1980.3 1114.1L1989.7 1113.8L2008.6 1113.8L2018.0 1081.1L2046.2 1081.1L2055.6 1079.1L2065.0 1078.4L2074.4 1077.8L2083.8 1059.0L2093.2 1036.7L2121.4 1036.7L2130.8 1031.6L2140.2 1026.0L2149.6 1023.3L2159.0 1023.3L2168.4 963.6L2224.8 963.6L2234.2 958.4L2243.6 935.0L2253.0 902.1L2262.4 875.1L2309.5 875.1L2318.9 868.5L2328.3 854.1L2356.5 854.1L2365.9 839.7L2403.5 839.7L2412.9 830.5L2431.7 830.5L2441.1 824.4L2450.5 824.4L2459.9 820.8L2469.3 806.7L2497.5 806.7L2506.9 801.2L3588.3 801.2L3597.7 782.7L3701.1 782.7" stroke="#1475b2"/>
<path d="M269.0 2118.5L278.4 2118.5L287.8 2116.6L344.2 2116.6L353.6 2076.2L363.0 2033.9L372.4 1984.3L400.6 1984.3L410.0 1977.8L419.4 1961.8L428.9 1948.6L438.3 1939.1L447.7 1939.1L457.1 1885.7L466.5 1875.6L475.9 1871.0L485.3 1871.0L494.7 1839.1L522.9 1839.1L532.3 1828.9L560.5 1828.9L569.9 1807.1L645.1 1807.1L654.5 1801.3L663.9 1762.1L673.3 1746.2L682.7 1746.2L692.1 1735.2L701.5 1711.7L720.3 1711.7L729.7 1700.8L748.6 1700.8L758.0 1689.9L767.4 1678.7L776.8 1655.0L786.2 1621.0L795.6 1616.8L805.0 1605.5L861.4 1605.5L870.8 1598.0L889.6 1598.0L899.0 1555.5L908.4 1555.5L917.8 1536.5L983.6 1536.5L993.0 1499.9L1002.4 1499.9L1011.8 1482.1L1021.2 1447.8L1030.6 1447.8L1040.0 1446.1L1058.9 1446.1L1068.3 1445.7L1096.5 1445.7L1105.9 1425.1L1115.3 1405.0L1124.7 1394.0L1134.1 1382.0L1209.3 1382.0L1218.7 1372.2L1265.7 1372.2L1275.1 1367.4L1284.5 1348.5L1388.0 1348.5L1397.4 1332.7L1416.2 1332.7L1425.6 1323.9L1435.0 1322.2L1519.6 1322.2L1529.0 1266.1L1538.4 1262.3L1566.6 1262.3L1576.0 1259.5L1585.4 1255.6L1594.8 1252.9L1604.2 1252.9L1613.6 1227.2L1623.0 1211.8L1679.5 1211.8L1688.9 1210.3L1698.3 1208.8L1707.7 1159.8L1717.1 1159.8L1726.5 1139.4L1735.9 1139.4L1745.3 1126.1L1782.9 1126.1L1792.3 1079.2L1829.9 1079.2L1839.3 1075.0L1848.7 1075.0L1858.1 1074.9L1961.5 1074.9L1970.9 1073.2L1980.3 1072.1L1999.2 1072.1L2008.6 1070.3L2018.0 1069.3L2027.4 1065.5L2036.8 1060.0L2046.2 1054.7L2055.6 1054.7L2065.0 1034.6L2074.4 1020.4L2083.8 1001.1L2093.2 980.1L2102.6 969.8L2112.0 955.9L2121.4 931.3L2149.6 931.3L2159.0 919.9L2168.4 892.9L2177.8 883.5L2253.0 883.5L2262.4 881.6L2271.8 868.2L2281.2 833.4L2290.6 816.0L2431.7 816.0L2441.1 789.0L2450.5 781.1L2591.5 781.1L2600.9 776.0L3701.1 776.0" stroke="#1373b2"/>
<path d="M269.0 2118.5L306.6 2118.5L316.0 2059.8L325.4 2033.7L334.8 2033.7L344.2 2018.5L419.4 2018.5L428.9 2003.8L551.1 2003.8L560.5 1991.8L579.3 1991.8L588.7 1981.1L598.1 1973.7L607.5 1968.2L635.7 1968.2L645.1 1954.4L654.5 1930.5L663.9 1925.3L682.7 1925.3L692.1 1891.6L701.5 1860.8L710.9 1789.2L720.3 1789.2L729.7 1785.6L739.2 1783.5L748.6 1781.2L758.0 1781.2L767.4 1738.9L776.8 1711.2L786.2 1659.8L795.6 1643.1L805.0 1643.1L814.4 1629.8L852.0 1629.8L861.4 1623.7L917.8 1623.7L927.2 1620.8L936.6 1616.8L993.0 1616.8L1002.4 1608.7L1087.1 1608.7L1096.5 1555.8L1115.3 1555.8L1124.7 1554.2L1171.7 1554.2L1181.1 1529.7L1190.5 1518.5L1218.7 1518.5L1228.1 1504.5L1237.5 1496.9L1246.9 1468.8L1265.7 1468.8L1275.1 1457.0L1284.5 1442.8L1293.9 1433.8L1303.3 1425.8L1312.7 1414.4L1322.1 1403.4L1350.3 1403.4L1359.7 1393.0L1369.2 1381.6L1378.6 1380.3L1397.4 1380.3L1406.8 1368.2L1416.2 1363.6L1444.4 1363.6L1453.8 1354.7L1463.2 1350.0L1472.6 1341.1L1482.0 1335.2L1538.4 1335.2L1547.8 1325.3L1557.2 1325.3L1566.6 1319.5L1576.0 1312.8L1585.4 1310.5L1594.8 1309.1L1623.0 1309.1L1632.4 1250.2L1641.8 1217.2L1651.2 1187.1L1660.6 1184.6L1698.3 1184.6L1707.7 1170.1L1717.1 1164.8L1726.5 1155.9L1764.1 1155.9L1773.5 1145.6L1782.9 1143.2L1792.3 1143.2L1801.7 1117.2L1811.1 1116.4L1839.3 1116.4L1848.7 1115.7L1886.3 1115.7L1895.7 1096.8L1905.1 1094.7L1942.7 1094.7L1952.1 1080.6L1961.5 1071.7L1970.9 1069.2L1980.3 1057.2L1989.7 1045.0L2008.6 1045.0L2018.0 1031.5L2027.4 1010.4L2036.8 1006.0L2046.2 1002.3L2083.8 1002.3L2093.2 1000.9L2102.6 999.2L2112.0 999.2L2121.4 991.8L2130.8 983.2L2140.2 966.7L2149.6 946.5L2159.0 934.4L2168.4 917.5L2177.8 897.8L2187.2 893.7L2206.0 893.7L2215.4 876.9L2224.8 845.1L2234.2 840.0L2243.6 825.3L2253.0 808.0L2318.9 808.0L2328.3 798.3L3644.7 798.3L3654.1 753.6L3701.1 753.6" stroke="#1272b1"/>
<path d="M269.0 2118.5L278.4 2118.5L287.8 2115.0L325.4 2115.0L334.8 2039.6L344.2 2007.2L353.6 2002.5L363.0 1994.2L372.4 1988.2L428.9 1988.2L438.3 1986.6L485.3 1986.6L494.7 1980.9L504.1 1978.6L513.5 1978.6L522.9 1976.3L532.3 1973.7L626.3 1973.7L635.7 1946.7L673.3 1946.7L682.7 1935.8L692.1 1922.9L748.6 1922.9L758.0 1890.2L776.8 1890.2L786.2 1882.6L795.6 1873.7L805.0 1869.3L814.4 1860.2L823.8 1860.2L833.2 1837.1L842.6 1764.5L852.0 1713.4L889.6 1713.4L899.0 1702.9L936.6 1702.9L946.0 1694.2L955.4 1667.4L964.8 1667.4L974.2 1661.6L1002.4 1661.6L1011.8 1624.2L1021.2 1591.5L1030.6 1531.9L1040.0 1516.9L1077.7 1516.9L1087.1 1492.5L1124.7 1492.5L1134.1 1477.3L1143.5 1460.6L1152.9 1439.7L1162.3 1429.9L1171.7 1410.7L1218.7 1410.7L1228.1 1406.5L1237.5 1398.8L1246.9 1398.3L1284.5 1398.3L1293.9 1397.5L1303.3 1396.7L1491.4 1396.7L1500.8 1360.4L1510.2 1345.4L1519.6 1335.8L1529.0 1316.7L1538.4 1293.9L1547.8 1268.7L1576.0 1268.7L1585.4 1260.4L1594.8 1254.8L1604.2 1247.3L1613.6 1195.8L1632.4 1195.8L1641.8 1192.7L1651.2 1189.7L1679.5 1189.7L1688.9 1179.4L1698.3 1169.2L1707.7 1159.1L1726.5 1159.1L1735.9 1149.5L1745.3 1143.8L1754.7 1143.8L1764.1 1115.1L1886.3 1115.1L1895.7 1104.2L1905.1 1088.3L1952.1 1088.3L1961.5 1082.3L1970.9 1080.1L1989.7 1080.1L1999.2 1060.2L2008.6 1008.3L2018.0 978.6L2036.8 978.6L2046.2 968.9L2055.6 968.9L2065.0 951.8L2159.0 951.8L2168.4 948.6L2196.6 948.6L2206.0 943.9L2215.4 937.6L2224.8 937.6L2234.2 933.7L2243.6 930.4L2271.8 930.4L2281.2 900.7L2290.6 838.1L2300.0 838.1L2309.5 813.5L2318.9 809.9L2337.7 809.9L2347.1 806.0L2356.5 799.3L2384.7 799.3L2394.1 797.2L2431.7 797.2L2441.1 789.5L2450.5 786.6L3578.9 786.6L3588.3 767.8L3597.7 759.7L3654.1 759.7L3663.5 740.4L3672.9 729.3L3701.1 729.3" stroke="#1171b0"/>
<path d="M269.0 2118.5L316.0 2118.5L325.4 2104.6L334.8 2064.6L344.2 2028.5L400.6 2028.5L410.0 2025.7L438.3 2025.7L447.7 2016.7L457.1 2010.9L466.5 1993.7L475.9 1976.1L485.3 1931.2L494.7 1926.4L504.1 1923.5L522.9 1923.5L532.3 1900.7L541.7 1874.0L560.5 1874.0L569.9 1872.3L579.3 1862.8L588.7 1856.1L607.5 1856.1L616.9 1850.4L626.3 1843.9L776.8 1843.9L786.2 1828.8L795.6 1818.3L805.0 1809.6L814.4 1799.9L842.6 1799.9L852.0 1795.1L861.4 1790.8L889.6 1790.8L899.0 1749.5L908.4 1745.0L955.4 1745.0L964.8 1721.8L974.2 1706.4L983.6 1686.9L1021.2 1686.9L1030.6 1658.8L1040.0 1640.8L1049.4 1607.6L1077.7 1607.6L1087.1 1583.9L1096.5 1538.5L1105.9 1537.0L1143.5 1537.0L1152.9 1518.3L1162.3 1474.1L1171.7 1433.9L1181.1 1433.9L1190.5 1426.1L1199.9 1417.2L1218.7 1417.2L1228.1 1405.6L1237.5 1394.9L1246.9 1394.3L1256.3 1373.5L1303.3 1373.5L1312.7 1369.6L1322.1 1369.6L1331.5 1354.9L1340.9 1354.9L1350.3 1320.9L1388.0 1320.9L1397.4 1298.4L1406.8 1286.6L1416.2 1260.1L1425.6 1245.1L1435.0 1235.3L1444.4 1225.0L1453.8 1196.0L1510.2 1196.0L1519.6 1183.0L1529.0 1159.9L1547.8 1159.9L1557.2 1143.8L1566.6 1143.8L1576.0 1108.3L1585.4 1073.6L1594.8 1063.1L1604.2 1052.0L1613.6 1051.2L1641.8 1051.2L1651.2 1040.0L1660.6 1034.1L1670.0 1017.0L1679.5 1015.5L1698.3 1015.5L1707.7 1004.7L1735.9 1004.7L1745.3 998.6L1764.1 998.6L1773.5 994.8L1782.9 994.8L1792.3 989.0L1801.7 985.2L1811.1 985.2L1820.5 982.5L1829.9 978.0L1858.1 978.0L1867.5 961.8L2008.6 961.8L2018.0 934.7L2036.8 934.7L2046.2 914.2L2065.0 914.2L2074.4 913.5L2083.8 913.1L2093.2 910.1L2121.4 910.1L2130.8 900.2L2140.2 894.5L2149.6 889.0L2159.0 878.0L2168.4 878.0L2177.8 839.2L2187.2 812.1L2206.0 812.1L2215.4 806.2L2224.8 798.5L2234.2 791.9L2243.6 791.9L2253.0 767.8L2262.4 727.1L2431.7 727.1L2441.1 715.4L3701.1 715.4" stroke="#0f70b0"/>
<path d="M269.0 2118.5L325.4 2118.5L334.8 2117.5L344.2 2114.9L353.6 2114.9L363.0 2114.1L372.4 2113.3L391.2 2113.3L400.6 2104.9L410.0 2104.9L419.4 2093.6L428.9 2081.9L447.7 2081.9L457.1 2081.6L466.5 2064.9L494.7 2064.9L504.1 2060.4L522.9 2060.4L532.3 2047.5L541.7 2037.7L551.1 2035.9L560.5 2032.3L569.9 2030.1L579.3 2030.1L588.7 2026.4L616.9 2026.4L626.3 2006.6L701.5 2006.6L710.9 1994.4L729.7 1994.4L739.2 1958.1L748.6 1927.6L758.0 1900.2L786.2 1900.2L795.6 1896.2L805.0 1896.2L814.4 1895.1L823.8 1893.7L889.6 1893.7L899.0 1886.3L908.4 1885.2L917.8 1871.8L927.2 1850.9L936.6 1825.9L946.0 1823.7L955.4 1820.1L964.8 1814.9L974.2 1806.5L983.6 1805.3L993.0 1787.6L1002.4 1776.0L1030.6 1776.0L1040.0 1770.2L1049.4 1761.6L1068.3 1761.6L1077.7 1739.5L1087.1 1707.9L1096.5 1627.2L1105.9 1627.2L1115.3 1614.6L1124.7 1613.6L1134.1 1609.3L1143.5 1597.5L1152.9 1585.8L1162.3 1585.8L1171.7 1551.1L1181.1 1505.4L1190.5 1491.7L1199.9 1465.8L1209.3 1444.4L1218.7 1396.3L1228.1 1393.7L1237.5 1393.2L1303.3 1393.2L1312.7 1373.6L1322.1 1331.5L1331.5 1304.3L1350.3 1304.3L1359.7 1296.8L1369.2 1289.9L1378.6 1280.3L1397.4 1280.3L1406.8 1258.5L1425.6 1258.5L1435.0 1253.5L1444.4 1250.9L1453.8 1230.0L1463.2 1208.9L1566.6 1208.9L1576.0 1208.8L1585.4 1208.8L1594.8 1193.1L1604.2 1180.5L1613.6 1162.0L1623.0 1162.0L1632.4 1157.6L1641.8 1155.6L1726.5 1155.6L1735.9 1155.5L1745.3 1155.5L1754.7 1154.0L1792.3 1154.0L1801.7 1121.6L1867.5 1121.6L1876.9 1120.7L1886.3 1118.5L1895.7 1117.5L1905.1 1092.7L1914.5 1068.7L1923.9 1044.7L1999.2 1044.7L2008.6 1026.4L2018.0 985.0L2027.4 969.3L2036.8 963.7L2130.8 963.7L2140.2 949.5L2149.6 915.1L2159.0 892.6L2168.4 860.0L2177.8 860.0L2187.2 849.3L2206.0 849.3L2215.4 848.7L2309.5 848.7L2318.9 848.2L2337.7 848.2L2347.1 830.5L2356.5 662.8L2365.9 659.7L3701.1 659.7" stroke="#0e6eaf"/>
<path d="M269.0 2118.5L287.8 2118.5L297.2 2114.7L306.6 2110.1L316.0 2105.4L325.4 2092.9L334.8 2092.9L344.2 2006.2L353.6 1976.1L363.0 1969.0L447.7 1969.0L457.1 1938.6L485.3 1938.6L494.7 1892.2L504.1 1892.2L513.5 1882.2L522.9 1871.7L532.3 1858.1L560.5 1858.1L569.9 1831.8L579.3 1818.0L588.7 1791.2L598.1 1776.1L673.3 1776.1L682.7 1774.2L692.1 1774.2L701.5 1770.1L710.9 1758.2L720.3 1755.7L729.7 1754.8L767.4 1754.8L776.8 1751.8L786.2 1749.2L795.6 1712.1L805.0 1662.1L814.4 1641.3L823.8 1599.6L899.0 1599.6L908.4 1595.8L946.0 1595.8L955.4 1577.7L974.2 1577.7L983.6 1567.3L993.0 1552.9L1002.4 1540.7L1011.8 1538.9L1021.2 1520.4L1030.6 1520.4L1040.0 1518.3L1049.4 1514.4L1058.9 1512.3L1068.3 1511.2L1096.5 1511.2L1105.9 1471.5L1124.7 1471.5L1134.1 1460.9L1143.5 1456.9L1152.9 1456.9L1162.3 1435.8L1171.7 1413.4L1209.3 1413.4L1218.7 1408.4L1228.1 1396.2L1237.5 1385.1L1246.9 1380.8L1359.7 1380.8L1369.2 1378.2L1388.0 1378.2L1397.4 1374.0L1406.8 1368.8L1416.2 1358.5L1425.6 1350.0L1500.8 1350.0L1510.2 1341.0L1519.6 1331.4L1529.0 1324.1L1538.4 1324.1L1547.8 1317.7L1557.2 1312.1L1566.6 1289.7L1576.0 1289.7L1585.4 1267.1L1594.8 1230.3L1604.2 1215.2L1613.6 1212.9L1632.4 1212.9L1641.8 1195.3L1651.2 1158.5L1660.6 1117.2L1670.0 1117.2L1679.5 1111.8L1688.9 1100.9L1698.3 1082.7L1707.7 1062.2L1717.1 1049.3L1726.5 1021.9L1735.9 1020.5L1745.3 1018.8L1754.7 990.7L1764.1 990.7L1773.5 990.1L1782.9 950.1L1811.1 950.1L1820.5 944.3L1839.3 944.3L1848.7 914.4L1858.1 880.1L1895.7 880.1L1905.1 875.9L1914.5 872.8L1923.9 864.1L1961.5 864.1L1970.9 849.5L1980.3 835.7L1989.7 835.3L1999.2 835.3L2008.6 827.0L2027.4 827.0L2036.8 821.2L2065.0 821.2L2074.4 819.2L2093.2 819.2L2102.6 807.3L2112.0 799.9L2121.4 799.9L2130.8 759.7L2140.2 689.6L2196.6 689.6L2206.0 687.4L2215.4 687.4L2224.8 615.8L2234.2 603.8L2253.0 603.8L2262.4 588.2L2328.3 588.2L2337.7 581.6L2347.1 581.6L2356.5 575.8L3635.3 575.8L3644.7 572.7L3701.1 572.7" stroke="#0d6daf"/>
<path d="M269.0 2118.5L306.6 2118.5L316.0 2108.2L325.4 2046.2L334.8 2024.4L400.6 2024.4L410.0 1999.7L438.3 1999.7L447.7 1995.0L457.1 1995.0L466.5 1991.9L475.9 1989.3L485.3 1958.4L522.9 1958.4L532.3 1946.1L541.7 1946.1L551.1 1926.0L560.5 1914.5L635.7 1914.5L645.1 1903.2L654.5 1897.2L710.9 1897.2L720.3 1819.2L729.7 1784.8L739.2 1776.6L767.4 1776.6L776.8 1768.2L786.2 1757.2L795.6 1745.6L814.4 1745.6L823.8 1743.4L842.6 1743.4L852.0 1723.5L861.4 1717.9L870.8 1713.2L889.6 1713.2L899.0 1708.4L908.4 1708.4L917.8 1693.8L927.2 1682.2L983.6 1682.2L993.0 1635.4L1002.4 1586.0L1087.1 1586.0L1096.5 1578.5L1105.9 1575.3L1124.7 1575.3L1134.1 1544.0L1143.5 1541.4L1152.9 1540.1L1162.3 1539.7L1171.7 1537.7L1181.1 1537.7L1190.5 1532.8L1199.9 1528.1L1218.7 1528.1L1228.1 1526.6L1237.5 1522.8L1246.9 1494.7L1256.3 1469.9L1265.7 1467.7L1303.3 1467.7L1312.7 1464.5L1322.1 1454.3L1331.5 1450.4L1340.9 1447.8L1350.3 1447.8L1359.7 1445.6L1369.2 1439.0L1378.6 1428.3L1388.0 1415.9L1406.8 1415.9L1416.2 1414.4L1425.6 1414.4L1435.0 1413.1L1444.4 1411.6L1453.8 1411.6L1463.2 1386.8L1472.6 1363.7L1482.0 1358.9L1491.4 1355.5L1566.6 1355.5L1576.0 1343.1L1660.6 1343.1L1670.0 1339.2L1679.5 1299.1L1688.9 1294.7L1698.3 1294.6L1745.3 1294.6L1754.7 1292.7L1811.1 1292.7L1820.5 1284.7L1829.9 1272.5L1839.3 1267.5L1867.5 1267.5L1876.9 1241.1L1886.3 1218.8L1895.7 1218.8L1905.1 1215.8L1914.5 1212.1L1942.7 1212.1L1952.1 1203.4L1961.5 1174.4L1970.9 1142.6L1980.3 1129.1L1989.7 1076.7L1999.2 1071.1L2008.6 1062.7L2018.0 1031.2L2027.4 1021.5L2036.8 1000.7L2055.6 1000.7L2065.0 972.0L2093.2 972.0L2102.6 955.1L2112.0 891.6L2121.4 869.0L2130.8 869.0L2140.2 861.6L2215.4 861.6L2224.8 796.1L2234.2 793.7L2610.3 793.7L2619.8 601.0L3513.0 601.0L3522.4 536.5L3701.1 536.5" stroke="#0c6cae"/>
<path d="M269.0 2118.5L278.4 2069.1L287.8 2066.3L325.4 2066.3L334.8 2058.6L391.2 2058.6L400.6 2053.6L504.1 2053.6L513.5 2051.3L522.9 2051.3L532.3 2050.9L541.7 2050.5L551.1 2050.1L560.5 1992.9L569.9 1930.4L579.3 1868.0L588.7 1830.5L598.1 1828.5L607.5 1817.8L616.9 1782.9L626.3 1775.0L635.7 1775.0L645.1 1773.0L654.5 1766.3L663.9 1755.4L673.3 1755.4L682.7 1719.5L692.1 1717.7L701.5 1691.1L710.9 1690.1L720.3 1685.6L729.7 1678.3L739.2 1665.3L748.6 1665.3L758.0 1647.9L767.4 1632.7L776.8 1630.8L786.2 1629.0L795.6 1625.5L805.0 1625.5L814.4 1625.5L842.6 1625.5L852.0 1611.8L861.4 1609.8L870.8 1609.8L880.2 1601.4L889.6 1588.5L899.0 1582.6L908.4 1582.6L917.8 1549.7L927.2 1538.2L964.8 1538.2L974.2 1524.1L983.6 1524.1L993.0 1508.4L1002.4 1495.7L1011.8 1481.9L1021.2 1461.0L1030.6 1461.0L1040.0 1456.8L1049.4 1435.8L1058.9 1411.0L1068.3 1385.3L1077.7 1378.2L1087.1 1378.2L1096.5 1373.0L1115.3 1373.0L1124.7 1364.8L1181.1 1364.8L1190.5 1350.7L1199.9 1324.8L1209.3 1324.8L1218.7 1245.4L1228.1 1193.9L1237.5 1161.7L1312.7 1161.7L1322.1 1152.1L1350.3 1152.1L1359.7 1139.2L1369.2 1121.5L1378.6 1058.8L1388.0 1058.8L1397.4 1052.4L1435.0 1052.4L1444.4 1045.2L1463.2 1045.2L1472.6 1016.4L1510.2 1016.4L1519.6 1006.2L1585.4 1006.2L1594.8 992.9L1604.2 980.8L1670.0 980.8L1679.5 968.8L1698.3 968.8L1707.7 959.1L1811.1 959.1L1820.5 947.9L1970.9 947.9L1980.3 875.5L1989.7 857.8L1999.2 857.8L2008.6 763.0L2018.0 742.1L2046.2 742.1L2055.6 689.0L2065.0 647.2L2168.4 647.2L2177.8 613.4L2206.0 613.4L2215.4 607.0L2243.6 607.0L2253.0 603.8L2262.4 562.8L2271.8 528.7L3701.1 528.7" stroke="#0b6bad"/>
<path d="M269.0 2118.5L278.4 2118.5L287.8 2077.9L325.4 2077.9L334.8 2075.2L391.2 2075.2L400.6 2024.8L447.7 2024.8L457.1 2023.3L466.5 1988.6L522.9 1988.6L532.3 1973.8L560.5 1973.8L569.9 1972.6L579.3 1971.5L588.7 1885.4L598.1 1830.6L607.5 1821.6L616.9 1811.5L626.3 1810.7L645.1 1810.7L654.5 1797.6L663.9 1790.5L673.3 1783.5L682.7 1778.6L692.1 1774.2L701.5 1754.2L710.9 1736.5L748.6 1736.5L758.0 1721.8L767.4 1714.3L776.8 1711.2L786.2 1708.0L795.6 1708.0L805.0 1707.4L814.4 1706.4L823.8 1670.6L861.4 1670.6L870.8 1636.4L880.2 1603.7L927.2 1603.7L936.6 1596.6L946.0 1576.5L955.4 1566.8L1002.4 1566.8L1011.8 1558.3L1021.2 1554.0L1068.3 1554.0L1077.7 1542.6L1087.1 1533.7L1096.5 1522.2L1105.9 1506.3L1115.3 1484.9L1124.7 1482.8L1134.1 1479.5L1143.5 1479.5L1152.9 1479.0L1162.3 1471.0L1171.7 1464.3L1190.5 1464.3L1199.9 1462.5L1209.3 1462.5L1218.7 1460.8L1228.1 1459.6L1237.5 1459.6L1246.9 1439.5L1256.3 1408.6L1265.7 1399.6L1500.8 1399.6L1510.2 1385.6L1519.6 1371.5L1529.0 1362.8L1538.4 1360.6L1547.8 1301.9L1557.2 1267.0L1585.4 1267.0L1594.8 1255.7L1604.2 1228.8L1613.6 1199.0L1623.0 1186.2L1632.4 1186.2L1641.8 1180.4L1651.2 1174.9L1670.0 1174.9L1679.5 1158.8L1688.9 1152.1L1698.3 1137.3L1782.9 1137.3L1792.3 1124.8L1801.7 1087.2L1811.1 1063.3L1839.3 1063.3L1848.7 1057.6L1858.1 1044.2L1867.5 1027.4L1876.9 1025.0L1886.3 1025.0L1895.7 1015.1L1905.1 1013.0L1914.5 1010.3L1923.9 1000.6L1933.3 997.9L1961.5 997.9L1970.9 973.1L1980.3 973.1L1989.7 969.8L1999.2 951.3L2008.6 924.7L2018.0 893.9L2027.4 890.2L2055.6 890.2L2065.0 871.0L2074.4 847.7L2083.8 840.1L2121.4 840.1L2130.8 835.3L2140.2 828.6L2159.0 828.6L2168.4 825.7L2177.8 824.1L2206.0 824.1L2215.4 800.5L2224.8 783.9L2243.6 783.9L2253.0 763.0L2262.4 731.3L2328.3 731.3L2337.7 721.8L2347.1 718.3L2403.5 718.3L2412.9 704.3L2441.1 704.3L2450.5 673.6L2459.9 668.9L2469.3 659.4L2478.7 653.9L2506.9 653.9L2516.3 591.5L2525.7 574.3L2732.6 574.3L2742.0 527.2L2751.4 496.5L3701.1 496.5" stroke="#0969ad"/>
</g>
<g stroke-width="20.83" stroke-linecap="square">
<path d="M269.0 2118.5L306.6 2118.5L316.0 2113.7L325.4 2079.9L334.8 2023.6L344.2 1935.2L372.4 1935.2L381.8 1874.1L616.9 1874.1L626.3 1796.9L635.7 1748.7L645.1 1717.0L663.9 1717.0L673.3 1694.0L682.7 1671.5L692.1 1583.5L710.9 1583.5L720.3 1504.2L729.7 1481.7L739.2 1479.2L748.6 1468.9L758.0 1467.3L767.4 1443.1L776.8 1396.5L786.2 1395.5L795.6 1391.7L814.4 1391.7L823.8 1338.6L833.2 1255.0L861.4 1255.0L870.8 1232.5L899.0 1232.5L908.4 1229.3L917.8 1195.5L1049.4 1195.5L1058.9 1176.2L1134.1 1176.2L1143.5 1175.4L1152.9 1174.1L1181.1 1174.1L1190.5 1161.7L1312.7 1161.1L1322.1 1152.1L1444.4 1152.1L1453.8 1136.7L1463.2 1124.8L1472.6 1122.3L1510.2 1122.3L1519.6 1113.5L1529.0 1112.9L1538.4 1062.0L1547.8 1055.9L1557.2 1055.1L1566.6 991.9L1585.4 991.9L1594.8 924.4L1604.2 828.9L1754.7 828.9L1764.1 817.1L1773.5 813.6L1782.9 786.4L1792.3 768.6L1829.9 768.3L1839.3 763.0L1848.7 745.9L1858.1 745.3L1867.5 742.1L1989.7 742.1L1999.2 595.7L2008.6 584.5L2083.8 584.5L2093.2 576.4L2206.0 576.4L2215.4 549.1L2318.9 549.1L2328.3 496.0L2394.1 496.0L2403.5 481.6L3644.7 481.6L3654.1 468.7L3701.1 468.7" stroke="#08306b"/>
<path d="M269.0 2118.5L682.7 2118.5L692.1 2077.2L852.0 2077.2L861.4 2068.8L1021.2 2068.8L1040.0 2056.9L1049.4 2049.0L1058.9 1998.4L1068.3 1997.1L1209.3 1996.3L1218.7 1972.8L1293.9 1972.8L1303.3 1964.1L1331.5 1964.1L1340.9 1956.1L1350.3 1955.4L1359.7 1923.1L1388.0 1923.1L1397.4 1897.1L1406.8 1862.8L1416.2 1851.6L1425.6 1849.6L1435.0 1836.1L1500.8 1836.1L1510.2 1827.5L1792.3 1827.1L1801.7 1811.4L1811.1 1811.4L1820.5 1796.9L1829.9 1796.4L1839.3 1795.3L1848.7 1755.6L1942.7 1755.6L1952.1 1746.6L1980.3 1746.6L1989.7 1739.0L3701.1 1739.0" stroke="#6baed6"/>
<path d="M269.0 2118.5L321.7 2107.4L361.1 2096.6L420.4 2078.3L480.6 2054.2L520.1 2035.0L590.6 1996.5L661.5 1958.0L732.3 1923.3L897.1 1830.7L1213.1 1653.5L1574.1 1465.3L1669.1 1416.3L1750.0 1380.4L1797.0 1361.9L1844.0 1343.4L1892.0 1324.1L1939.0 1301.6L1947.4 1300.0L1994.5 1275.9L2041.5 1247.0L2088.5 1218.0L2176.9 1164.2L2224.4 1140.8L2271.8 1119.9L2318.9 1103.9L2349.9 1095.8L2420.4 1082.9L2491.9 1073.3L2562.4 1067.7L2649.8 1064.6L2740.1 1062.2L3089.9 1062.0L3419.9 1061.6L3560.1 1057.2L3631.5 1051.6L3701.1 1042.7" stroke="#2171b5"/>
<path d="M269.0 2118.5L363.0 2118.5L372.4 2105.6L485.3 2105.6L494.7 2030.1L504.1 1944.0L616.9 1943.2L635.7 1940.0L645.1 1936.0L654.5 1928.8L663.9 1911.1L673.3 1907.9L682.7 1856.4L701.5 1851.6L758.0 1851.6L776.8 1835.5L842.6 1835.5L852.0 1829.1L927.2 1829.1L936.6 1824.2L946.0 1822.6L955.4 1819.4L964.8 1804.9L974.2 1793.7L983.6 1789.7L993.0 1787.3L1002.4 1785.6L1030.6 1785.6L1040.0 1782.4L1049.4 1777.6L1077.7 1777.6L1087.1 1772.8L1096.5 1772.8L1105.9 1706.9L1143.5 1706.9L1152.9 1703.6L1162.3 1697.2L1256.3 1697.2L1265.7 1694.0L1275.1 1688.4L1284.5 1685.9L1293.9 1684.3L1350.3 1684.3L1359.7 1621.6L1388.0 1621.6L1397.4 1620.0L1406.8 1608.8L1453.8 1607.2L1463.2 1605.5L1472.6 1605.5L1482.0 1562.1L1491.4 1560.5L1500.8 1559.7L1519.6 1558.9L1529.0 1558.9L1547.8 1512.3L1641.8 1512.3L1651.2 1483.3L1660.6 1480.1L1670.0 1462.4L1764.1 1462.4L1773.5 1423.8L1801.7 1423.8L1811.1 1382.0L1820.5 1345.1L1829.9 1333.0L1839.3 1329.8L1867.5 1329.0L1876.9 1324.1L1914.5 1324.1L1923.9 1320.9L1933.3 1304.9L2046.2 1304.9L2055.6 1304.0L2065.0 1300.0L2093.2 1300.0L2102.6 1258.2L2112.0 1210.0L2121.4 1196.3L2140.2 1196.3L2149.6 1193.9L2159.0 1185.1L2168.4 1184.3L2177.8 1179.4L2215.4 1179.4L2224.8 1177.8L2234.2 1165.0L2290.6 1163.8L2300.0 1162.2L2337.7 1162.2L2347.1 1152.1L2356.5 1141.6L2365.9 1123.1L3588.3 1123.1L3597.7 1087.8L3654.1 1087.8" stroke="#000"/>
</g>
<circle cx="3654.1" cy="1088.6" r="22.1" fill="#000" stroke="none"/>
</g>
<rect x="222.5" y="270.3" width="3488.0" height="1848.2" fill="none" stroke="#fff" stroke-width="3.33"/>
<path d="M3710.5 2118.5h14.6" stroke="#fff" stroke-width="3.33"/>
<text x="3739.5" y="2133.5" font-size="41.67">0</text>
<path d="M3710.5 1802.0h14.6" stroke="#fff" stroke-width="3.33"/>
<text x="3739.5" y="1817.0" font-size="41.67">500</text>
<path d="M3710.5 1485.4h14.6" stroke="#fff" stroke-width="3.33"/>
<text x="3739.5" y="1500.4" font-size="41.67">1000</text>
<path d="M3710.5 1168.9h14.6" stroke="#fff" stroke-width="3.33"/>
<text x="3739.5" y="1183.9" font-size="41.67">1500</text>
<path d="M3710.5 852.4h14.6" stroke="#fff" stroke-width="3.33"/>
<text x="3739.5" y="867.4" font-size="41.67">2000</text>
<path d="M3710.5 535.8h14.6" stroke="#fff" stroke-width="3.33"/>
<text x="3739.5" y="550.8" font-size="41.67">2500</text>
<text x="194" y="2133.5" font-size="41.67" text-anchor="end">0&quot;</text>
<text x="194" y="1972.7" font-size="41.67" text-anchor="end">10&quot;</text>
<text x="194" y="1811.9" font-size="41.67" text-anchor="end">20&quot;</text>
<text x="194" y="1651.1" font-size="41.67" text-anchor="end">30&quot;</text>
<text x="194" y="1490.3" font-size="41.67" text-anchor="end">40&quot;</text>
<text x="194" y="1329.5" font-size="41.67" text-anchor="end">50&quot;</text>
<text x="194" y="1168.7" font-size="41.67" text-anchor="end">60&quot;</text>
<text x="194" y="1007.9" font-size="41.67" text-anchor="end">70&quot;</text>
<text x="194" y="847.1" font-size="41.67" text-anchor="end">80&quot;</text>
<text x="194" y="686.3" font-size="41.67" text-anchor="end">90&quot;</text>
<text x="194" y="525.5" font-size="41.67" text-anchor="end">100&quot;</text>
<text x="194" y="364.7" font-size="41.67" text-anchor="end">110&quot;</text>
<text x="269.0" y="2179" font-size="41.67" text-anchor="middle">Oct 1</text>
<text x="560.5" y="2179" font-size="41.67" text-anchor="middle">Nov 1</text>
<text x="833.2" y="2179" font-size="41.67" text-anchor="middle">Dec 1</text>
<text x="1124.7" y="2179" font-size="41.67" text-anchor="middle">Jan 1</text>
<text x="1406.8" y="2179" font-size="41.67" text-anchor="middle">Feb 1</text>
<text x="1698.3" y="2179" font-size="41.67" text-anchor="middle">Mar 1</text>
<text x="1980.3" y="2179" font-size="41.67" text-anchor="middle">Apr 1</text>
<text x="2271.8" y="2179" font-size="41.67" text-anchor="middle">May 1</text>
<text x="2563.3" y="2179" font-size="41.67" text-anchor="middle">Jun 1</text>
<text x="2845.4" y="2179" font-size="41.67" text-anchor="middle">Jul 1</text>
<text x="3136.9" y="2179" font-size="41.67" text-anchor="middle">Aug 1</text>
<text x="3419.0" y="2179" font-size="41.67" text-anchor="middle">Sep 1</text>
<text x="1910.5" y="94" font-size="83.4" text-anchor="middle">2020-2021 Accumulated Snowfall For Walden, CO</text>
<text x="1966.6" y="245.1" font-size="50.05" text-anchor="middle">GHCN-D ID= USC00058756 | LAT= 40.7442 | LON= -106.2792 | ELEV= 8056' | Period= 1897-2021 | Season To Date Report= 99%</text>
<text x="295.5" y="328.6" font-size="29.17">Generated by Jared Rennie (@jjrennie) on: 2021-09-28 08:35 Eastern. Data up to 20210926</text>
<text transform="translate(67.4,1195) rotate(-90)" font-size="50.1" text-anchor="middle">Accumulated Snowfall (inches)</text>
<text transform="translate(3891.3,1196) rotate(90)" font-size="50.15" text-anchor="middle">Accumulated Snowfall (mm)</text>
<rect x="222.1" y="2218.1" width="3488" height="87.8" rx="8.5" fill="#666" stroke="#a3a3a3" stroke-width="3.6"/>
<rect x="231.7" y="2249" width="121.2" height="20.8" fill="#08306b"/>
<text x="381.2" y="2277" font-size="50.25" style="white-space:pre">Max (1985-1986):  102.6&quot;</text>
<rect x="1116.1" y="2249" width="121.2" height="20.8" fill="#6baed6"/>
<text x="1265.0" y="2277" font-size="50.25" style="white-space:pre">Min (1962-1963):   23.6&quot;</text>
<rect x="1968.9" y="2249" width="121.2" height="20.8" fill="#2171b5"/>
<text x="2118.3" y="2277" font-size="50.25" style="white-space:pre">Avg (1991-2020):   67.1&quot;</text>
<rect x="2824.7" y="2249" width="121.2" height="20.8" fill="#000000"/>
<text x="2973.0" y="2277" font-size="50.25" style="white-space:pre">Current (2020-2021):   64.1&quot;</text>
</svg></body></html>
